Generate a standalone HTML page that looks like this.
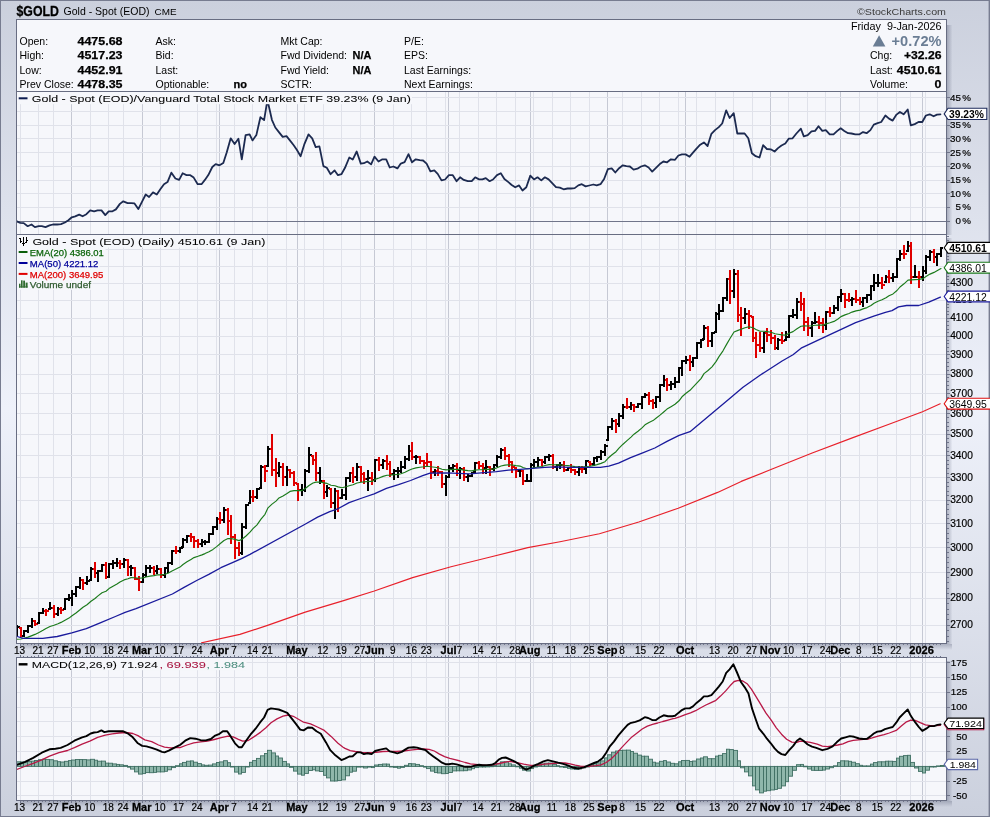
<!DOCTYPE html>
<html><head><meta charset="utf-8"><title>$GOLD - StockCharts</title>
<style>html,body{margin:0;padding:0;background:#cbd0dd;}body{width:990px;height:817px;overflow:hidden;font-family:"Liberation Sans",sans-serif;}svg{display:block}</style>
</head><body>
<svg width="990" height="817" viewBox="0 0 990 817" font-family="Liberation Sans, sans-serif" style="will-change:transform">
<defs>
<linearGradient id="bg" x1="0" y1="0" x2="0" y2="1"><stop offset="0" stop-color="#cbd0dd"/><stop offset="0.5" stop-color="#eef1fa"/><stop offset="1" stop-color="#cbd0dd"/></linearGradient>
<linearGradient id="shr" x1="0" y1="0" x2="1" y2="0"><stop offset="0" stop-color="#5a6078" stop-opacity="0.4"/><stop offset="1" stop-color="#5a6078" stop-opacity="0"/></linearGradient>
<linearGradient id="shb" x1="0" y1="0" x2="0" y2="1"><stop offset="0" stop-color="#5a6078" stop-opacity="0.36"/><stop offset="1" stop-color="#5a6078" stop-opacity="0"/></linearGradient>
</defs>
<rect x="0" y="0" width="990" height="817" fill="url(#bg)"/>
<rect x="0.5" y="0.5" width="989" height="816" fill="none" stroke="#777c90" stroke-width="1"/>
<rect x="988.6" y="0" width="1.4" height="817" fill="#787d91"/>
<rect x="947" y="25" width="5.5" height="210" fill="url(#shr)"/>
<rect x="947" y="238" width="5.5" height="406" fill="url(#shr)"/>
<rect x="947" y="661" width="5.5" height="140" fill="url(#shr)"/>
<rect x="20" y="644" width="932" height="6" fill="url(#shb)"/>
<rect x="20" y="801" width="932" height="6" fill="url(#shb)"/>
<rect x="16.5" y="19.5" width="930" height="624" fill="#f6f7fb" stroke="#686d82"/>
<rect x="16.5" y="657.5" width="930" height="143" fill="#f6f7fb" stroke="#686d82"/>
<g shape-rendering="crispEdges">
<line x1="20.5" y1="92" x2="20.5" y2="234" stroke="#e0e2ea"/>
<line x1="38.5" y1="92" x2="38.5" y2="234" stroke="#e0e2ea"/>
<line x1="53.5" y1="92" x2="53.5" y2="234" stroke="#e0e2ea"/>
<line x1="90.5" y1="92" x2="90.5" y2="234" stroke="#e0e2ea"/>
<line x1="108.5" y1="92" x2="108.5" y2="234" stroke="#e0e2ea"/>
<line x1="123.5" y1="92" x2="123.5" y2="234" stroke="#e0e2ea"/>
<line x1="160.5" y1="92" x2="160.5" y2="234" stroke="#e0e2ea"/>
<line x1="179.5" y1="92" x2="179.5" y2="234" stroke="#e0e2ea"/>
<line x1="197.5" y1="92" x2="197.5" y2="234" stroke="#e0e2ea"/>
<line x1="216.5" y1="92" x2="216.5" y2="234" stroke="#e0e2ea"/>
<line x1="234.5" y1="92" x2="234.5" y2="234" stroke="#e0e2ea"/>
<line x1="252.5" y1="92" x2="252.5" y2="234" stroke="#e0e2ea"/>
<line x1="267.5" y1="92" x2="267.5" y2="234" stroke="#e0e2ea"/>
<line x1="286.5" y1="92" x2="286.5" y2="234" stroke="#e0e2ea"/>
<line x1="304.5" y1="92" x2="304.5" y2="234" stroke="#e0e2ea"/>
<line x1="323.5" y1="92" x2="323.5" y2="234" stroke="#e0e2ea"/>
<line x1="341.5" y1="92" x2="341.5" y2="234" stroke="#e0e2ea"/>
<line x1="360.5" y1="92" x2="360.5" y2="234" stroke="#e0e2ea"/>
<line x1="393.5" y1="92" x2="393.5" y2="234" stroke="#e0e2ea"/>
<line x1="411.5" y1="92" x2="411.5" y2="234" stroke="#e0e2ea"/>
<line x1="426.5" y1="92" x2="426.5" y2="234" stroke="#e0e2ea"/>
<line x1="445.5" y1="92" x2="445.5" y2="234" stroke="#e0e2ea"/>
<line x1="459.5" y1="92" x2="459.5" y2="234" stroke="#e0e2ea"/>
<line x1="478.5" y1="92" x2="478.5" y2="234" stroke="#e0e2ea"/>
<line x1="496.5" y1="92" x2="496.5" y2="234" stroke="#e0e2ea"/>
<line x1="515.5" y1="92" x2="515.5" y2="234" stroke="#e0e2ea"/>
<line x1="533.5" y1="92" x2="533.5" y2="234" stroke="#e0e2ea"/>
<line x1="552.5" y1="92" x2="552.5" y2="234" stroke="#e0e2ea"/>
<line x1="570.5" y1="92" x2="570.5" y2="234" stroke="#e0e2ea"/>
<line x1="589.5" y1="92" x2="589.5" y2="234" stroke="#e0e2ea"/>
<line x1="622.5" y1="92" x2="622.5" y2="234" stroke="#e0e2ea"/>
<line x1="641.5" y1="92" x2="641.5" y2="234" stroke="#e0e2ea"/>
<line x1="659.5" y1="92" x2="659.5" y2="234" stroke="#e0e2ea"/>
<line x1="678.5" y1="92" x2="678.5" y2="234" stroke="#e0e2ea"/>
<line x1="696.5" y1="92" x2="696.5" y2="234" stroke="#e0e2ea"/>
<line x1="715.5" y1="92" x2="715.5" y2="234" stroke="#e0e2ea"/>
<line x1="733.5" y1="92" x2="733.5" y2="234" stroke="#e0e2ea"/>
<line x1="752.5" y1="92" x2="752.5" y2="234" stroke="#e0e2ea"/>
<line x1="788.5" y1="92" x2="788.5" y2="234" stroke="#e0e2ea"/>
<line x1="807.5" y1="92" x2="807.5" y2="234" stroke="#e0e2ea"/>
<line x1="825.5" y1="92" x2="825.5" y2="234" stroke="#e0e2ea"/>
<line x1="859.5" y1="92" x2="859.5" y2="234" stroke="#e0e2ea"/>
<line x1="877.5" y1="92" x2="877.5" y2="234" stroke="#e0e2ea"/>
<line x1="896.5" y1="92" x2="896.5" y2="234" stroke="#e0e2ea"/>
<line x1="910.5" y1="92" x2="910.5" y2="234" stroke="#e0e2ea"/>
<line x1="925.5" y1="92" x2="925.5" y2="234" stroke="#e0e2ea"/>
<line x1="71.5" y1="92" x2="71.5" y2="234" stroke="#c6c9d4"/>
<line x1="142.5" y1="92" x2="142.5" y2="234" stroke="#c6c9d4"/>
<line x1="219.5" y1="92" x2="219.5" y2="234" stroke="#c6c9d4"/>
<line x1="297.5" y1="92" x2="297.5" y2="234" stroke="#c6c9d4"/>
<line x1="374.5" y1="92" x2="374.5" y2="234" stroke="#c6c9d4"/>
<line x1="448.5" y1="92" x2="448.5" y2="234" stroke="#c6c9d4"/>
<line x1="530.5" y1="92" x2="530.5" y2="234" stroke="#c6c9d4"/>
<line x1="607.5" y1="92" x2="607.5" y2="234" stroke="#c6c9d4"/>
<line x1="685.5" y1="92" x2="685.5" y2="234" stroke="#c6c9d4"/>
<line x1="770.5" y1="92" x2="770.5" y2="234" stroke="#c6c9d4"/>
<line x1="840.5" y1="92" x2="840.5" y2="234" stroke="#c6c9d4"/>
<line x1="922.5" y1="92" x2="922.5" y2="234" stroke="#c6c9d4"/>
<line x1="20.5" y1="235" x2="20.5" y2="643" stroke="#e0e2ea"/>
<line x1="38.5" y1="235" x2="38.5" y2="643" stroke="#e0e2ea"/>
<line x1="53.5" y1="235" x2="53.5" y2="643" stroke="#e0e2ea"/>
<line x1="90.5" y1="235" x2="90.5" y2="643" stroke="#e0e2ea"/>
<line x1="108.5" y1="235" x2="108.5" y2="643" stroke="#e0e2ea"/>
<line x1="123.5" y1="235" x2="123.5" y2="643" stroke="#e0e2ea"/>
<line x1="160.5" y1="235" x2="160.5" y2="643" stroke="#e0e2ea"/>
<line x1="179.5" y1="235" x2="179.5" y2="643" stroke="#e0e2ea"/>
<line x1="197.5" y1="235" x2="197.5" y2="643" stroke="#e0e2ea"/>
<line x1="216.5" y1="235" x2="216.5" y2="643" stroke="#e0e2ea"/>
<line x1="234.5" y1="235" x2="234.5" y2="643" stroke="#e0e2ea"/>
<line x1="252.5" y1="235" x2="252.5" y2="643" stroke="#e0e2ea"/>
<line x1="267.5" y1="235" x2="267.5" y2="643" stroke="#e0e2ea"/>
<line x1="286.5" y1="235" x2="286.5" y2="643" stroke="#e0e2ea"/>
<line x1="304.5" y1="235" x2="304.5" y2="643" stroke="#e0e2ea"/>
<line x1="323.5" y1="235" x2="323.5" y2="643" stroke="#e0e2ea"/>
<line x1="341.5" y1="235" x2="341.5" y2="643" stroke="#e0e2ea"/>
<line x1="360.5" y1="235" x2="360.5" y2="643" stroke="#e0e2ea"/>
<line x1="393.5" y1="235" x2="393.5" y2="643" stroke="#e0e2ea"/>
<line x1="411.5" y1="235" x2="411.5" y2="643" stroke="#e0e2ea"/>
<line x1="426.5" y1="235" x2="426.5" y2="643" stroke="#e0e2ea"/>
<line x1="445.5" y1="235" x2="445.5" y2="643" stroke="#e0e2ea"/>
<line x1="459.5" y1="235" x2="459.5" y2="643" stroke="#e0e2ea"/>
<line x1="478.5" y1="235" x2="478.5" y2="643" stroke="#e0e2ea"/>
<line x1="496.5" y1="235" x2="496.5" y2="643" stroke="#e0e2ea"/>
<line x1="515.5" y1="235" x2="515.5" y2="643" stroke="#e0e2ea"/>
<line x1="533.5" y1="235" x2="533.5" y2="643" stroke="#e0e2ea"/>
<line x1="552.5" y1="235" x2="552.5" y2="643" stroke="#e0e2ea"/>
<line x1="570.5" y1="235" x2="570.5" y2="643" stroke="#e0e2ea"/>
<line x1="589.5" y1="235" x2="589.5" y2="643" stroke="#e0e2ea"/>
<line x1="622.5" y1="235" x2="622.5" y2="643" stroke="#e0e2ea"/>
<line x1="641.5" y1="235" x2="641.5" y2="643" stroke="#e0e2ea"/>
<line x1="659.5" y1="235" x2="659.5" y2="643" stroke="#e0e2ea"/>
<line x1="678.5" y1="235" x2="678.5" y2="643" stroke="#e0e2ea"/>
<line x1="696.5" y1="235" x2="696.5" y2="643" stroke="#e0e2ea"/>
<line x1="715.5" y1="235" x2="715.5" y2="643" stroke="#e0e2ea"/>
<line x1="733.5" y1="235" x2="733.5" y2="643" stroke="#e0e2ea"/>
<line x1="752.5" y1="235" x2="752.5" y2="643" stroke="#e0e2ea"/>
<line x1="788.5" y1="235" x2="788.5" y2="643" stroke="#e0e2ea"/>
<line x1="807.5" y1="235" x2="807.5" y2="643" stroke="#e0e2ea"/>
<line x1="825.5" y1="235" x2="825.5" y2="643" stroke="#e0e2ea"/>
<line x1="859.5" y1="235" x2="859.5" y2="643" stroke="#e0e2ea"/>
<line x1="877.5" y1="235" x2="877.5" y2="643" stroke="#e0e2ea"/>
<line x1="896.5" y1="235" x2="896.5" y2="643" stroke="#e0e2ea"/>
<line x1="910.5" y1="235" x2="910.5" y2="643" stroke="#e0e2ea"/>
<line x1="925.5" y1="235" x2="925.5" y2="643" stroke="#e0e2ea"/>
<line x1="71.5" y1="235" x2="71.5" y2="643" stroke="#c6c9d4"/>
<line x1="142.5" y1="235" x2="142.5" y2="643" stroke="#c6c9d4"/>
<line x1="219.5" y1="235" x2="219.5" y2="643" stroke="#c6c9d4"/>
<line x1="297.5" y1="235" x2="297.5" y2="643" stroke="#c6c9d4"/>
<line x1="374.5" y1="235" x2="374.5" y2="643" stroke="#c6c9d4"/>
<line x1="448.5" y1="235" x2="448.5" y2="643" stroke="#c6c9d4"/>
<line x1="530.5" y1="235" x2="530.5" y2="643" stroke="#c6c9d4"/>
<line x1="607.5" y1="235" x2="607.5" y2="643" stroke="#c6c9d4"/>
<line x1="685.5" y1="235" x2="685.5" y2="643" stroke="#c6c9d4"/>
<line x1="770.5" y1="235" x2="770.5" y2="643" stroke="#c6c9d4"/>
<line x1="840.5" y1="235" x2="840.5" y2="643" stroke="#c6c9d4"/>
<line x1="922.5" y1="235" x2="922.5" y2="643" stroke="#c6c9d4"/>
<line x1="20.5" y1="658" x2="20.5" y2="800" stroke="#e0e2ea"/>
<line x1="38.5" y1="658" x2="38.5" y2="800" stroke="#e0e2ea"/>
<line x1="53.5" y1="658" x2="53.5" y2="800" stroke="#e0e2ea"/>
<line x1="90.5" y1="658" x2="90.5" y2="800" stroke="#e0e2ea"/>
<line x1="108.5" y1="658" x2="108.5" y2="800" stroke="#e0e2ea"/>
<line x1="123.5" y1="658" x2="123.5" y2="800" stroke="#e0e2ea"/>
<line x1="160.5" y1="658" x2="160.5" y2="800" stroke="#e0e2ea"/>
<line x1="179.5" y1="658" x2="179.5" y2="800" stroke="#e0e2ea"/>
<line x1="197.5" y1="658" x2="197.5" y2="800" stroke="#e0e2ea"/>
<line x1="216.5" y1="658" x2="216.5" y2="800" stroke="#e0e2ea"/>
<line x1="234.5" y1="658" x2="234.5" y2="800" stroke="#e0e2ea"/>
<line x1="252.5" y1="658" x2="252.5" y2="800" stroke="#e0e2ea"/>
<line x1="267.5" y1="658" x2="267.5" y2="800" stroke="#e0e2ea"/>
<line x1="286.5" y1="658" x2="286.5" y2="800" stroke="#e0e2ea"/>
<line x1="304.5" y1="658" x2="304.5" y2="800" stroke="#e0e2ea"/>
<line x1="323.5" y1="658" x2="323.5" y2="800" stroke="#e0e2ea"/>
<line x1="341.5" y1="658" x2="341.5" y2="800" stroke="#e0e2ea"/>
<line x1="360.5" y1="658" x2="360.5" y2="800" stroke="#e0e2ea"/>
<line x1="393.5" y1="658" x2="393.5" y2="800" stroke="#e0e2ea"/>
<line x1="411.5" y1="658" x2="411.5" y2="800" stroke="#e0e2ea"/>
<line x1="426.5" y1="658" x2="426.5" y2="800" stroke="#e0e2ea"/>
<line x1="445.5" y1="658" x2="445.5" y2="800" stroke="#e0e2ea"/>
<line x1="459.5" y1="658" x2="459.5" y2="800" stroke="#e0e2ea"/>
<line x1="478.5" y1="658" x2="478.5" y2="800" stroke="#e0e2ea"/>
<line x1="496.5" y1="658" x2="496.5" y2="800" stroke="#e0e2ea"/>
<line x1="515.5" y1="658" x2="515.5" y2="800" stroke="#e0e2ea"/>
<line x1="533.5" y1="658" x2="533.5" y2="800" stroke="#e0e2ea"/>
<line x1="552.5" y1="658" x2="552.5" y2="800" stroke="#e0e2ea"/>
<line x1="570.5" y1="658" x2="570.5" y2="800" stroke="#e0e2ea"/>
<line x1="589.5" y1="658" x2="589.5" y2="800" stroke="#e0e2ea"/>
<line x1="622.5" y1="658" x2="622.5" y2="800" stroke="#e0e2ea"/>
<line x1="641.5" y1="658" x2="641.5" y2="800" stroke="#e0e2ea"/>
<line x1="659.5" y1="658" x2="659.5" y2="800" stroke="#e0e2ea"/>
<line x1="678.5" y1="658" x2="678.5" y2="800" stroke="#e0e2ea"/>
<line x1="696.5" y1="658" x2="696.5" y2="800" stroke="#e0e2ea"/>
<line x1="715.5" y1="658" x2="715.5" y2="800" stroke="#e0e2ea"/>
<line x1="733.5" y1="658" x2="733.5" y2="800" stroke="#e0e2ea"/>
<line x1="752.5" y1="658" x2="752.5" y2="800" stroke="#e0e2ea"/>
<line x1="788.5" y1="658" x2="788.5" y2="800" stroke="#e0e2ea"/>
<line x1="807.5" y1="658" x2="807.5" y2="800" stroke="#e0e2ea"/>
<line x1="825.5" y1="658" x2="825.5" y2="800" stroke="#e0e2ea"/>
<line x1="859.5" y1="658" x2="859.5" y2="800" stroke="#e0e2ea"/>
<line x1="877.5" y1="658" x2="877.5" y2="800" stroke="#e0e2ea"/>
<line x1="896.5" y1="658" x2="896.5" y2="800" stroke="#e0e2ea"/>
<line x1="910.5" y1="658" x2="910.5" y2="800" stroke="#e0e2ea"/>
<line x1="925.5" y1="658" x2="925.5" y2="800" stroke="#e0e2ea"/>
<line x1="71.5" y1="658" x2="71.5" y2="800" stroke="#c6c9d4"/>
<line x1="142.5" y1="658" x2="142.5" y2="800" stroke="#c6c9d4"/>
<line x1="219.5" y1="658" x2="219.5" y2="800" stroke="#c6c9d4"/>
<line x1="297.5" y1="658" x2="297.5" y2="800" stroke="#c6c9d4"/>
<line x1="374.5" y1="658" x2="374.5" y2="800" stroke="#c6c9d4"/>
<line x1="448.5" y1="658" x2="448.5" y2="800" stroke="#c6c9d4"/>
<line x1="530.5" y1="658" x2="530.5" y2="800" stroke="#c6c9d4"/>
<line x1="607.5" y1="658" x2="607.5" y2="800" stroke="#c6c9d4"/>
<line x1="685.5" y1="658" x2="685.5" y2="800" stroke="#c6c9d4"/>
<line x1="770.5" y1="658" x2="770.5" y2="800" stroke="#c6c9d4"/>
<line x1="840.5" y1="658" x2="840.5" y2="800" stroke="#c6c9d4"/>
<line x1="922.5" y1="658" x2="922.5" y2="800" stroke="#c6c9d4"/>
<line x1="17" y1="207.5" x2="946" y2="207.5" stroke="#e0e2ea"/>
<line x1="17" y1="193.5" x2="946" y2="193.5" stroke="#e0e2ea"/>
<line x1="17" y1="180.5" x2="946" y2="180.5" stroke="#e0e2ea"/>
<line x1="17" y1="166.5" x2="946" y2="166.5" stroke="#e0e2ea"/>
<line x1="17" y1="152.5" x2="946" y2="152.5" stroke="#e0e2ea"/>
<line x1="17" y1="138.5" x2="946" y2="138.5" stroke="#e0e2ea"/>
<line x1="17" y1="125.5" x2="946" y2="125.5" stroke="#e0e2ea"/>
<line x1="17" y1="111.5" x2="946" y2="111.5" stroke="#e0e2ea"/>
<line x1="17" y1="97.5" x2="946" y2="97.5" stroke="#e0e2ea"/>
<line x1="17" y1="625.5" x2="946" y2="625.5" stroke="#e0e2ea"/>
<line x1="17" y1="598.5" x2="946" y2="598.5" stroke="#e0e2ea"/>
<line x1="17" y1="572.5" x2="946" y2="572.5" stroke="#e0e2ea"/>
<line x1="17" y1="547.5" x2="946" y2="547.5" stroke="#e0e2ea"/>
<line x1="17" y1="523.5" x2="946" y2="523.5" stroke="#e0e2ea"/>
<line x1="17" y1="500.5" x2="946" y2="500.5" stroke="#e0e2ea"/>
<line x1="17" y1="477.5" x2="946" y2="477.5" stroke="#e0e2ea"/>
<line x1="17" y1="455.5" x2="946" y2="455.5" stroke="#e0e2ea"/>
<line x1="17" y1="434.5" x2="946" y2="434.5" stroke="#e0e2ea"/>
<line x1="17" y1="413.5" x2="946" y2="413.5" stroke="#e0e2ea"/>
<line x1="17" y1="393.5" x2="946" y2="393.5" stroke="#e0e2ea"/>
<line x1="17" y1="374.5" x2="946" y2="374.5" stroke="#e0e2ea"/>
<line x1="17" y1="354.5" x2="946" y2="354.5" stroke="#e0e2ea"/>
<line x1="17" y1="336.5" x2="946" y2="336.5" stroke="#e0e2ea"/>
<line x1="17" y1="318.5" x2="946" y2="318.5" stroke="#e0e2ea"/>
<line x1="17" y1="300.5" x2="946" y2="300.5" stroke="#e0e2ea"/>
<line x1="17" y1="283.5" x2="946" y2="283.5" stroke="#e0e2ea"/>
<line x1="17" y1="266.5" x2="946" y2="266.5" stroke="#e0e2ea"/>
<line x1="17" y1="249.5" x2="946" y2="249.5" stroke="#e0e2ea"/>
<line x1="17" y1="795.5" x2="946" y2="795.5" stroke="#e0e2ea"/>
<line x1="17" y1="781.5" x2="946" y2="781.5" stroke="#e0e2ea"/>
<line x1="17" y1="751.5" x2="946" y2="751.5" stroke="#e0e2ea"/>
<line x1="17" y1="736.5" x2="946" y2="736.5" stroke="#e0e2ea"/>
<line x1="17" y1="721.5" x2="946" y2="721.5" stroke="#e0e2ea"/>
<line x1="17" y1="707.5" x2="946" y2="707.5" stroke="#e0e2ea"/>
<line x1="17" y1="692.5" x2="946" y2="692.5" stroke="#e0e2ea"/>
<line x1="17" y1="677.5" x2="946" y2="677.5" stroke="#e0e2ea"/>
<line x1="17" y1="662.5" x2="946" y2="662.5" stroke="#e0e2ea"/>
<line x1="17" y1="221.5" x2="946" y2="221.5" stroke="#70758a"/>
<line x1="17" y1="766.5" x2="946" y2="766.5" stroke="#e0e2ea"/>
<line x1="17" y1="91.5" x2="946" y2="91.5" stroke="#686d82"/>
<line x1="17" y1="234.5" x2="946" y2="234.5" stroke="#686d82"/>
</g>
<g shape-rendering="crispEdges" stroke="#70758a">
<line x1="947" y1="221.5" x2="950" y2="221.5"/>
<line x1="947" y1="207.5" x2="950" y2="207.5"/>
<line x1="947" y1="193.5" x2="950" y2="193.5"/>
<line x1="947" y1="180.5" x2="950" y2="180.5"/>
<line x1="947" y1="166.5" x2="950" y2="166.5"/>
<line x1="947" y1="152.5" x2="950" y2="152.5"/>
<line x1="947" y1="138.5" x2="950" y2="138.5"/>
<line x1="947" y1="125.5" x2="950" y2="125.5"/>
<line x1="947" y1="111.5" x2="950" y2="111.5"/>
<line x1="947" y1="97.5" x2="950" y2="97.5"/>
<line x1="947" y1="641.5" x2="948.5" y2="641.5"/>
<line x1="947" y1="636.5" x2="948.5" y2="636.5"/>
<line x1="947" y1="630.5" x2="948.5" y2="630.5"/>
<line x1="947" y1="625.5" x2="950" y2="625.5"/>
<line x1="947" y1="619.5" x2="948.5" y2="619.5"/>
<line x1="947" y1="614.5" x2="948.5" y2="614.5"/>
<line x1="947" y1="609.5" x2="948.5" y2="609.5"/>
<line x1="947" y1="603.5" x2="948.5" y2="603.5"/>
<line x1="947" y1="598.5" x2="950" y2="598.5"/>
<line x1="947" y1="593.5" x2="948.5" y2="593.5"/>
<line x1="947" y1="588.5" x2="948.5" y2="588.5"/>
<line x1="947" y1="582.5" x2="948.5" y2="582.5"/>
<line x1="947" y1="577.5" x2="948.5" y2="577.5"/>
<line x1="947" y1="572.5" x2="950" y2="572.5"/>
<line x1="947" y1="567.5" x2="948.5" y2="567.5"/>
<line x1="947" y1="562.5" x2="948.5" y2="562.5"/>
<line x1="947" y1="557.5" x2="948.5" y2="557.5"/>
<line x1="947" y1="552.5" x2="948.5" y2="552.5"/>
<line x1="947" y1="547.5" x2="950" y2="547.5"/>
<line x1="947" y1="542.5" x2="948.5" y2="542.5"/>
<line x1="947" y1="538.5" x2="948.5" y2="538.5"/>
<line x1="947" y1="533.5" x2="948.5" y2="533.5"/>
<line x1="947" y1="528.5" x2="948.5" y2="528.5"/>
<line x1="947" y1="523.5" x2="950" y2="523.5"/>
<line x1="947" y1="518.5" x2="948.5" y2="518.5"/>
<line x1="947" y1="514.5" x2="948.5" y2="514.5"/>
<line x1="947" y1="509.5" x2="948.5" y2="509.5"/>
<line x1="947" y1="504.5" x2="948.5" y2="504.5"/>
<line x1="947" y1="500.5" x2="950" y2="500.5"/>
<line x1="947" y1="495.5" x2="948.5" y2="495.5"/>
<line x1="947" y1="491.5" x2="948.5" y2="491.5"/>
<line x1="947" y1="486.5" x2="948.5" y2="486.5"/>
<line x1="947" y1="482.5" x2="948.5" y2="482.5"/>
<line x1="947" y1="477.5" x2="950" y2="477.5"/>
<line x1="947" y1="473.5" x2="948.5" y2="473.5"/>
<line x1="947" y1="468.5" x2="948.5" y2="468.5"/>
<line x1="947" y1="464.5" x2="948.5" y2="464.5"/>
<line x1="947" y1="460.5" x2="948.5" y2="460.5"/>
<line x1="947" y1="455.5" x2="950" y2="455.5"/>
<line x1="947" y1="451.5" x2="948.5" y2="451.5"/>
<line x1="947" y1="447.5" x2="948.5" y2="447.5"/>
<line x1="947" y1="442.5" x2="948.5" y2="442.5"/>
<line x1="947" y1="438.5" x2="948.5" y2="438.5"/>
<line x1="947" y1="434.5" x2="950" y2="434.5"/>
<line x1="947" y1="430.5" x2="948.5" y2="430.5"/>
<line x1="947" y1="426.5" x2="948.5" y2="426.5"/>
<line x1="947" y1="422.5" x2="948.5" y2="422.5"/>
<line x1="947" y1="417.5" x2="948.5" y2="417.5"/>
<line x1="947" y1="413.5" x2="950" y2="413.5"/>
<line x1="947" y1="409.5" x2="948.5" y2="409.5"/>
<line x1="947" y1="405.5" x2="948.5" y2="405.5"/>
<line x1="947" y1="401.5" x2="948.5" y2="401.5"/>
<line x1="947" y1="397.5" x2="948.5" y2="397.5"/>
<line x1="947" y1="393.5" x2="950" y2="393.5"/>
<line x1="947" y1="389.5" x2="948.5" y2="389.5"/>
<line x1="947" y1="385.5" x2="948.5" y2="385.5"/>
<line x1="947" y1="381.5" x2="948.5" y2="381.5"/>
<line x1="947" y1="377.5" x2="948.5" y2="377.5"/>
<line x1="947" y1="374.5" x2="950" y2="374.5"/>
<line x1="947" y1="370.5" x2="948.5" y2="370.5"/>
<line x1="947" y1="366.5" x2="948.5" y2="366.5"/>
<line x1="947" y1="362.5" x2="948.5" y2="362.5"/>
<line x1="947" y1="358.5" x2="948.5" y2="358.5"/>
<line x1="947" y1="354.5" x2="950" y2="354.5"/>
<line x1="947" y1="351.5" x2="948.5" y2="351.5"/>
<line x1="947" y1="347.5" x2="948.5" y2="347.5"/>
<line x1="947" y1="343.5" x2="948.5" y2="343.5"/>
<line x1="947" y1="340.5" x2="948.5" y2="340.5"/>
<line x1="947" y1="336.5" x2="950" y2="336.5"/>
<line x1="947" y1="332.5" x2="948.5" y2="332.5"/>
<line x1="947" y1="329.5" x2="948.5" y2="329.5"/>
<line x1="947" y1="325.5" x2="948.5" y2="325.5"/>
<line x1="947" y1="321.5" x2="948.5" y2="321.5"/>
<line x1="947" y1="318.5" x2="950" y2="318.5"/>
<line x1="947" y1="314.5" x2="948.5" y2="314.5"/>
<line x1="947" y1="311.5" x2="948.5" y2="311.5"/>
<line x1="947" y1="307.5" x2="948.5" y2="307.5"/>
<line x1="947" y1="304.5" x2="948.5" y2="304.5"/>
<line x1="947" y1="300.5" x2="950" y2="300.5"/>
<line x1="947" y1="297.5" x2="948.5" y2="297.5"/>
<line x1="947" y1="293.5" x2="948.5" y2="293.5"/>
<line x1="947" y1="290.5" x2="948.5" y2="290.5"/>
<line x1="947" y1="286.5" x2="948.5" y2="286.5"/>
<line x1="947" y1="283.5" x2="950" y2="283.5"/>
<line x1="947" y1="279.5" x2="948.5" y2="279.5"/>
<line x1="947" y1="276.5" x2="948.5" y2="276.5"/>
<line x1="947" y1="273.5" x2="948.5" y2="273.5"/>
<line x1="947" y1="269.5" x2="948.5" y2="269.5"/>
<line x1="947" y1="266.5" x2="950" y2="266.5"/>
<line x1="947" y1="262.5" x2="948.5" y2="262.5"/>
<line x1="947" y1="259.5" x2="948.5" y2="259.5"/>
<line x1="947" y1="256.5" x2="948.5" y2="256.5"/>
<line x1="947" y1="253.5" x2="948.5" y2="253.5"/>
<line x1="947" y1="249.5" x2="950" y2="249.5"/>
<line x1="947" y1="246.5" x2="948.5" y2="246.5"/>
<line x1="947" y1="243.5" x2="948.5" y2="243.5"/>
<line x1="947" y1="240.5" x2="948.5" y2="240.5"/>
<line x1="947" y1="236.5" x2="948.5" y2="236.5"/>
<line x1="947" y1="795.5" x2="950" y2="795.5"/>
<line x1="947" y1="781.5" x2="950" y2="781.5"/>
<line x1="947" y1="766.5" x2="950" y2="766.5"/>
<line x1="947" y1="751.5" x2="950" y2="751.5"/>
<line x1="947" y1="736.5" x2="950" y2="736.5"/>
<line x1="947" y1="721.5" x2="950" y2="721.5"/>
<line x1="947" y1="707.5" x2="950" y2="707.5"/>
<line x1="947" y1="692.5" x2="950" y2="692.5"/>
<line x1="947" y1="677.5" x2="950" y2="677.5"/>
<line x1="947" y1="662.5" x2="950" y2="662.5"/>
<line x1="20.5" y1="644" x2="20.5" y2="646"/>
<line x1="20.5" y1="655" x2="20.5" y2="657"/>
<line x1="20.5" y1="801" x2="20.5" y2="803"/>
<line x1="23.5" y1="644" x2="23.5" y2="645"/>
<line x1="23.5" y1="656" x2="23.5" y2="657"/>
<line x1="23.5" y1="801" x2="23.5" y2="802"/>
<line x1="27.5" y1="644" x2="27.5" y2="645"/>
<line x1="27.5" y1="656" x2="27.5" y2="657"/>
<line x1="27.5" y1="801" x2="27.5" y2="802"/>
<line x1="31.5" y1="644" x2="31.5" y2="645"/>
<line x1="31.5" y1="656" x2="31.5" y2="657"/>
<line x1="31.5" y1="801" x2="31.5" y2="802"/>
<line x1="34.5" y1="644" x2="34.5" y2="645"/>
<line x1="34.5" y1="656" x2="34.5" y2="657"/>
<line x1="34.5" y1="801" x2="34.5" y2="802"/>
<line x1="38.5" y1="644" x2="38.5" y2="646"/>
<line x1="38.5" y1="655" x2="38.5" y2="657"/>
<line x1="38.5" y1="801" x2="38.5" y2="803"/>
<line x1="42.5" y1="644" x2="42.5" y2="645"/>
<line x1="42.5" y1="656" x2="42.5" y2="657"/>
<line x1="42.5" y1="801" x2="42.5" y2="802"/>
<line x1="45.5" y1="644" x2="45.5" y2="645"/>
<line x1="45.5" y1="656" x2="45.5" y2="657"/>
<line x1="45.5" y1="801" x2="45.5" y2="802"/>
<line x1="49.5" y1="644" x2="49.5" y2="645"/>
<line x1="49.5" y1="656" x2="49.5" y2="657"/>
<line x1="49.5" y1="801" x2="49.5" y2="802"/>
<line x1="53.5" y1="644" x2="53.5" y2="646"/>
<line x1="53.5" y1="655" x2="53.5" y2="657"/>
<line x1="53.5" y1="801" x2="53.5" y2="803"/>
<line x1="57.5" y1="644" x2="57.5" y2="645"/>
<line x1="57.5" y1="656" x2="57.5" y2="657"/>
<line x1="57.5" y1="801" x2="57.5" y2="802"/>
<line x1="60.5" y1="644" x2="60.5" y2="645"/>
<line x1="60.5" y1="656" x2="60.5" y2="657"/>
<line x1="60.5" y1="801" x2="60.5" y2="802"/>
<line x1="64.5" y1="644" x2="64.5" y2="645"/>
<line x1="64.5" y1="656" x2="64.5" y2="657"/>
<line x1="64.5" y1="801" x2="64.5" y2="802"/>
<line x1="68.5" y1="644" x2="68.5" y2="645"/>
<line x1="68.5" y1="656" x2="68.5" y2="657"/>
<line x1="68.5" y1="801" x2="68.5" y2="802"/>
<line x1="71.5" y1="644" x2="71.5" y2="646"/>
<line x1="71.5" y1="655" x2="71.5" y2="657"/>
<line x1="71.5" y1="801" x2="71.5" y2="803"/>
<line x1="75.5" y1="644" x2="75.5" y2="645"/>
<line x1="75.5" y1="656" x2="75.5" y2="657"/>
<line x1="75.5" y1="801" x2="75.5" y2="802"/>
<line x1="79.5" y1="644" x2="79.5" y2="645"/>
<line x1="79.5" y1="656" x2="79.5" y2="657"/>
<line x1="79.5" y1="801" x2="79.5" y2="802"/>
<line x1="82.5" y1="644" x2="82.5" y2="645"/>
<line x1="82.5" y1="656" x2="82.5" y2="657"/>
<line x1="82.5" y1="801" x2="82.5" y2="802"/>
<line x1="86.5" y1="644" x2="86.5" y2="645"/>
<line x1="86.5" y1="656" x2="86.5" y2="657"/>
<line x1="86.5" y1="801" x2="86.5" y2="802"/>
<line x1="90.5" y1="644" x2="90.5" y2="646"/>
<line x1="90.5" y1="655" x2="90.5" y2="657"/>
<line x1="90.5" y1="801" x2="90.5" y2="803"/>
<line x1="94.5" y1="644" x2="94.5" y2="645"/>
<line x1="94.5" y1="656" x2="94.5" y2="657"/>
<line x1="94.5" y1="801" x2="94.5" y2="802"/>
<line x1="97.5" y1="644" x2="97.5" y2="645"/>
<line x1="97.5" y1="656" x2="97.5" y2="657"/>
<line x1="97.5" y1="801" x2="97.5" y2="802"/>
<line x1="101.5" y1="644" x2="101.5" y2="645"/>
<line x1="101.5" y1="656" x2="101.5" y2="657"/>
<line x1="101.5" y1="801" x2="101.5" y2="802"/>
<line x1="105.5" y1="644" x2="105.5" y2="645"/>
<line x1="105.5" y1="656" x2="105.5" y2="657"/>
<line x1="105.5" y1="801" x2="105.5" y2="802"/>
<line x1="108.5" y1="644" x2="108.5" y2="646"/>
<line x1="108.5" y1="655" x2="108.5" y2="657"/>
<line x1="108.5" y1="801" x2="108.5" y2="803"/>
<line x1="112.5" y1="644" x2="112.5" y2="645"/>
<line x1="112.5" y1="656" x2="112.5" y2="657"/>
<line x1="112.5" y1="801" x2="112.5" y2="802"/>
<line x1="116.5" y1="644" x2="116.5" y2="645"/>
<line x1="116.5" y1="656" x2="116.5" y2="657"/>
<line x1="116.5" y1="801" x2="116.5" y2="802"/>
<line x1="119.5" y1="644" x2="119.5" y2="645"/>
<line x1="119.5" y1="656" x2="119.5" y2="657"/>
<line x1="119.5" y1="801" x2="119.5" y2="802"/>
<line x1="123.5" y1="644" x2="123.5" y2="646"/>
<line x1="123.5" y1="655" x2="123.5" y2="657"/>
<line x1="123.5" y1="801" x2="123.5" y2="803"/>
<line x1="127.5" y1="644" x2="127.5" y2="645"/>
<line x1="127.5" y1="656" x2="127.5" y2="657"/>
<line x1="127.5" y1="801" x2="127.5" y2="802"/>
<line x1="130.5" y1="644" x2="130.5" y2="645"/>
<line x1="130.5" y1="656" x2="130.5" y2="657"/>
<line x1="130.5" y1="801" x2="130.5" y2="802"/>
<line x1="134.5" y1="644" x2="134.5" y2="645"/>
<line x1="134.5" y1="656" x2="134.5" y2="657"/>
<line x1="134.5" y1="801" x2="134.5" y2="802"/>
<line x1="138.5" y1="644" x2="138.5" y2="645"/>
<line x1="138.5" y1="656" x2="138.5" y2="657"/>
<line x1="138.5" y1="801" x2="138.5" y2="802"/>
<line x1="142.5" y1="644" x2="142.5" y2="646"/>
<line x1="142.5" y1="655" x2="142.5" y2="657"/>
<line x1="142.5" y1="801" x2="142.5" y2="803"/>
<line x1="145.5" y1="644" x2="145.5" y2="645"/>
<line x1="145.5" y1="656" x2="145.5" y2="657"/>
<line x1="145.5" y1="801" x2="145.5" y2="802"/>
<line x1="149.5" y1="644" x2="149.5" y2="645"/>
<line x1="149.5" y1="656" x2="149.5" y2="657"/>
<line x1="149.5" y1="801" x2="149.5" y2="802"/>
<line x1="153.5" y1="644" x2="153.5" y2="645"/>
<line x1="153.5" y1="656" x2="153.5" y2="657"/>
<line x1="153.5" y1="801" x2="153.5" y2="802"/>
<line x1="156.5" y1="644" x2="156.5" y2="645"/>
<line x1="156.5" y1="656" x2="156.5" y2="657"/>
<line x1="156.5" y1="801" x2="156.5" y2="802"/>
<line x1="160.5" y1="644" x2="160.5" y2="646"/>
<line x1="160.5" y1="655" x2="160.5" y2="657"/>
<line x1="160.5" y1="801" x2="160.5" y2="803"/>
<line x1="164.5" y1="644" x2="164.5" y2="645"/>
<line x1="164.5" y1="656" x2="164.5" y2="657"/>
<line x1="164.5" y1="801" x2="164.5" y2="802"/>
<line x1="167.5" y1="644" x2="167.5" y2="645"/>
<line x1="167.5" y1="656" x2="167.5" y2="657"/>
<line x1="167.5" y1="801" x2="167.5" y2="802"/>
<line x1="171.5" y1="644" x2="171.5" y2="645"/>
<line x1="171.5" y1="656" x2="171.5" y2="657"/>
<line x1="171.5" y1="801" x2="171.5" y2="802"/>
<line x1="175.5" y1="644" x2="175.5" y2="645"/>
<line x1="175.5" y1="656" x2="175.5" y2="657"/>
<line x1="175.5" y1="801" x2="175.5" y2="802"/>
<line x1="179.5" y1="644" x2="179.5" y2="646"/>
<line x1="179.5" y1="655" x2="179.5" y2="657"/>
<line x1="179.5" y1="801" x2="179.5" y2="803"/>
<line x1="182.5" y1="644" x2="182.5" y2="645"/>
<line x1="182.5" y1="656" x2="182.5" y2="657"/>
<line x1="182.5" y1="801" x2="182.5" y2="802"/>
<line x1="186.5" y1="644" x2="186.5" y2="645"/>
<line x1="186.5" y1="656" x2="186.5" y2="657"/>
<line x1="186.5" y1="801" x2="186.5" y2="802"/>
<line x1="190.5" y1="644" x2="190.5" y2="645"/>
<line x1="190.5" y1="656" x2="190.5" y2="657"/>
<line x1="190.5" y1="801" x2="190.5" y2="802"/>
<line x1="193.5" y1="644" x2="193.5" y2="645"/>
<line x1="193.5" y1="656" x2="193.5" y2="657"/>
<line x1="193.5" y1="801" x2="193.5" y2="802"/>
<line x1="197.5" y1="644" x2="197.5" y2="646"/>
<line x1="197.5" y1="655" x2="197.5" y2="657"/>
<line x1="197.5" y1="801" x2="197.5" y2="803"/>
<line x1="201.5" y1="644" x2="201.5" y2="645"/>
<line x1="201.5" y1="656" x2="201.5" y2="657"/>
<line x1="201.5" y1="801" x2="201.5" y2="802"/>
<line x1="204.5" y1="644" x2="204.5" y2="645"/>
<line x1="204.5" y1="656" x2="204.5" y2="657"/>
<line x1="204.5" y1="801" x2="204.5" y2="802"/>
<line x1="208.5" y1="644" x2="208.5" y2="645"/>
<line x1="208.5" y1="656" x2="208.5" y2="657"/>
<line x1="208.5" y1="801" x2="208.5" y2="802"/>
<line x1="212.5" y1="644" x2="212.5" y2="645"/>
<line x1="212.5" y1="656" x2="212.5" y2="657"/>
<line x1="212.5" y1="801" x2="212.5" y2="802"/>
<line x1="216.5" y1="644" x2="216.5" y2="646"/>
<line x1="216.5" y1="655" x2="216.5" y2="657"/>
<line x1="216.5" y1="801" x2="216.5" y2="803"/>
<line x1="219.5" y1="644" x2="219.5" y2="646"/>
<line x1="219.5" y1="655" x2="219.5" y2="657"/>
<line x1="219.5" y1="801" x2="219.5" y2="803"/>
<line x1="223.5" y1="644" x2="223.5" y2="645"/>
<line x1="223.5" y1="656" x2="223.5" y2="657"/>
<line x1="223.5" y1="801" x2="223.5" y2="802"/>
<line x1="227.5" y1="644" x2="227.5" y2="645"/>
<line x1="227.5" y1="656" x2="227.5" y2="657"/>
<line x1="227.5" y1="801" x2="227.5" y2="802"/>
<line x1="230.5" y1="644" x2="230.5" y2="645"/>
<line x1="230.5" y1="656" x2="230.5" y2="657"/>
<line x1="230.5" y1="801" x2="230.5" y2="802"/>
<line x1="234.5" y1="644" x2="234.5" y2="646"/>
<line x1="234.5" y1="655" x2="234.5" y2="657"/>
<line x1="234.5" y1="801" x2="234.5" y2="803"/>
<line x1="238.5" y1="644" x2="238.5" y2="645"/>
<line x1="238.5" y1="656" x2="238.5" y2="657"/>
<line x1="238.5" y1="801" x2="238.5" y2="802"/>
<line x1="241.5" y1="644" x2="241.5" y2="645"/>
<line x1="241.5" y1="656" x2="241.5" y2="657"/>
<line x1="241.5" y1="801" x2="241.5" y2="802"/>
<line x1="245.5" y1="644" x2="245.5" y2="645"/>
<line x1="245.5" y1="656" x2="245.5" y2="657"/>
<line x1="245.5" y1="801" x2="245.5" y2="802"/>
<line x1="249.5" y1="644" x2="249.5" y2="645"/>
<line x1="249.5" y1="656" x2="249.5" y2="657"/>
<line x1="249.5" y1="801" x2="249.5" y2="802"/>
<line x1="252.5" y1="644" x2="252.5" y2="646"/>
<line x1="252.5" y1="655" x2="252.5" y2="657"/>
<line x1="252.5" y1="801" x2="252.5" y2="803"/>
<line x1="256.5" y1="644" x2="256.5" y2="645"/>
<line x1="256.5" y1="656" x2="256.5" y2="657"/>
<line x1="256.5" y1="801" x2="256.5" y2="802"/>
<line x1="260.5" y1="644" x2="260.5" y2="645"/>
<line x1="260.5" y1="656" x2="260.5" y2="657"/>
<line x1="260.5" y1="801" x2="260.5" y2="802"/>
<line x1="264.5" y1="644" x2="264.5" y2="645"/>
<line x1="264.5" y1="656" x2="264.5" y2="657"/>
<line x1="264.5" y1="801" x2="264.5" y2="802"/>
<line x1="267.5" y1="644" x2="267.5" y2="646"/>
<line x1="267.5" y1="655" x2="267.5" y2="657"/>
<line x1="267.5" y1="801" x2="267.5" y2="803"/>
<line x1="271.5" y1="644" x2="271.5" y2="645"/>
<line x1="271.5" y1="656" x2="271.5" y2="657"/>
<line x1="271.5" y1="801" x2="271.5" y2="802"/>
<line x1="275.5" y1="644" x2="275.5" y2="645"/>
<line x1="275.5" y1="656" x2="275.5" y2="657"/>
<line x1="275.5" y1="801" x2="275.5" y2="802"/>
<line x1="278.5" y1="644" x2="278.5" y2="645"/>
<line x1="278.5" y1="656" x2="278.5" y2="657"/>
<line x1="278.5" y1="801" x2="278.5" y2="802"/>
<line x1="282.5" y1="644" x2="282.5" y2="645"/>
<line x1="282.5" y1="656" x2="282.5" y2="657"/>
<line x1="282.5" y1="801" x2="282.5" y2="802"/>
<line x1="286.5" y1="644" x2="286.5" y2="646"/>
<line x1="286.5" y1="655" x2="286.5" y2="657"/>
<line x1="286.5" y1="801" x2="286.5" y2="803"/>
<line x1="289.5" y1="644" x2="289.5" y2="645"/>
<line x1="289.5" y1="656" x2="289.5" y2="657"/>
<line x1="289.5" y1="801" x2="289.5" y2="802"/>
<line x1="293.5" y1="644" x2="293.5" y2="645"/>
<line x1="293.5" y1="656" x2="293.5" y2="657"/>
<line x1="293.5" y1="801" x2="293.5" y2="802"/>
<line x1="297.5" y1="644" x2="297.5" y2="646"/>
<line x1="297.5" y1="655" x2="297.5" y2="657"/>
<line x1="297.5" y1="801" x2="297.5" y2="803"/>
<line x1="301.5" y1="644" x2="301.5" y2="645"/>
<line x1="301.5" y1="656" x2="301.5" y2="657"/>
<line x1="301.5" y1="801" x2="301.5" y2="802"/>
<line x1="304.5" y1="644" x2="304.5" y2="646"/>
<line x1="304.5" y1="655" x2="304.5" y2="657"/>
<line x1="304.5" y1="801" x2="304.5" y2="803"/>
<line x1="308.5" y1="644" x2="308.5" y2="645"/>
<line x1="308.5" y1="656" x2="308.5" y2="657"/>
<line x1="308.5" y1="801" x2="308.5" y2="802"/>
<line x1="312.5" y1="644" x2="312.5" y2="645"/>
<line x1="312.5" y1="656" x2="312.5" y2="657"/>
<line x1="312.5" y1="801" x2="312.5" y2="802"/>
<line x1="315.5" y1="644" x2="315.5" y2="645"/>
<line x1="315.5" y1="656" x2="315.5" y2="657"/>
<line x1="315.5" y1="801" x2="315.5" y2="802"/>
<line x1="319.5" y1="644" x2="319.5" y2="645"/>
<line x1="319.5" y1="656" x2="319.5" y2="657"/>
<line x1="319.5" y1="801" x2="319.5" y2="802"/>
<line x1="323.5" y1="644" x2="323.5" y2="646"/>
<line x1="323.5" y1="655" x2="323.5" y2="657"/>
<line x1="323.5" y1="801" x2="323.5" y2="803"/>
<line x1="326.5" y1="644" x2="326.5" y2="645"/>
<line x1="326.5" y1="656" x2="326.5" y2="657"/>
<line x1="326.5" y1="801" x2="326.5" y2="802"/>
<line x1="330.5" y1="644" x2="330.5" y2="645"/>
<line x1="330.5" y1="656" x2="330.5" y2="657"/>
<line x1="330.5" y1="801" x2="330.5" y2="802"/>
<line x1="334.5" y1="644" x2="334.5" y2="645"/>
<line x1="334.5" y1="656" x2="334.5" y2="657"/>
<line x1="334.5" y1="801" x2="334.5" y2="802"/>
<line x1="337.5" y1="644" x2="337.5" y2="645"/>
<line x1="337.5" y1="656" x2="337.5" y2="657"/>
<line x1="337.5" y1="801" x2="337.5" y2="802"/>
<line x1="341.5" y1="644" x2="341.5" y2="646"/>
<line x1="341.5" y1="655" x2="341.5" y2="657"/>
<line x1="341.5" y1="801" x2="341.5" y2="803"/>
<line x1="345.5" y1="644" x2="345.5" y2="645"/>
<line x1="345.5" y1="656" x2="345.5" y2="657"/>
<line x1="345.5" y1="801" x2="345.5" y2="802"/>
<line x1="349.5" y1="644" x2="349.5" y2="645"/>
<line x1="349.5" y1="656" x2="349.5" y2="657"/>
<line x1="349.5" y1="801" x2="349.5" y2="802"/>
<line x1="352.5" y1="644" x2="352.5" y2="645"/>
<line x1="352.5" y1="656" x2="352.5" y2="657"/>
<line x1="352.5" y1="801" x2="352.5" y2="802"/>
<line x1="356.5" y1="644" x2="356.5" y2="645"/>
<line x1="356.5" y1="656" x2="356.5" y2="657"/>
<line x1="356.5" y1="801" x2="356.5" y2="802"/>
<line x1="360.5" y1="644" x2="360.5" y2="646"/>
<line x1="360.5" y1="655" x2="360.5" y2="657"/>
<line x1="360.5" y1="801" x2="360.5" y2="803"/>
<line x1="363.5" y1="644" x2="363.5" y2="645"/>
<line x1="363.5" y1="656" x2="363.5" y2="657"/>
<line x1="363.5" y1="801" x2="363.5" y2="802"/>
<line x1="367.5" y1="644" x2="367.5" y2="645"/>
<line x1="367.5" y1="656" x2="367.5" y2="657"/>
<line x1="367.5" y1="801" x2="367.5" y2="802"/>
<line x1="371.5" y1="644" x2="371.5" y2="645"/>
<line x1="371.5" y1="656" x2="371.5" y2="657"/>
<line x1="371.5" y1="801" x2="371.5" y2="802"/>
<line x1="374.5" y1="644" x2="374.5" y2="646"/>
<line x1="374.5" y1="655" x2="374.5" y2="657"/>
<line x1="374.5" y1="801" x2="374.5" y2="803"/>
<line x1="378.5" y1="644" x2="378.5" y2="645"/>
<line x1="378.5" y1="656" x2="378.5" y2="657"/>
<line x1="378.5" y1="801" x2="378.5" y2="802"/>
<line x1="382.5" y1="644" x2="382.5" y2="645"/>
<line x1="382.5" y1="656" x2="382.5" y2="657"/>
<line x1="382.5" y1="801" x2="382.5" y2="802"/>
<line x1="386.5" y1="644" x2="386.5" y2="645"/>
<line x1="386.5" y1="656" x2="386.5" y2="657"/>
<line x1="386.5" y1="801" x2="386.5" y2="802"/>
<line x1="389.5" y1="644" x2="389.5" y2="645"/>
<line x1="389.5" y1="656" x2="389.5" y2="657"/>
<line x1="389.5" y1="801" x2="389.5" y2="802"/>
<line x1="393.5" y1="644" x2="393.5" y2="646"/>
<line x1="393.5" y1="655" x2="393.5" y2="657"/>
<line x1="393.5" y1="801" x2="393.5" y2="803"/>
<line x1="397.5" y1="644" x2="397.5" y2="645"/>
<line x1="397.5" y1="656" x2="397.5" y2="657"/>
<line x1="397.5" y1="801" x2="397.5" y2="802"/>
<line x1="400.5" y1="644" x2="400.5" y2="645"/>
<line x1="400.5" y1="656" x2="400.5" y2="657"/>
<line x1="400.5" y1="801" x2="400.5" y2="802"/>
<line x1="404.5" y1="644" x2="404.5" y2="645"/>
<line x1="404.5" y1="656" x2="404.5" y2="657"/>
<line x1="404.5" y1="801" x2="404.5" y2="802"/>
<line x1="408.5" y1="644" x2="408.5" y2="645"/>
<line x1="408.5" y1="656" x2="408.5" y2="657"/>
<line x1="408.5" y1="801" x2="408.5" y2="802"/>
<line x1="411.5" y1="644" x2="411.5" y2="646"/>
<line x1="411.5" y1="655" x2="411.5" y2="657"/>
<line x1="411.5" y1="801" x2="411.5" y2="803"/>
<line x1="415.5" y1="644" x2="415.5" y2="645"/>
<line x1="415.5" y1="656" x2="415.5" y2="657"/>
<line x1="415.5" y1="801" x2="415.5" y2="802"/>
<line x1="419.5" y1="644" x2="419.5" y2="645"/>
<line x1="419.5" y1="656" x2="419.5" y2="657"/>
<line x1="419.5" y1="801" x2="419.5" y2="802"/>
<line x1="423.5" y1="644" x2="423.5" y2="645"/>
<line x1="423.5" y1="656" x2="423.5" y2="657"/>
<line x1="423.5" y1="801" x2="423.5" y2="802"/>
<line x1="426.5" y1="644" x2="426.5" y2="646"/>
<line x1="426.5" y1="655" x2="426.5" y2="657"/>
<line x1="426.5" y1="801" x2="426.5" y2="803"/>
<line x1="430.5" y1="644" x2="430.5" y2="645"/>
<line x1="430.5" y1="656" x2="430.5" y2="657"/>
<line x1="430.5" y1="801" x2="430.5" y2="802"/>
<line x1="434.5" y1="644" x2="434.5" y2="645"/>
<line x1="434.5" y1="656" x2="434.5" y2="657"/>
<line x1="434.5" y1="801" x2="434.5" y2="802"/>
<line x1="437.5" y1="644" x2="437.5" y2="645"/>
<line x1="437.5" y1="656" x2="437.5" y2="657"/>
<line x1="437.5" y1="801" x2="437.5" y2="802"/>
<line x1="441.5" y1="644" x2="441.5" y2="645"/>
<line x1="441.5" y1="656" x2="441.5" y2="657"/>
<line x1="441.5" y1="801" x2="441.5" y2="802"/>
<line x1="445.5" y1="644" x2="445.5" y2="646"/>
<line x1="445.5" y1="655" x2="445.5" y2="657"/>
<line x1="445.5" y1="801" x2="445.5" y2="803"/>
<line x1="448.5" y1="644" x2="448.5" y2="646"/>
<line x1="448.5" y1="655" x2="448.5" y2="657"/>
<line x1="448.5" y1="801" x2="448.5" y2="803"/>
<line x1="452.5" y1="644" x2="452.5" y2="645"/>
<line x1="452.5" y1="656" x2="452.5" y2="657"/>
<line x1="452.5" y1="801" x2="452.5" y2="802"/>
<line x1="456.5" y1="644" x2="456.5" y2="645"/>
<line x1="456.5" y1="656" x2="456.5" y2="657"/>
<line x1="456.5" y1="801" x2="456.5" y2="802"/>
<line x1="459.5" y1="644" x2="459.5" y2="646"/>
<line x1="459.5" y1="655" x2="459.5" y2="657"/>
<line x1="459.5" y1="801" x2="459.5" y2="803"/>
<line x1="463.5" y1="644" x2="463.5" y2="645"/>
<line x1="463.5" y1="656" x2="463.5" y2="657"/>
<line x1="463.5" y1="801" x2="463.5" y2="802"/>
<line x1="467.5" y1="644" x2="467.5" y2="645"/>
<line x1="467.5" y1="656" x2="467.5" y2="657"/>
<line x1="467.5" y1="801" x2="467.5" y2="802"/>
<line x1="471.5" y1="644" x2="471.5" y2="645"/>
<line x1="471.5" y1="656" x2="471.5" y2="657"/>
<line x1="471.5" y1="801" x2="471.5" y2="802"/>
<line x1="474.5" y1="644" x2="474.5" y2="645"/>
<line x1="474.5" y1="656" x2="474.5" y2="657"/>
<line x1="474.5" y1="801" x2="474.5" y2="802"/>
<line x1="478.5" y1="644" x2="478.5" y2="646"/>
<line x1="478.5" y1="655" x2="478.5" y2="657"/>
<line x1="478.5" y1="801" x2="478.5" y2="803"/>
<line x1="482.5" y1="644" x2="482.5" y2="645"/>
<line x1="482.5" y1="656" x2="482.5" y2="657"/>
<line x1="482.5" y1="801" x2="482.5" y2="802"/>
<line x1="485.5" y1="644" x2="485.5" y2="645"/>
<line x1="485.5" y1="656" x2="485.5" y2="657"/>
<line x1="485.5" y1="801" x2="485.5" y2="802"/>
<line x1="489.5" y1="644" x2="489.5" y2="645"/>
<line x1="489.5" y1="656" x2="489.5" y2="657"/>
<line x1="489.5" y1="801" x2="489.5" y2="802"/>
<line x1="493.5" y1="644" x2="493.5" y2="645"/>
<line x1="493.5" y1="656" x2="493.5" y2="657"/>
<line x1="493.5" y1="801" x2="493.5" y2="802"/>
<line x1="496.5" y1="644" x2="496.5" y2="646"/>
<line x1="496.5" y1="655" x2="496.5" y2="657"/>
<line x1="496.5" y1="801" x2="496.5" y2="803"/>
<line x1="500.5" y1="644" x2="500.5" y2="645"/>
<line x1="500.5" y1="656" x2="500.5" y2="657"/>
<line x1="500.5" y1="801" x2="500.5" y2="802"/>
<line x1="504.5" y1="644" x2="504.5" y2="645"/>
<line x1="504.5" y1="656" x2="504.5" y2="657"/>
<line x1="504.5" y1="801" x2="504.5" y2="802"/>
<line x1="508.5" y1="644" x2="508.5" y2="645"/>
<line x1="508.5" y1="656" x2="508.5" y2="657"/>
<line x1="508.5" y1="801" x2="508.5" y2="802"/>
<line x1="511.5" y1="644" x2="511.5" y2="645"/>
<line x1="511.5" y1="656" x2="511.5" y2="657"/>
<line x1="511.5" y1="801" x2="511.5" y2="802"/>
<line x1="515.5" y1="644" x2="515.5" y2="646"/>
<line x1="515.5" y1="655" x2="515.5" y2="657"/>
<line x1="515.5" y1="801" x2="515.5" y2="803"/>
<line x1="519.5" y1="644" x2="519.5" y2="645"/>
<line x1="519.5" y1="656" x2="519.5" y2="657"/>
<line x1="519.5" y1="801" x2="519.5" y2="802"/>
<line x1="522.5" y1="644" x2="522.5" y2="645"/>
<line x1="522.5" y1="656" x2="522.5" y2="657"/>
<line x1="522.5" y1="801" x2="522.5" y2="802"/>
<line x1="526.5" y1="644" x2="526.5" y2="645"/>
<line x1="526.5" y1="656" x2="526.5" y2="657"/>
<line x1="526.5" y1="801" x2="526.5" y2="802"/>
<line x1="530.5" y1="644" x2="530.5" y2="646"/>
<line x1="530.5" y1="655" x2="530.5" y2="657"/>
<line x1="530.5" y1="801" x2="530.5" y2="803"/>
<line x1="533.5" y1="644" x2="533.5" y2="646"/>
<line x1="533.5" y1="655" x2="533.5" y2="657"/>
<line x1="533.5" y1="801" x2="533.5" y2="803"/>
<line x1="537.5" y1="644" x2="537.5" y2="645"/>
<line x1="537.5" y1="656" x2="537.5" y2="657"/>
<line x1="537.5" y1="801" x2="537.5" y2="802"/>
<line x1="541.5" y1="644" x2="541.5" y2="645"/>
<line x1="541.5" y1="656" x2="541.5" y2="657"/>
<line x1="541.5" y1="801" x2="541.5" y2="802"/>
<line x1="545.5" y1="644" x2="545.5" y2="645"/>
<line x1="545.5" y1="656" x2="545.5" y2="657"/>
<line x1="545.5" y1="801" x2="545.5" y2="802"/>
<line x1="548.5" y1="644" x2="548.5" y2="645"/>
<line x1="548.5" y1="656" x2="548.5" y2="657"/>
<line x1="548.5" y1="801" x2="548.5" y2="802"/>
<line x1="552.5" y1="644" x2="552.5" y2="646"/>
<line x1="552.5" y1="655" x2="552.5" y2="657"/>
<line x1="552.5" y1="801" x2="552.5" y2="803"/>
<line x1="556.5" y1="644" x2="556.5" y2="645"/>
<line x1="556.5" y1="656" x2="556.5" y2="657"/>
<line x1="556.5" y1="801" x2="556.5" y2="802"/>
<line x1="559.5" y1="644" x2="559.5" y2="645"/>
<line x1="559.5" y1="656" x2="559.5" y2="657"/>
<line x1="559.5" y1="801" x2="559.5" y2="802"/>
<line x1="563.5" y1="644" x2="563.5" y2="645"/>
<line x1="563.5" y1="656" x2="563.5" y2="657"/>
<line x1="563.5" y1="801" x2="563.5" y2="802"/>
<line x1="567.5" y1="644" x2="567.5" y2="645"/>
<line x1="567.5" y1="656" x2="567.5" y2="657"/>
<line x1="567.5" y1="801" x2="567.5" y2="802"/>
<line x1="570.5" y1="644" x2="570.5" y2="646"/>
<line x1="570.5" y1="655" x2="570.5" y2="657"/>
<line x1="570.5" y1="801" x2="570.5" y2="803"/>
<line x1="574.5" y1="644" x2="574.5" y2="645"/>
<line x1="574.5" y1="656" x2="574.5" y2="657"/>
<line x1="574.5" y1="801" x2="574.5" y2="802"/>
<line x1="578.5" y1="644" x2="578.5" y2="645"/>
<line x1="578.5" y1="656" x2="578.5" y2="657"/>
<line x1="578.5" y1="801" x2="578.5" y2="802"/>
<line x1="581.5" y1="644" x2="581.5" y2="645"/>
<line x1="581.5" y1="656" x2="581.5" y2="657"/>
<line x1="581.5" y1="801" x2="581.5" y2="802"/>
<line x1="585.5" y1="644" x2="585.5" y2="645"/>
<line x1="585.5" y1="656" x2="585.5" y2="657"/>
<line x1="585.5" y1="801" x2="585.5" y2="802"/>
<line x1="589.5" y1="644" x2="589.5" y2="646"/>
<line x1="589.5" y1="655" x2="589.5" y2="657"/>
<line x1="589.5" y1="801" x2="589.5" y2="803"/>
<line x1="593.5" y1="644" x2="593.5" y2="645"/>
<line x1="593.5" y1="656" x2="593.5" y2="657"/>
<line x1="593.5" y1="801" x2="593.5" y2="802"/>
<line x1="596.5" y1="644" x2="596.5" y2="645"/>
<line x1="596.5" y1="656" x2="596.5" y2="657"/>
<line x1="596.5" y1="801" x2="596.5" y2="802"/>
<line x1="600.5" y1="644" x2="600.5" y2="645"/>
<line x1="600.5" y1="656" x2="600.5" y2="657"/>
<line x1="600.5" y1="801" x2="600.5" y2="802"/>
<line x1="604.5" y1="644" x2="604.5" y2="645"/>
<line x1="604.5" y1="656" x2="604.5" y2="657"/>
<line x1="604.5" y1="801" x2="604.5" y2="802"/>
<line x1="607.5" y1="644" x2="607.5" y2="646"/>
<line x1="607.5" y1="655" x2="607.5" y2="657"/>
<line x1="607.5" y1="801" x2="607.5" y2="803"/>
<line x1="611.5" y1="644" x2="611.5" y2="645"/>
<line x1="611.5" y1="656" x2="611.5" y2="657"/>
<line x1="611.5" y1="801" x2="611.5" y2="802"/>
<line x1="615.5" y1="644" x2="615.5" y2="645"/>
<line x1="615.5" y1="656" x2="615.5" y2="657"/>
<line x1="615.5" y1="801" x2="615.5" y2="802"/>
<line x1="618.5" y1="644" x2="618.5" y2="645"/>
<line x1="618.5" y1="656" x2="618.5" y2="657"/>
<line x1="618.5" y1="801" x2="618.5" y2="802"/>
<line x1="622.5" y1="644" x2="622.5" y2="646"/>
<line x1="622.5" y1="655" x2="622.5" y2="657"/>
<line x1="622.5" y1="801" x2="622.5" y2="803"/>
<line x1="626.5" y1="644" x2="626.5" y2="645"/>
<line x1="626.5" y1="656" x2="626.5" y2="657"/>
<line x1="626.5" y1="801" x2="626.5" y2="802"/>
<line x1="630.5" y1="644" x2="630.5" y2="645"/>
<line x1="630.5" y1="656" x2="630.5" y2="657"/>
<line x1="630.5" y1="801" x2="630.5" y2="802"/>
<line x1="633.5" y1="644" x2="633.5" y2="645"/>
<line x1="633.5" y1="656" x2="633.5" y2="657"/>
<line x1="633.5" y1="801" x2="633.5" y2="802"/>
<line x1="637.5" y1="644" x2="637.5" y2="645"/>
<line x1="637.5" y1="656" x2="637.5" y2="657"/>
<line x1="637.5" y1="801" x2="637.5" y2="802"/>
<line x1="641.5" y1="644" x2="641.5" y2="646"/>
<line x1="641.5" y1="655" x2="641.5" y2="657"/>
<line x1="641.5" y1="801" x2="641.5" y2="803"/>
<line x1="644.5" y1="644" x2="644.5" y2="645"/>
<line x1="644.5" y1="656" x2="644.5" y2="657"/>
<line x1="644.5" y1="801" x2="644.5" y2="802"/>
<line x1="648.5" y1="644" x2="648.5" y2="645"/>
<line x1="648.5" y1="656" x2="648.5" y2="657"/>
<line x1="648.5" y1="801" x2="648.5" y2="802"/>
<line x1="652.5" y1="644" x2="652.5" y2="645"/>
<line x1="652.5" y1="656" x2="652.5" y2="657"/>
<line x1="652.5" y1="801" x2="652.5" y2="802"/>
<line x1="655.5" y1="644" x2="655.5" y2="645"/>
<line x1="655.5" y1="656" x2="655.5" y2="657"/>
<line x1="655.5" y1="801" x2="655.5" y2="802"/>
<line x1="659.5" y1="644" x2="659.5" y2="646"/>
<line x1="659.5" y1="655" x2="659.5" y2="657"/>
<line x1="659.5" y1="801" x2="659.5" y2="803"/>
<line x1="663.5" y1="644" x2="663.5" y2="645"/>
<line x1="663.5" y1="656" x2="663.5" y2="657"/>
<line x1="663.5" y1="801" x2="663.5" y2="802"/>
<line x1="666.5" y1="644" x2="666.5" y2="645"/>
<line x1="666.5" y1="656" x2="666.5" y2="657"/>
<line x1="666.5" y1="801" x2="666.5" y2="802"/>
<line x1="670.5" y1="644" x2="670.5" y2="645"/>
<line x1="670.5" y1="656" x2="670.5" y2="657"/>
<line x1="670.5" y1="801" x2="670.5" y2="802"/>
<line x1="674.5" y1="644" x2="674.5" y2="645"/>
<line x1="674.5" y1="656" x2="674.5" y2="657"/>
<line x1="674.5" y1="801" x2="674.5" y2="802"/>
<line x1="678.5" y1="644" x2="678.5" y2="646"/>
<line x1="678.5" y1="655" x2="678.5" y2="657"/>
<line x1="678.5" y1="801" x2="678.5" y2="803"/>
<line x1="681.5" y1="644" x2="681.5" y2="645"/>
<line x1="681.5" y1="656" x2="681.5" y2="657"/>
<line x1="681.5" y1="801" x2="681.5" y2="802"/>
<line x1="685.5" y1="644" x2="685.5" y2="646"/>
<line x1="685.5" y1="655" x2="685.5" y2="657"/>
<line x1="685.5" y1="801" x2="685.5" y2="803"/>
<line x1="689.5" y1="644" x2="689.5" y2="645"/>
<line x1="689.5" y1="656" x2="689.5" y2="657"/>
<line x1="689.5" y1="801" x2="689.5" y2="802"/>
<line x1="692.5" y1="644" x2="692.5" y2="645"/>
<line x1="692.5" y1="656" x2="692.5" y2="657"/>
<line x1="692.5" y1="801" x2="692.5" y2="802"/>
<line x1="696.5" y1="644" x2="696.5" y2="646"/>
<line x1="696.5" y1="655" x2="696.5" y2="657"/>
<line x1="696.5" y1="801" x2="696.5" y2="803"/>
<line x1="700.5" y1="644" x2="700.5" y2="645"/>
<line x1="700.5" y1="656" x2="700.5" y2="657"/>
<line x1="700.5" y1="801" x2="700.5" y2="802"/>
<line x1="703.5" y1="644" x2="703.5" y2="645"/>
<line x1="703.5" y1="656" x2="703.5" y2="657"/>
<line x1="703.5" y1="801" x2="703.5" y2="802"/>
<line x1="707.5" y1="644" x2="707.5" y2="645"/>
<line x1="707.5" y1="656" x2="707.5" y2="657"/>
<line x1="707.5" y1="801" x2="707.5" y2="802"/>
<line x1="711.5" y1="644" x2="711.5" y2="645"/>
<line x1="711.5" y1="656" x2="711.5" y2="657"/>
<line x1="711.5" y1="801" x2="711.5" y2="802"/>
<line x1="715.5" y1="644" x2="715.5" y2="646"/>
<line x1="715.5" y1="655" x2="715.5" y2="657"/>
<line x1="715.5" y1="801" x2="715.5" y2="803"/>
<line x1="718.5" y1="644" x2="718.5" y2="645"/>
<line x1="718.5" y1="656" x2="718.5" y2="657"/>
<line x1="718.5" y1="801" x2="718.5" y2="802"/>
<line x1="722.5" y1="644" x2="722.5" y2="645"/>
<line x1="722.5" y1="656" x2="722.5" y2="657"/>
<line x1="722.5" y1="801" x2="722.5" y2="802"/>
<line x1="726.5" y1="644" x2="726.5" y2="645"/>
<line x1="726.5" y1="656" x2="726.5" y2="657"/>
<line x1="726.5" y1="801" x2="726.5" y2="802"/>
<line x1="729.5" y1="644" x2="729.5" y2="645"/>
<line x1="729.5" y1="656" x2="729.5" y2="657"/>
<line x1="729.5" y1="801" x2="729.5" y2="802"/>
<line x1="733.5" y1="644" x2="733.5" y2="646"/>
<line x1="733.5" y1="655" x2="733.5" y2="657"/>
<line x1="733.5" y1="801" x2="733.5" y2="803"/>
<line x1="737.5" y1="644" x2="737.5" y2="645"/>
<line x1="737.5" y1="656" x2="737.5" y2="657"/>
<line x1="737.5" y1="801" x2="737.5" y2="802"/>
<line x1="740.5" y1="644" x2="740.5" y2="645"/>
<line x1="740.5" y1="656" x2="740.5" y2="657"/>
<line x1="740.5" y1="801" x2="740.5" y2="802"/>
<line x1="744.5" y1="644" x2="744.5" y2="645"/>
<line x1="744.5" y1="656" x2="744.5" y2="657"/>
<line x1="744.5" y1="801" x2="744.5" y2="802"/>
<line x1="748.5" y1="644" x2="748.5" y2="645"/>
<line x1="748.5" y1="656" x2="748.5" y2="657"/>
<line x1="748.5" y1="801" x2="748.5" y2="802"/>
<line x1="752.5" y1="644" x2="752.5" y2="646"/>
<line x1="752.5" y1="655" x2="752.5" y2="657"/>
<line x1="752.5" y1="801" x2="752.5" y2="803"/>
<line x1="755.5" y1="644" x2="755.5" y2="645"/>
<line x1="755.5" y1="656" x2="755.5" y2="657"/>
<line x1="755.5" y1="801" x2="755.5" y2="802"/>
<line x1="759.5" y1="644" x2="759.5" y2="645"/>
<line x1="759.5" y1="656" x2="759.5" y2="657"/>
<line x1="759.5" y1="801" x2="759.5" y2="802"/>
<line x1="763.5" y1="644" x2="763.5" y2="645"/>
<line x1="763.5" y1="656" x2="763.5" y2="657"/>
<line x1="763.5" y1="801" x2="763.5" y2="802"/>
<line x1="766.5" y1="644" x2="766.5" y2="645"/>
<line x1="766.5" y1="656" x2="766.5" y2="657"/>
<line x1="766.5" y1="801" x2="766.5" y2="802"/>
<line x1="770.5" y1="644" x2="770.5" y2="646"/>
<line x1="770.5" y1="655" x2="770.5" y2="657"/>
<line x1="770.5" y1="801" x2="770.5" y2="803"/>
<line x1="774.5" y1="644" x2="774.5" y2="645"/>
<line x1="774.5" y1="656" x2="774.5" y2="657"/>
<line x1="774.5" y1="801" x2="774.5" y2="802"/>
<line x1="777.5" y1="644" x2="777.5" y2="645"/>
<line x1="777.5" y1="656" x2="777.5" y2="657"/>
<line x1="777.5" y1="801" x2="777.5" y2="802"/>
<line x1="781.5" y1="644" x2="781.5" y2="645"/>
<line x1="781.5" y1="656" x2="781.5" y2="657"/>
<line x1="781.5" y1="801" x2="781.5" y2="802"/>
<line x1="785.5" y1="644" x2="785.5" y2="645"/>
<line x1="785.5" y1="656" x2="785.5" y2="657"/>
<line x1="785.5" y1="801" x2="785.5" y2="802"/>
<line x1="788.5" y1="644" x2="788.5" y2="646"/>
<line x1="788.5" y1="655" x2="788.5" y2="657"/>
<line x1="788.5" y1="801" x2="788.5" y2="803"/>
<line x1="792.5" y1="644" x2="792.5" y2="645"/>
<line x1="792.5" y1="656" x2="792.5" y2="657"/>
<line x1="792.5" y1="801" x2="792.5" y2="802"/>
<line x1="796.5" y1="644" x2="796.5" y2="645"/>
<line x1="796.5" y1="656" x2="796.5" y2="657"/>
<line x1="796.5" y1="801" x2="796.5" y2="802"/>
<line x1="800.5" y1="644" x2="800.5" y2="645"/>
<line x1="800.5" y1="656" x2="800.5" y2="657"/>
<line x1="800.5" y1="801" x2="800.5" y2="802"/>
<line x1="803.5" y1="644" x2="803.5" y2="645"/>
<line x1="803.5" y1="656" x2="803.5" y2="657"/>
<line x1="803.5" y1="801" x2="803.5" y2="802"/>
<line x1="807.5" y1="644" x2="807.5" y2="646"/>
<line x1="807.5" y1="655" x2="807.5" y2="657"/>
<line x1="807.5" y1="801" x2="807.5" y2="803"/>
<line x1="811.5" y1="644" x2="811.5" y2="645"/>
<line x1="811.5" y1="656" x2="811.5" y2="657"/>
<line x1="811.5" y1="801" x2="811.5" y2="802"/>
<line x1="814.5" y1="644" x2="814.5" y2="645"/>
<line x1="814.5" y1="656" x2="814.5" y2="657"/>
<line x1="814.5" y1="801" x2="814.5" y2="802"/>
<line x1="818.5" y1="644" x2="818.5" y2="645"/>
<line x1="818.5" y1="656" x2="818.5" y2="657"/>
<line x1="818.5" y1="801" x2="818.5" y2="802"/>
<line x1="822.5" y1="644" x2="822.5" y2="645"/>
<line x1="822.5" y1="656" x2="822.5" y2="657"/>
<line x1="822.5" y1="801" x2="822.5" y2="802"/>
<line x1="825.5" y1="644" x2="825.5" y2="646"/>
<line x1="825.5" y1="655" x2="825.5" y2="657"/>
<line x1="825.5" y1="801" x2="825.5" y2="803"/>
<line x1="829.5" y1="644" x2="829.5" y2="645"/>
<line x1="829.5" y1="656" x2="829.5" y2="657"/>
<line x1="829.5" y1="801" x2="829.5" y2="802"/>
<line x1="833.5" y1="644" x2="833.5" y2="645"/>
<line x1="833.5" y1="656" x2="833.5" y2="657"/>
<line x1="833.5" y1="801" x2="833.5" y2="802"/>
<line x1="837.5" y1="644" x2="837.5" y2="645"/>
<line x1="837.5" y1="656" x2="837.5" y2="657"/>
<line x1="837.5" y1="801" x2="837.5" y2="802"/>
<line x1="840.5" y1="644" x2="840.5" y2="646"/>
<line x1="840.5" y1="655" x2="840.5" y2="657"/>
<line x1="840.5" y1="801" x2="840.5" y2="803"/>
<line x1="844.5" y1="644" x2="844.5" y2="645"/>
<line x1="844.5" y1="656" x2="844.5" y2="657"/>
<line x1="844.5" y1="801" x2="844.5" y2="802"/>
<line x1="848.5" y1="644" x2="848.5" y2="645"/>
<line x1="848.5" y1="656" x2="848.5" y2="657"/>
<line x1="848.5" y1="801" x2="848.5" y2="802"/>
<line x1="851.5" y1="644" x2="851.5" y2="645"/>
<line x1="851.5" y1="656" x2="851.5" y2="657"/>
<line x1="851.5" y1="801" x2="851.5" y2="802"/>
<line x1="855.5" y1="644" x2="855.5" y2="645"/>
<line x1="855.5" y1="656" x2="855.5" y2="657"/>
<line x1="855.5" y1="801" x2="855.5" y2="802"/>
<line x1="859.5" y1="644" x2="859.5" y2="646"/>
<line x1="859.5" y1="655" x2="859.5" y2="657"/>
<line x1="859.5" y1="801" x2="859.5" y2="803"/>
<line x1="862.5" y1="644" x2="862.5" y2="645"/>
<line x1="862.5" y1="656" x2="862.5" y2="657"/>
<line x1="862.5" y1="801" x2="862.5" y2="802"/>
<line x1="866.5" y1="644" x2="866.5" y2="645"/>
<line x1="866.5" y1="656" x2="866.5" y2="657"/>
<line x1="866.5" y1="801" x2="866.5" y2="802"/>
<line x1="870.5" y1="644" x2="870.5" y2="645"/>
<line x1="870.5" y1="656" x2="870.5" y2="657"/>
<line x1="870.5" y1="801" x2="870.5" y2="802"/>
<line x1="873.5" y1="644" x2="873.5" y2="645"/>
<line x1="873.5" y1="656" x2="873.5" y2="657"/>
<line x1="873.5" y1="801" x2="873.5" y2="802"/>
<line x1="877.5" y1="644" x2="877.5" y2="646"/>
<line x1="877.5" y1="655" x2="877.5" y2="657"/>
<line x1="877.5" y1="801" x2="877.5" y2="803"/>
<line x1="881.5" y1="644" x2="881.5" y2="645"/>
<line x1="881.5" y1="656" x2="881.5" y2="657"/>
<line x1="881.5" y1="801" x2="881.5" y2="802"/>
<line x1="885.5" y1="644" x2="885.5" y2="645"/>
<line x1="885.5" y1="656" x2="885.5" y2="657"/>
<line x1="885.5" y1="801" x2="885.5" y2="802"/>
<line x1="888.5" y1="644" x2="888.5" y2="645"/>
<line x1="888.5" y1="656" x2="888.5" y2="657"/>
<line x1="888.5" y1="801" x2="888.5" y2="802"/>
<line x1="892.5" y1="644" x2="892.5" y2="645"/>
<line x1="892.5" y1="656" x2="892.5" y2="657"/>
<line x1="892.5" y1="801" x2="892.5" y2="802"/>
<line x1="896.5" y1="644" x2="896.5" y2="646"/>
<line x1="896.5" y1="655" x2="896.5" y2="657"/>
<line x1="896.5" y1="801" x2="896.5" y2="803"/>
<line x1="899.5" y1="644" x2="899.5" y2="645"/>
<line x1="899.5" y1="656" x2="899.5" y2="657"/>
<line x1="899.5" y1="801" x2="899.5" y2="802"/>
<line x1="903.5" y1="644" x2="903.5" y2="645"/>
<line x1="903.5" y1="656" x2="903.5" y2="657"/>
<line x1="903.5" y1="801" x2="903.5" y2="802"/>
<line x1="907.5" y1="644" x2="907.5" y2="645"/>
<line x1="907.5" y1="656" x2="907.5" y2="657"/>
<line x1="907.5" y1="801" x2="907.5" y2="802"/>
<line x1="910.5" y1="644" x2="910.5" y2="646"/>
<line x1="910.5" y1="655" x2="910.5" y2="657"/>
<line x1="910.5" y1="801" x2="910.5" y2="803"/>
<line x1="914.5" y1="644" x2="914.5" y2="645"/>
<line x1="914.5" y1="656" x2="914.5" y2="657"/>
<line x1="914.5" y1="801" x2="914.5" y2="802"/>
<line x1="918.5" y1="644" x2="918.5" y2="645"/>
<line x1="918.5" y1="656" x2="918.5" y2="657"/>
<line x1="918.5" y1="801" x2="918.5" y2="802"/>
<line x1="922.5" y1="644" x2="922.5" y2="646"/>
<line x1="922.5" y1="655" x2="922.5" y2="657"/>
<line x1="922.5" y1="801" x2="922.5" y2="803"/>
<line x1="925.5" y1="644" x2="925.5" y2="646"/>
<line x1="925.5" y1="655" x2="925.5" y2="657"/>
<line x1="925.5" y1="801" x2="925.5" y2="803"/>
<line x1="929.5" y1="644" x2="929.5" y2="645"/>
<line x1="929.5" y1="656" x2="929.5" y2="657"/>
<line x1="929.5" y1="801" x2="929.5" y2="802"/>
<line x1="933.5" y1="644" x2="933.5" y2="645"/>
<line x1="933.5" y1="656" x2="933.5" y2="657"/>
<line x1="933.5" y1="801" x2="933.5" y2="802"/>
<line x1="936.5" y1="644" x2="936.5" y2="645"/>
<line x1="936.5" y1="656" x2="936.5" y2="657"/>
<line x1="936.5" y1="801" x2="936.5" y2="802"/>
<line x1="940.5" y1="644" x2="940.5" y2="645"/>
<line x1="940.5" y1="656" x2="940.5" y2="657"/>
<line x1="940.5" y1="801" x2="940.5" y2="802"/>
</g>
<text x="961" y="224.0" font-size="9.8" font-weight="normal" text-anchor="end" fill="#000" stroke="#000" stroke-width="0.2">0</text>
<text x="962.2" y="224.0" font-size="9.8" font-weight="normal" text-anchor="start" fill="#000" stroke="#000" stroke-width="0.2">%</text>
<text x="961" y="210.3" font-size="9.8" font-weight="normal" text-anchor="end" fill="#000" stroke="#000" stroke-width="0.2">5</text>
<text x="962.2" y="210.3" font-size="9.8" font-weight="normal" text-anchor="start" fill="#000" stroke="#000" stroke-width="0.2">%</text>
<text x="961" y="196.6" font-size="9.8" font-weight="normal" text-anchor="end" fill="#000" stroke="#000" stroke-width="0.2">10</text>
<text x="962.2" y="196.6" font-size="9.8" font-weight="normal" text-anchor="start" fill="#000" stroke="#000" stroke-width="0.2">%</text>
<text x="961" y="182.9" font-size="9.8" font-weight="normal" text-anchor="end" fill="#000" stroke="#000" stroke-width="0.2">15</text>
<text x="962.2" y="182.9" font-size="9.8" font-weight="normal" text-anchor="start" fill="#000" stroke="#000" stroke-width="0.2">%</text>
<text x="961" y="169.2" font-size="9.8" font-weight="normal" text-anchor="end" fill="#000" stroke="#000" stroke-width="0.2">20</text>
<text x="962.2" y="169.2" font-size="9.8" font-weight="normal" text-anchor="start" fill="#000" stroke="#000" stroke-width="0.2">%</text>
<text x="961" y="155.5" font-size="9.8" font-weight="normal" text-anchor="end" fill="#000" stroke="#000" stroke-width="0.2">25</text>
<text x="962.2" y="155.5" font-size="9.8" font-weight="normal" text-anchor="start" fill="#000" stroke="#000" stroke-width="0.2">%</text>
<text x="961" y="141.8" font-size="9.8" font-weight="normal" text-anchor="end" fill="#000" stroke="#000" stroke-width="0.2">30</text>
<text x="962.2" y="141.8" font-size="9.8" font-weight="normal" text-anchor="start" fill="#000" stroke="#000" stroke-width="0.2">%</text>
<text x="961" y="128.1" font-size="9.8" font-weight="normal" text-anchor="end" fill="#000" stroke="#000" stroke-width="0.2">35</text>
<text x="962.2" y="128.1" font-size="9.8" font-weight="normal" text-anchor="start" fill="#000" stroke="#000" stroke-width="0.2">%</text>
<text x="961" y="100.7" font-size="9.8" font-weight="normal" text-anchor="end" fill="#000" stroke="#000" stroke-width="0.2">45</text>
<text x="962.2" y="100.7" font-size="9.8" font-weight="normal" text-anchor="start" fill="#000" stroke="#000" stroke-width="0.2">%</text>
<text x="950.2" y="628.1" font-size="10" font-weight="normal" text-anchor="start" fill="#000" textLength="22.6" lengthAdjust="spacingAndGlyphs" stroke="#000" stroke-width="0.2">2700</text>
<text x="950.2" y="601.3" font-size="10" font-weight="normal" text-anchor="start" fill="#000" textLength="22.6" lengthAdjust="spacingAndGlyphs" stroke="#000" stroke-width="0.2">2800</text>
<text x="950.2" y="575.5" font-size="10" font-weight="normal" text-anchor="start" fill="#000" textLength="22.6" lengthAdjust="spacingAndGlyphs" stroke="#000" stroke-width="0.2">2900</text>
<text x="950.2" y="550.6" font-size="10" font-weight="normal" text-anchor="start" fill="#000" textLength="22.6" lengthAdjust="spacingAndGlyphs" stroke="#000" stroke-width="0.2">3000</text>
<text x="950.2" y="526.5" font-size="10" font-weight="normal" text-anchor="start" fill="#000" textLength="22.6" lengthAdjust="spacingAndGlyphs" stroke="#000" stroke-width="0.2">3100</text>
<text x="950.2" y="503.2" font-size="10" font-weight="normal" text-anchor="start" fill="#000" textLength="22.6" lengthAdjust="spacingAndGlyphs" stroke="#000" stroke-width="0.2">3200</text>
<text x="950.2" y="480.6" font-size="10" font-weight="normal" text-anchor="start" fill="#000" textLength="22.6" lengthAdjust="spacingAndGlyphs" stroke="#000" stroke-width="0.2">3300</text>
<text x="950.2" y="458.6" font-size="10" font-weight="normal" text-anchor="start" fill="#000" textLength="22.6" lengthAdjust="spacingAndGlyphs" stroke="#000" stroke-width="0.2">3400</text>
<text x="950.2" y="437.3" font-size="10" font-weight="normal" text-anchor="start" fill="#000" textLength="22.6" lengthAdjust="spacingAndGlyphs" stroke="#000" stroke-width="0.2">3500</text>
<text x="950.2" y="416.6" font-size="10" font-weight="normal" text-anchor="start" fill="#000" textLength="22.6" lengthAdjust="spacingAndGlyphs" stroke="#000" stroke-width="0.2">3600</text>
<text x="950.2" y="396.5" font-size="10" font-weight="normal" text-anchor="start" fill="#000" textLength="22.6" lengthAdjust="spacingAndGlyphs" stroke="#000" stroke-width="0.2">3700</text>
<text x="950.2" y="376.9" font-size="10" font-weight="normal" text-anchor="start" fill="#000" textLength="22.6" lengthAdjust="spacingAndGlyphs" stroke="#000" stroke-width="0.2">3800</text>
<text x="950.2" y="357.8" font-size="10" font-weight="normal" text-anchor="start" fill="#000" textLength="22.6" lengthAdjust="spacingAndGlyphs" stroke="#000" stroke-width="0.2">3900</text>
<text x="950.2" y="339.2" font-size="10" font-weight="normal" text-anchor="start" fill="#000" textLength="22.6" lengthAdjust="spacingAndGlyphs" stroke="#000" stroke-width="0.2">4000</text>
<text x="950.2" y="321.0" font-size="10" font-weight="normal" text-anchor="start" fill="#000" textLength="22.6" lengthAdjust="spacingAndGlyphs" stroke="#000" stroke-width="0.2">4100</text>
<text x="950.2" y="303.3" font-size="10" font-weight="normal" text-anchor="start" fill="#000" textLength="22.6" lengthAdjust="spacingAndGlyphs" stroke="#000" stroke-width="0.2">4200</text>
<text x="950.2" y="286.0" font-size="10" font-weight="normal" text-anchor="start" fill="#000" textLength="22.6" lengthAdjust="spacingAndGlyphs" stroke="#000" stroke-width="0.2">4300</text>
<text x="967.2" y="798.8" font-size="9.8" font-weight="normal" text-anchor="end" fill="#000" stroke="#000" stroke-width="0.2">-50</text>
<text x="967.2" y="784.0" font-size="9.8" font-weight="normal" text-anchor="end" fill="#000" stroke="#000" stroke-width="0.2">-25</text>
<text x="967.2" y="754.4" font-size="9.8" font-weight="normal" text-anchor="end" fill="#000" stroke="#000" stroke-width="0.2">25</text>
<text x="967.2" y="739.6" font-size="9.8" font-weight="normal" text-anchor="end" fill="#000" stroke="#000" stroke-width="0.2">50</text>
<text x="967.2" y="709.9" font-size="9.8" font-weight="normal" text-anchor="end" fill="#000" stroke="#000" stroke-width="0.2">100</text>
<text x="967.2" y="695.1" font-size="9.8" font-weight="normal" text-anchor="end" fill="#000" stroke="#000" stroke-width="0.2">125</text>
<text x="967.2" y="680.3" font-size="9.8" font-weight="normal" text-anchor="end" fill="#000" stroke="#000" stroke-width="0.2">150</text>
<text x="967.2" y="665.5" font-size="9.8" font-weight="normal" text-anchor="end" fill="#000" stroke="#000" stroke-width="0.2">175</text>
<text x="19.6" y="653.8" font-size="10" font-weight="normal" text-anchor="middle" fill="#000" stroke="#000" stroke-width="0.2">13</text>
<text x="38.1" y="653.8" font-size="10" font-weight="normal" text-anchor="middle" fill="#000" stroke="#000" stroke-width="0.2">21</text>
<text x="52.9" y="653.8" font-size="10" font-weight="normal" text-anchor="middle" fill="#000" stroke="#000" stroke-width="0.2">27</text>
<text x="89.8" y="653.8" font-size="10" font-weight="normal" text-anchor="middle" fill="#000" stroke="#000" stroke-width="0.2">10</text>
<text x="108.3" y="653.8" font-size="10" font-weight="normal" text-anchor="middle" fill="#000" stroke="#000" stroke-width="0.2">18</text>
<text x="123.1" y="653.8" font-size="10" font-weight="normal" text-anchor="middle" fill="#000" stroke="#000" stroke-width="0.2">24</text>
<text x="160.1" y="653.8" font-size="10" font-weight="normal" text-anchor="middle" fill="#000" stroke="#000" stroke-width="0.2">10</text>
<text x="178.5" y="653.8" font-size="10" font-weight="normal" text-anchor="middle" fill="#000" stroke="#000" stroke-width="0.2">17</text>
<text x="197.0" y="653.8" font-size="10" font-weight="normal" text-anchor="middle" fill="#000" stroke="#000" stroke-width="0.2">24</text>
<text x="234.0" y="653.8" font-size="10" font-weight="normal" text-anchor="middle" fill="#000" stroke="#000" stroke-width="0.2">7</text>
<text x="252.5" y="653.8" font-size="10" font-weight="normal" text-anchor="middle" fill="#000" stroke="#000" stroke-width="0.2">14</text>
<text x="267.3" y="653.8" font-size="10" font-weight="normal" text-anchor="middle" fill="#000" stroke="#000" stroke-width="0.2">21</text>
<text x="322.7" y="653.8" font-size="10" font-weight="normal" text-anchor="middle" fill="#000" stroke="#000" stroke-width="0.2">12</text>
<text x="341.2" y="653.8" font-size="10" font-weight="normal" text-anchor="middle" fill="#000" stroke="#000" stroke-width="0.2">19</text>
<text x="359.7" y="653.8" font-size="10" font-weight="normal" text-anchor="middle" fill="#000" stroke="#000" stroke-width="0.2">27</text>
<text x="392.9" y="653.8" font-size="10" font-weight="normal" text-anchor="middle" fill="#000" stroke="#000" stroke-width="0.2">9</text>
<text x="411.4" y="653.8" font-size="10" font-weight="normal" text-anchor="middle" fill="#000" stroke="#000" stroke-width="0.2">16</text>
<text x="426.2" y="653.8" font-size="10" font-weight="normal" text-anchor="middle" fill="#000" stroke="#000" stroke-width="0.2">23</text>
<text x="459.5" y="653.8" font-size="10" font-weight="normal" text-anchor="middle" fill="#000" stroke="#000" stroke-width="0.2">7</text>
<text x="478.0" y="653.8" font-size="10" font-weight="normal" text-anchor="middle" fill="#000" stroke="#000" stroke-width="0.2">14</text>
<text x="496.4" y="653.8" font-size="10" font-weight="normal" text-anchor="middle" fill="#000" stroke="#000" stroke-width="0.2">21</text>
<text x="514.9" y="653.8" font-size="10" font-weight="normal" text-anchor="middle" fill="#000" stroke="#000" stroke-width="0.2">28</text>
<text x="551.9" y="653.8" font-size="10" font-weight="normal" text-anchor="middle" fill="#000" stroke="#000" stroke-width="0.2">11</text>
<text x="570.4" y="653.8" font-size="10" font-weight="normal" text-anchor="middle" fill="#000" stroke="#000" stroke-width="0.2">18</text>
<text x="588.9" y="653.8" font-size="10" font-weight="normal" text-anchor="middle" fill="#000" stroke="#000" stroke-width="0.2">25</text>
<text x="622.1" y="653.8" font-size="10" font-weight="normal" text-anchor="middle" fill="#000" stroke="#000" stroke-width="0.2">8</text>
<text x="640.6" y="653.8" font-size="10" font-weight="normal" text-anchor="middle" fill="#000" stroke="#000" stroke-width="0.2">15</text>
<text x="659.1" y="653.8" font-size="10" font-weight="normal" text-anchor="middle" fill="#000" stroke="#000" stroke-width="0.2">22</text>
<text x="714.5" y="653.8" font-size="10" font-weight="normal" text-anchor="middle" fill="#000" stroke="#000" stroke-width="0.2">13</text>
<text x="733.0" y="653.8" font-size="10" font-weight="normal" text-anchor="middle" fill="#000" stroke="#000" stroke-width="0.2">20</text>
<text x="751.5" y="653.8" font-size="10" font-weight="normal" text-anchor="middle" fill="#000" stroke="#000" stroke-width="0.2">27</text>
<text x="788.5" y="653.8" font-size="10" font-weight="normal" text-anchor="middle" fill="#000" stroke="#000" stroke-width="0.2">10</text>
<text x="807.0" y="653.8" font-size="10" font-weight="normal" text-anchor="middle" fill="#000" stroke="#000" stroke-width="0.2">17</text>
<text x="825.4" y="653.8" font-size="10" font-weight="normal" text-anchor="middle" fill="#000" stroke="#000" stroke-width="0.2">24</text>
<text x="858.7" y="653.8" font-size="10" font-weight="normal" text-anchor="middle" fill="#000" stroke="#000" stroke-width="0.2">8</text>
<text x="877.2" y="653.8" font-size="10" font-weight="normal" text-anchor="middle" fill="#000" stroke="#000" stroke-width="0.2">15</text>
<text x="895.7" y="653.8" font-size="10" font-weight="normal" text-anchor="middle" fill="#000" stroke="#000" stroke-width="0.2">22</text>
<text x="71.5" y="653.8" font-size="11" font-weight="bold" text-anchor="middle" fill="#000" stroke="#000" stroke-width="0.3">Feb</text>
<text x="141.7" y="653.8" font-size="11" font-weight="bold" text-anchor="middle" fill="#000" stroke="#000" stroke-width="0.3">Mar</text>
<text x="219.3" y="653.8" font-size="11" font-weight="bold" text-anchor="middle" fill="#000" stroke="#000" stroke-width="0.3">Apr</text>
<text x="296.9" y="653.8" font-size="11" font-weight="bold" text-anchor="middle" fill="#000" stroke="#000" stroke-width="0.3">May</text>
<text x="374.6" y="653.8" font-size="11" font-weight="bold" text-anchor="middle" fill="#000" stroke="#000" stroke-width="0.3">Jun</text>
<text x="448.5" y="653.8" font-size="11" font-weight="bold" text-anchor="middle" fill="#000" stroke="#000" stroke-width="0.3">Jul</text>
<text x="529.8" y="653.8" font-size="11" font-weight="bold" text-anchor="middle" fill="#000" stroke="#000" stroke-width="0.3">Aug</text>
<text x="607.4" y="653.8" font-size="11" font-weight="bold" text-anchor="middle" fill="#000" stroke="#000" stroke-width="0.3">Sep</text>
<text x="685.1" y="653.8" font-size="11" font-weight="bold" text-anchor="middle" fill="#000" stroke="#000" stroke-width="0.3">Oct</text>
<text x="770.1" y="653.8" font-size="11" font-weight="bold" text-anchor="middle" fill="#000" stroke="#000" stroke-width="0.3">Nov</text>
<text x="840.3" y="653.8" font-size="11" font-weight="bold" text-anchor="middle" fill="#000" stroke="#000" stroke-width="0.3">Dec</text>
<text x="921.6" y="653.8" font-size="11" font-weight="bold" text-anchor="middle" fill="#000" stroke="#000" stroke-width="0.3">2026</text>
<text x="19.6" y="810.8" font-size="10" font-weight="normal" text-anchor="middle" fill="#000" stroke="#000" stroke-width="0.2">13</text>
<text x="38.1" y="810.8" font-size="10" font-weight="normal" text-anchor="middle" fill="#000" stroke="#000" stroke-width="0.2">21</text>
<text x="52.9" y="810.8" font-size="10" font-weight="normal" text-anchor="middle" fill="#000" stroke="#000" stroke-width="0.2">27</text>
<text x="89.8" y="810.8" font-size="10" font-weight="normal" text-anchor="middle" fill="#000" stroke="#000" stroke-width="0.2">10</text>
<text x="108.3" y="810.8" font-size="10" font-weight="normal" text-anchor="middle" fill="#000" stroke="#000" stroke-width="0.2">18</text>
<text x="123.1" y="810.8" font-size="10" font-weight="normal" text-anchor="middle" fill="#000" stroke="#000" stroke-width="0.2">24</text>
<text x="160.1" y="810.8" font-size="10" font-weight="normal" text-anchor="middle" fill="#000" stroke="#000" stroke-width="0.2">10</text>
<text x="178.5" y="810.8" font-size="10" font-weight="normal" text-anchor="middle" fill="#000" stroke="#000" stroke-width="0.2">17</text>
<text x="197.0" y="810.8" font-size="10" font-weight="normal" text-anchor="middle" fill="#000" stroke="#000" stroke-width="0.2">24</text>
<text x="234.0" y="810.8" font-size="10" font-weight="normal" text-anchor="middle" fill="#000" stroke="#000" stroke-width="0.2">7</text>
<text x="252.5" y="810.8" font-size="10" font-weight="normal" text-anchor="middle" fill="#000" stroke="#000" stroke-width="0.2">14</text>
<text x="267.3" y="810.8" font-size="10" font-weight="normal" text-anchor="middle" fill="#000" stroke="#000" stroke-width="0.2">21</text>
<text x="322.7" y="810.8" font-size="10" font-weight="normal" text-anchor="middle" fill="#000" stroke="#000" stroke-width="0.2">12</text>
<text x="341.2" y="810.8" font-size="10" font-weight="normal" text-anchor="middle" fill="#000" stroke="#000" stroke-width="0.2">19</text>
<text x="359.7" y="810.8" font-size="10" font-weight="normal" text-anchor="middle" fill="#000" stroke="#000" stroke-width="0.2">27</text>
<text x="392.9" y="810.8" font-size="10" font-weight="normal" text-anchor="middle" fill="#000" stroke="#000" stroke-width="0.2">9</text>
<text x="411.4" y="810.8" font-size="10" font-weight="normal" text-anchor="middle" fill="#000" stroke="#000" stroke-width="0.2">16</text>
<text x="426.2" y="810.8" font-size="10" font-weight="normal" text-anchor="middle" fill="#000" stroke="#000" stroke-width="0.2">23</text>
<text x="459.5" y="810.8" font-size="10" font-weight="normal" text-anchor="middle" fill="#000" stroke="#000" stroke-width="0.2">7</text>
<text x="478.0" y="810.8" font-size="10" font-weight="normal" text-anchor="middle" fill="#000" stroke="#000" stroke-width="0.2">14</text>
<text x="496.4" y="810.8" font-size="10" font-weight="normal" text-anchor="middle" fill="#000" stroke="#000" stroke-width="0.2">21</text>
<text x="514.9" y="810.8" font-size="10" font-weight="normal" text-anchor="middle" fill="#000" stroke="#000" stroke-width="0.2">28</text>
<text x="551.9" y="810.8" font-size="10" font-weight="normal" text-anchor="middle" fill="#000" stroke="#000" stroke-width="0.2">11</text>
<text x="570.4" y="810.8" font-size="10" font-weight="normal" text-anchor="middle" fill="#000" stroke="#000" stroke-width="0.2">18</text>
<text x="588.9" y="810.8" font-size="10" font-weight="normal" text-anchor="middle" fill="#000" stroke="#000" stroke-width="0.2">25</text>
<text x="622.1" y="810.8" font-size="10" font-weight="normal" text-anchor="middle" fill="#000" stroke="#000" stroke-width="0.2">8</text>
<text x="640.6" y="810.8" font-size="10" font-weight="normal" text-anchor="middle" fill="#000" stroke="#000" stroke-width="0.2">15</text>
<text x="659.1" y="810.8" font-size="10" font-weight="normal" text-anchor="middle" fill="#000" stroke="#000" stroke-width="0.2">22</text>
<text x="714.5" y="810.8" font-size="10" font-weight="normal" text-anchor="middle" fill="#000" stroke="#000" stroke-width="0.2">13</text>
<text x="733.0" y="810.8" font-size="10" font-weight="normal" text-anchor="middle" fill="#000" stroke="#000" stroke-width="0.2">20</text>
<text x="751.5" y="810.8" font-size="10" font-weight="normal" text-anchor="middle" fill="#000" stroke="#000" stroke-width="0.2">27</text>
<text x="788.5" y="810.8" font-size="10" font-weight="normal" text-anchor="middle" fill="#000" stroke="#000" stroke-width="0.2">10</text>
<text x="807.0" y="810.8" font-size="10" font-weight="normal" text-anchor="middle" fill="#000" stroke="#000" stroke-width="0.2">17</text>
<text x="825.4" y="810.8" font-size="10" font-weight="normal" text-anchor="middle" fill="#000" stroke="#000" stroke-width="0.2">24</text>
<text x="858.7" y="810.8" font-size="10" font-weight="normal" text-anchor="middle" fill="#000" stroke="#000" stroke-width="0.2">8</text>
<text x="877.2" y="810.8" font-size="10" font-weight="normal" text-anchor="middle" fill="#000" stroke="#000" stroke-width="0.2">15</text>
<text x="895.7" y="810.8" font-size="10" font-weight="normal" text-anchor="middle" fill="#000" stroke="#000" stroke-width="0.2">22</text>
<text x="71.5" y="810.8" font-size="11" font-weight="bold" text-anchor="middle" fill="#000" stroke="#000" stroke-width="0.3">Feb</text>
<text x="141.7" y="810.8" font-size="11" font-weight="bold" text-anchor="middle" fill="#000" stroke="#000" stroke-width="0.3">Mar</text>
<text x="219.3" y="810.8" font-size="11" font-weight="bold" text-anchor="middle" fill="#000" stroke="#000" stroke-width="0.3">Apr</text>
<text x="296.9" y="810.8" font-size="11" font-weight="bold" text-anchor="middle" fill="#000" stroke="#000" stroke-width="0.3">May</text>
<text x="374.6" y="810.8" font-size="11" font-weight="bold" text-anchor="middle" fill="#000" stroke="#000" stroke-width="0.3">Jun</text>
<text x="448.5" y="810.8" font-size="11" font-weight="bold" text-anchor="middle" fill="#000" stroke="#000" stroke-width="0.3">Jul</text>
<text x="529.8" y="810.8" font-size="11" font-weight="bold" text-anchor="middle" fill="#000" stroke="#000" stroke-width="0.3">Aug</text>
<text x="607.4" y="810.8" font-size="11" font-weight="bold" text-anchor="middle" fill="#000" stroke="#000" stroke-width="0.3">Sep</text>
<text x="685.1" y="810.8" font-size="11" font-weight="bold" text-anchor="middle" fill="#000" stroke="#000" stroke-width="0.3">Oct</text>
<text x="770.1" y="810.8" font-size="11" font-weight="bold" text-anchor="middle" fill="#000" stroke="#000" stroke-width="0.3">Nov</text>
<text x="840.3" y="810.8" font-size="11" font-weight="bold" text-anchor="middle" fill="#000" stroke="#000" stroke-width="0.3">Dec</text>
<text x="921.6" y="810.8" font-size="11" font-weight="bold" text-anchor="middle" fill="#000" stroke="#000" stroke-width="0.3">2026</text>
<clipPath id="cp"><rect x="17" y="235" width="929" height="408"/></clipPath>
<clipPath id="cr"><rect x="17" y="92" width="929" height="142"/></clipPath>
<clipPath id="cm"><rect x="17" y="658" width="929" height="142"/></clipPath>
<g clip-path="url(#cr)"><polyline points="16.9,221.4 20.3,222.8 23.7,223.1 27.7,226.2 31.5,224.5 34.9,227.1 38.7,226.2 41.8,226.2 45.5,227.1 49.5,225.4 52.9,224.5 57.2,224.5 61.0,224.2 64.9,222.5 68.4,220.2 71.8,217.3 75.2,216.3 79.2,214.6 82.6,216.3 86.4,214.2 90.2,210.4 94.1,211.3 97.6,210.4 101.5,210.4 105.3,215.1 108.7,211.3 112.5,211.3 115.9,209.4 119.9,203.9 123.3,201.3 127.6,203.1 131.1,203.1 134.5,203.4 138.3,209.1 142.2,201.3 145.7,194.5 149.1,197.0 153.0,192.4 156.8,194.5 160.3,189.3 164.0,184.2 167.5,182.1 171.4,172.7 175.4,178.5 179.1,179.9 182.6,173.3 186.5,175.1 190.3,175.2 193.7,177.6 197.7,184.2 201.5,184.2 204.9,179.9 208.3,175.1 212.3,167.0 215.7,164.1 219.5,165.3 223.3,163.0 226.7,152.4 230.7,138.3 234.6,144.1 238.4,138.7 241.8,159.3 245.6,135.2 249.6,134.4 252.5,140.4 256.4,134.9 260.4,117.2 264.1,120.1 266.7,104.3 268.4,104.3 271.9,119.8 275.3,127.5 279.3,132.6 282.7,136.9 286.5,136.1 289.9,140.4 293.7,145.2 296.8,149.8 300.6,156.2 304.5,143.8 308.5,134.4 312.2,138.3 315.7,147.2 319.4,146.4 323.4,166.1 326.8,167.8 330.6,174.2 334.6,170.4 338.0,175.2 341.4,174.2 345.0,167.8 349.3,157.5 352.7,159.6 356.7,151.5 360.8,163.6 363.9,163.2 367.3,161.5 371.1,164.4 374.5,156.7 378.5,161.5 382.4,159.3 386.2,159.3 389.7,167.5 393.4,166.5 397.4,168.4 400.8,163.6 404.6,162.2 408.5,154.1 412.0,162.3 415.8,159.3 419.7,160.1 423.1,160.5 426.6,163.6 430.4,171.3 434.3,170.4 437.7,173.9 441.5,180.4 445.1,179.5 448.9,175.2 452.8,175.2 456.6,181.2 460.1,177.3 463.8,179.9 467.8,181.2 471.7,181.2 475.2,177.3 479.0,179.4 482.4,179.4 485.8,178.1 489.6,181.2 493.0,179.5 497.0,175.1 500.8,173.3 504.4,179.0 508.1,181.9 511.7,185.0 515.2,187.3 519.1,185.4 522.5,190.5 526.3,187.3 530.3,175.6 534.0,179.4 537.5,177.3 541.3,180.4 544.9,177.3 548.6,179.4 552.4,183.3 556.0,187.1 559.8,187.6 563.6,189.3 567.5,188.5 571.0,188.5 574.7,188.1 578.3,185.4 581.8,184.2 585.6,186.4 589.3,185.5 593.3,184.5 596.7,185.4 600.5,184.2 604.1,179.0 607.9,169.2 611.7,168.4 615.3,172.5 619.1,168.2 622.8,165.3 626.4,166.1 629.9,166.5 633.6,169.6 637.4,168.7 641.0,166.5 644.8,165.3 648.6,167.5 652.2,171.6 656.0,167.8 659.8,164.1 663.4,161.5 667.1,162.3 670.9,159.3 675.0,159.8 678.4,155.5 681.9,154.4 685.6,154.4 689.6,156.7 693.0,152.7 696.5,148.6 700.2,144.7 703.9,142.4 707.6,146.0 711.4,133.8 715.0,130.1 718.8,127.1 722.2,123.5 726.2,110.3 729.6,118.0 733.7,113.2 737.3,133.5 741.1,133.5 744.6,133.5 748.3,138.3 751.9,153.2 755.7,156.2 759.5,157.5 763.1,145.2 766.9,149.0 770.7,149.3 774.6,151.5 778.0,148.1 781.5,145.5 785.3,143.5 788.7,138.7 792.6,138.3 796.4,133.5 800.9,128.7 803.8,136.4 807.7,135.2 811.5,131.4 815.1,130.9 818.5,126.3 822.3,130.9 825.8,130.1 829.7,134.4 833.5,134.4 837.3,130.9 840.7,128.3 844.3,130.9 848.1,133.2 851.5,133.5 855.3,134.4 859.2,134.4 863.0,132.1 866.6,133.2 870.4,130.1 873.8,124.6 877.6,123.2 881.2,122.0 885.4,115.5 889.0,118.6 892.7,120.6 896.5,114.6 899.9,112.0 903.6,114.3 907.7,109.5 910.8,125.4 914.7,124.1 918.5,122.0 922.3,122.0 925.9,115.5 929.7,114.3 933.6,116.3 937.0,114.6 940.5,114.3" fill="none" stroke="#1c2a50" stroke-width="1.8" stroke-linejoin="round" stroke-linecap="round" /></g>
<g clip-path="url(#cp)">
<g shape-rendering="crispEdges"><g fill="#000000"><rect x="16" y="625" width="2" height="11"/><rect x="18" y="626" width="1.7" height="2"/><rect x="15" y="626" width="1" height="2"/></g><g fill="#e00000"><rect x="20" y="627" width="2" height="10"/><rect x="22" y="635" width="1.7" height="2"/><rect x="19" y="627" width="1" height="2"/></g><g fill="#000000"><rect x="23" y="630" width="2" height="7"/><rect x="25" y="630" width="1.7" height="2"/><rect x="22" y="635" width="1" height="2"/></g><g fill="#000000"><rect x="27" y="625" width="2" height="8"/><rect x="29" y="625" width="1.7" height="2"/><rect x="26" y="630" width="1" height="2"/></g><g fill="#000000"><rect x="31" y="618" width="2" height="10"/><rect x="33" y="620" width="1.7" height="2"/><rect x="30" y="625" width="1" height="2"/></g><g fill="#e00000"><rect x="34" y="620" width="2" height="6"/><rect x="36" y="623" width="1.7" height="2"/><rect x="33" y="620" width="1" height="2"/></g><g fill="#000000"><rect x="38" y="612" width="2" height="12"/><rect x="40" y="612" width="1.7" height="2"/><rect x="37" y="622" width="1" height="2"/></g><g fill="#000000"><rect x="42" y="608" width="2" height="6"/><rect x="44" y="610" width="1.7" height="2"/><rect x="41" y="612" width="1" height="2"/></g><g fill="#e00000"><rect x="45" y="609" width="2" height="7"/><rect x="47" y="610" width="1.7" height="2"/><rect x="44" y="610" width="1" height="2"/></g><g fill="#000000"><rect x="49" y="602" width="2" height="8"/><rect x="51" y="607" width="1.7" height="2"/><rect x="48" y="608" width="1" height="2"/></g><g fill="#e00000"><rect x="53" y="605" width="2" height="13"/><rect x="55" y="613" width="1.7" height="2"/><rect x="52" y="607" width="1" height="2"/></g><g fill="#000000"><rect x="57" y="607" width="2" height="9"/><rect x="59" y="608" width="1.7" height="2"/><rect x="56" y="613" width="1" height="2"/></g><g fill="#e00000"><rect x="60" y="607" width="2" height="7"/><rect x="62" y="609" width="1.7" height="2"/><rect x="59" y="608" width="1" height="2"/></g><g fill="#000000"><rect x="64" y="598" width="2" height="12"/><rect x="66" y="598" width="1.7" height="2"/><rect x="63" y="608" width="1" height="2"/></g><g fill="#000000"><rect x="68" y="594" width="2" height="7"/><rect x="70" y="597" width="1.7" height="2"/><rect x="67" y="598" width="1" height="2"/></g><g fill="#000000"><rect x="71" y="590" width="2" height="16"/><rect x="73" y="593" width="1.7" height="2"/><rect x="70" y="597" width="1" height="2"/></g><g fill="#000000"><rect x="75" y="586" width="2" height="11"/><rect x="77" y="586" width="1.7" height="2"/><rect x="74" y="593" width="1" height="2"/></g><g fill="#000000"><rect x="79" y="577" width="2" height="12"/><rect x="81" y="579" width="1.7" height="2"/><rect x="78" y="586" width="1" height="2"/></g><g fill="#e00000"><rect x="82" y="579" width="2" height="11"/><rect x="84" y="582" width="1.7" height="2"/><rect x="81" y="579" width="1" height="2"/></g><g fill="#000000"><rect x="86" y="576" width="2" height="9"/><rect x="88" y="580" width="1.7" height="2"/><rect x="85" y="582" width="1" height="2"/></g><g fill="#000000"><rect x="90" y="567" width="2" height="14"/><rect x="92" y="568" width="1.7" height="2"/><rect x="89" y="579" width="1" height="2"/></g><g fill="#e00000"><rect x="94" y="562" width="2" height="16"/><rect x="96" y="572" width="1.7" height="2"/><rect x="93" y="568" width="1" height="2"/></g><g fill="#000000"><rect x="97" y="570" width="2" height="12"/><rect x="99" y="570" width="1.7" height="2"/><rect x="96" y="572" width="1" height="2"/></g><g fill="#000000"><rect x="101" y="564" width="2" height="8"/><rect x="103" y="564" width="1.7" height="2"/><rect x="100" y="570" width="1" height="2"/></g><g fill="#e00000"><rect x="105" y="562" width="2" height="17"/><rect x="107" y="576" width="1.7" height="2"/><rect x="104" y="564" width="1" height="2"/></g><g fill="#000000"><rect x="108" y="563" width="2" height="15"/><rect x="110" y="563" width="1.7" height="2"/><rect x="107" y="576" width="1" height="2"/></g><g fill="#000000"><rect x="112" y="560" width="2" height="9"/><rect x="114" y="562" width="1.7" height="2"/><rect x="111" y="563" width="1" height="2"/></g><g fill="#000000"><rect x="116" y="558" width="2" height="9"/><rect x="118" y="562" width="1.7" height="2"/><rect x="115" y="562" width="1" height="2"/></g><g fill="#e00000"><rect x="119" y="560" width="2" height="9"/><rect x="121" y="563" width="1.7" height="2"/><rect x="118" y="562" width="1" height="2"/></g><g fill="#000000"><rect x="123" y="558" width="2" height="10"/><rect x="125" y="559" width="1.7" height="2"/><rect x="122" y="563" width="1" height="2"/></g><g fill="#e00000"><rect x="127" y="559" width="2" height="17"/><rect x="129" y="566" width="1.7" height="2"/><rect x="126" y="559" width="1" height="2"/></g><g fill="#000000"><rect x="130" y="565" width="2" height="11"/><rect x="132" y="567" width="1.7" height="2"/><rect x="129" y="566" width="1" height="2"/></g><g fill="#e00000"><rect x="134" y="567" width="2" height="13"/><rect x="136" y="578" width="1.7" height="2"/><rect x="133" y="567" width="1" height="2"/></g><g fill="#e00000"><rect x="138" y="576" width="2" height="15"/><rect x="140" y="581" width="1.7" height="2"/><rect x="137" y="578" width="1" height="2"/></g><g fill="#000000"><rect x="142" y="573" width="2" height="10"/><rect x="144" y="574" width="1.7" height="2"/><rect x="141" y="581" width="1" height="2"/></g><g fill="#000000"><rect x="145" y="565" width="2" height="12"/><rect x="147" y="567" width="1.7" height="2"/><rect x="144" y="574" width="1" height="2"/></g><g fill="#000000"><rect x="149" y="565" width="2" height="8"/><rect x="151" y="567" width="1.7" height="2"/><rect x="148" y="567" width="1" height="2"/></g><g fill="#e00000"><rect x="153" y="566" width="2" height="9"/><rect x="155" y="570" width="1.7" height="2"/><rect x="152" y="567" width="1" height="2"/></g><g fill="#000000"><rect x="156" y="565" width="2" height="9"/><rect x="158" y="568" width="1.7" height="2"/><rect x="155" y="570" width="1" height="2"/></g><g fill="#e00000"><rect x="160" y="568" width="2" height="10"/><rect x="162" y="574" width="1.7" height="2"/><rect x="159" y="568" width="1" height="2"/></g><g fill="#000000"><rect x="164" y="567" width="2" height="11"/><rect x="166" y="567" width="1.7" height="2"/><rect x="163" y="574" width="1" height="2"/></g><g fill="#000000"><rect x="167" y="562" width="2" height="11"/><rect x="169" y="562" width="1.7" height="2"/><rect x="166" y="567" width="1" height="2"/></g><g fill="#000000"><rect x="171" y="550" width="2" height="15"/><rect x="173" y="550" width="1.7" height="2"/><rect x="170" y="562" width="1" height="2"/></g><g fill="#e00000"><rect x="175" y="546" width="2" height="8"/><rect x="177" y="550" width="1.7" height="2"/><rect x="174" y="550" width="1" height="2"/></g><g fill="#000000"><rect x="179" y="547" width="2" height="6"/><rect x="181" y="547" width="1.7" height="2"/><rect x="178" y="550" width="1" height="2"/></g><g fill="#000000"><rect x="182" y="538" width="2" height="10"/><rect x="184" y="539" width="1.7" height="2"/><rect x="181" y="546" width="1" height="2"/></g><g fill="#000000"><rect x="186" y="535" width="2" height="8"/><rect x="188" y="535" width="1.7" height="2"/><rect x="185" y="539" width="1" height="2"/></g><g fill="#e00000"><rect x="190" y="533" width="2" height="9"/><rect x="192" y="536" width="1.7" height="2"/><rect x="189" y="535" width="1" height="2"/></g><g fill="#e00000"><rect x="193" y="536" width="2" height="12"/><rect x="195" y="540" width="1.7" height="2"/><rect x="192" y="536" width="1" height="2"/></g><g fill="#e00000"><rect x="197" y="539" width="2" height="9"/><rect x="199" y="543" width="1.7" height="2"/><rect x="196" y="540" width="1" height="2"/></g><g fill="#000000"><rect x="201" y="539" width="2" height="8"/><rect x="203" y="541" width="1.7" height="2"/><rect x="200" y="543" width="1" height="2"/></g><g fill="#000000"><rect x="204" y="540" width="2" height="5"/><rect x="206" y="541" width="1.7" height="2"/><rect x="203" y="541" width="1" height="2"/></g><g fill="#000000"><rect x="208" y="533" width="2" height="10"/><rect x="210" y="533" width="1.7" height="2"/><rect x="207" y="541" width="1" height="2"/></g><g fill="#000000"><rect x="212" y="526" width="2" height="9"/><rect x="214" y="526" width="1.7" height="2"/><rect x="211" y="533" width="1" height="2"/></g><g fill="#000000"><rect x="216" y="517" width="2" height="13"/><rect x="218" y="518" width="1.7" height="2"/><rect x="215" y="526" width="1" height="2"/></g><g fill="#e00000"><rect x="219" y="512" width="2" height="12"/><rect x="221" y="519" width="1.7" height="2"/><rect x="218" y="518" width="1" height="2"/></g><g fill="#000000"><rect x="223" y="507" width="2" height="16"/><rect x="225" y="509" width="1.7" height="2"/><rect x="222" y="519" width="1" height="2"/></g><g fill="#e00000"><rect x="227" y="508" width="2" height="27"/><rect x="229" y="520" width="1.7" height="2"/><rect x="226" y="509" width="1" height="2"/></g><g fill="#e00000"><rect x="230" y="515" width="2" height="29"/><rect x="232" y="536" width="1.7" height="2"/><rect x="229" y="520" width="1" height="2"/></g><g fill="#e00000"><rect x="234" y="534" width="2" height="25"/><rect x="236" y="547" width="1.7" height="2"/><rect x="233" y="536" width="1" height="2"/></g><g fill="#e00000"><rect x="238" y="542" width="2" height="14"/><rect x="240" y="552" width="1.7" height="2"/><rect x="237" y="547" width="1" height="2"/></g><g fill="#000000"><rect x="241" y="523" width="2" height="32"/><rect x="243" y="526" width="1.7" height="2"/><rect x="240" y="552" width="1" height="2"/></g><g fill="#000000"><rect x="245" y="504" width="2" height="25"/><rect x="247" y="504" width="1.7" height="2"/><rect x="244" y="526" width="1" height="2"/></g><g fill="#000000"><rect x="249" y="490" width="2" height="14"/><rect x="251" y="496" width="1.7" height="2"/><rect x="248" y="502" width="1" height="2"/></g><g fill="#e00000"><rect x="252" y="490" width="2" height="12"/><rect x="254" y="496" width="1.7" height="2"/><rect x="251" y="496" width="1" height="2"/></g><g fill="#000000"><rect x="256" y="488" width="2" height="11"/><rect x="258" y="488" width="1.7" height="2"/><rect x="255" y="496" width="1" height="2"/></g><g fill="#000000"><rect x="260" y="465" width="2" height="24"/><rect x="262" y="466" width="1.7" height="2"/><rect x="259" y="487" width="1" height="2"/></g><g fill="#e00000"><rect x="264" y="465" width="2" height="17"/><rect x="266" y="470" width="1.7" height="2"/><rect x="263" y="466" width="1" height="2"/></g><g fill="#000000"><rect x="267" y="446" width="2" height="21"/><rect x="269" y="448" width="1.7" height="2"/><rect x="266" y="465" width="1" height="2"/></g><g fill="#e00000"><rect x="271" y="434" width="2" height="42"/><rect x="273" y="469" width="1.7" height="2"/><rect x="270" y="448" width="1" height="2"/></g><g fill="#e00000"><rect x="275" y="458" width="2" height="29"/><rect x="277" y="472" width="1.7" height="2"/><rect x="274" y="469" width="1" height="2"/></g><g fill="#000000"><rect x="278" y="462" width="2" height="15"/><rect x="280" y="466" width="1.7" height="2"/><rect x="277" y="472" width="1" height="2"/></g><g fill="#e00000"><rect x="282" y="463" width="2" height="23"/><rect x="284" y="476" width="1.7" height="2"/><rect x="281" y="466" width="1" height="2"/></g><g fill="#000000"><rect x="286" y="466" width="2" height="20"/><rect x="288" y="469" width="1.7" height="2"/><rect x="285" y="476" width="1" height="2"/></g><g fill="#e00000"><rect x="289" y="469" width="2" height="9"/><rect x="291" y="472" width="1.7" height="2"/><rect x="288" y="469" width="1" height="2"/></g><g fill="#e00000"><rect x="293" y="471" width="2" height="15"/><rect x="295" y="482" width="1.7" height="2"/><rect x="292" y="472" width="1" height="2"/></g><g fill="#e00000"><rect x="297" y="483" width="2" height="18"/><rect x="299" y="489" width="1.7" height="2"/><rect x="296" y="483" width="1" height="2"/></g><g fill="#000000"><rect x="301" y="484" width="2" height="12"/><rect x="303" y="489" width="1.7" height="2"/><rect x="300" y="489" width="1" height="2"/></g><g fill="#000000"><rect x="304" y="469" width="2" height="23"/><rect x="306" y="470" width="1.7" height="2"/><rect x="303" y="489" width="1" height="2"/></g><g fill="#000000"><rect x="308" y="447" width="2" height="26"/><rect x="310" y="454" width="1.7" height="2"/><rect x="307" y="470" width="1" height="2"/></g><g fill="#e00000"><rect x="312" y="455" width="2" height="10"/><rect x="314" y="459" width="1.7" height="2"/><rect x="311" y="455" width="1" height="2"/></g><g fill="#e00000"><rect x="315" y="452" width="2" height="29"/><rect x="317" y="472" width="1.7" height="2"/><rect x="314" y="459" width="1" height="2"/></g><g fill="#000000"><rect x="319" y="467" width="2" height="17"/><rect x="321" y="480" width="1.7" height="2"/><rect x="318" y="472" width="1" height="2"/></g><g fill="#e00000"><rect x="323" y="480" width="2" height="19"/><rect x="325" y="491" width="1.7" height="2"/><rect x="322" y="480" width="1" height="2"/></g><g fill="#000000"><rect x="326" y="485" width="2" height="12"/><rect x="328" y="487" width="1.7" height="2"/><rect x="325" y="491" width="1" height="2"/></g><g fill="#e00000"><rect x="330" y="488" width="2" height="20"/><rect x="332" y="502" width="1.7" height="2"/><rect x="329" y="488" width="1" height="2"/></g><g fill="#000000"><rect x="334" y="488" width="2" height="31"/><rect x="336" y="490" width="1.7" height="2"/><rect x="333" y="502" width="1" height="2"/></g><g fill="#e00000"><rect x="337" y="490" width="2" height="22"/><rect x="339" y="497" width="1.7" height="2"/><rect x="336" y="490" width="1" height="2"/></g><g fill="#000000"><rect x="341" y="489" width="2" height="10"/><rect x="343" y="494" width="1.7" height="2"/><rect x="340" y="497" width="1" height="2"/></g><g fill="#000000"><rect x="345" y="477" width="2" height="23"/><rect x="347" y="477" width="1.7" height="2"/><rect x="344" y="494" width="1" height="2"/></g><g fill="#000000"><rect x="349" y="472" width="2" height="10"/><rect x="351" y="472" width="1.7" height="2"/><rect x="348" y="477" width="1" height="2"/></g><g fill="#e00000"><rect x="352" y="467" width="2" height="16"/><rect x="354" y="476" width="1.7" height="2"/><rect x="351" y="472" width="1" height="2"/></g><g fill="#000000"><rect x="356" y="463" width="2" height="18"/><rect x="358" y="466" width="1.7" height="2"/><rect x="355" y="476" width="1" height="2"/></g><g fill="#e00000"><rect x="360" y="466" width="2" height="16"/><rect x="362" y="473" width="1.7" height="2"/><rect x="359" y="466" width="1" height="2"/></g><g fill="#e00000"><rect x="363" y="472" width="2" height="12"/><rect x="365" y="478" width="1.7" height="2"/><rect x="362" y="473" width="1" height="2"/></g><g fill="#000000"><rect x="367" y="470" width="2" height="21"/><rect x="369" y="477" width="1.7" height="2"/><rect x="366" y="478" width="1" height="2"/></g><g fill="#e00000"><rect x="371" y="472" width="2" height="13"/><rect x="373" y="479" width="1.7" height="2"/><rect x="370" y="477" width="1" height="2"/></g><g fill="#000000"><rect x="374" y="459" width="2" height="23"/><rect x="376" y="459" width="1.7" height="2"/><rect x="373" y="479" width="1" height="2"/></g><g fill="#e00000"><rect x="378" y="457" width="2" height="14"/><rect x="380" y="464" width="1.7" height="2"/><rect x="377" y="459" width="1" height="2"/></g><g fill="#000000"><rect x="382" y="459" width="2" height="10"/><rect x="384" y="460" width="1.7" height="2"/><rect x="381" y="464" width="1" height="2"/></g><g fill="#e00000"><rect x="386" y="455" width="2" height="15"/><rect x="388" y="463" width="1.7" height="2"/><rect x="385" y="460" width="1" height="2"/></g><g fill="#e00000"><rect x="389" y="461" width="2" height="16"/><rect x="391" y="473" width="1.7" height="2"/><rect x="388" y="463" width="1" height="2"/></g><g fill="#000000"><rect x="393" y="469" width="2" height="11"/><rect x="395" y="470" width="1.7" height="2"/><rect x="392" y="473" width="1" height="2"/></g><g fill="#000000"><rect x="397" y="467" width="2" height="11"/><rect x="399" y="470" width="1.7" height="2"/><rect x="396" y="470" width="1" height="2"/></g><g fill="#000000"><rect x="400" y="461" width="2" height="12"/><rect x="402" y="466" width="1.7" height="2"/><rect x="399" y="470" width="1" height="2"/></g><g fill="#000000"><rect x="404" y="456" width="2" height="13"/><rect x="406" y="458" width="1.7" height="2"/><rect x="403" y="466" width="1" height="2"/></g><g fill="#000000"><rect x="408" y="445" width="2" height="16"/><rect x="410" y="450" width="1.7" height="2"/><rect x="407" y="458" width="1" height="2"/></g><g fill="#e00000"><rect x="411" y="442" width="2" height="18"/><rect x="413" y="456" width="1.7" height="2"/><rect x="410" y="450" width="1" height="2"/></g><g fill="#000000"><rect x="415" y="455" width="2" height="9"/><rect x="417" y="456" width="1.7" height="2"/><rect x="414" y="456" width="1" height="2"/></g><g fill="#e00000"><rect x="419" y="456" width="2" height="8"/><rect x="421" y="460" width="1.7" height="2"/><rect x="418" y="456" width="1" height="2"/></g><g fill="#e00000"><rect x="423" y="460" width="2" height="9"/><rect x="425" y="462" width="1.7" height="2"/><rect x="422" y="460" width="1" height="2"/></g><g fill="#e00000"><rect x="426" y="453" width="2" height="14"/><rect x="428" y="461" width="1.7" height="2"/><rect x="425" y="462" width="1" height="2"/></g><g fill="#e00000"><rect x="430" y="461" width="2" height="18"/><rect x="432" y="471" width="1.7" height="2"/><rect x="429" y="461" width="1" height="2"/></g><g fill="#000000"><rect x="434" y="469" width="2" height="7"/><rect x="436" y="470" width="1.7" height="2"/><rect x="433" y="471" width="1" height="2"/></g><g fill="#e00000"><rect x="437" y="466" width="2" height="10"/><rect x="439" y="471" width="1.7" height="2"/><rect x="436" y="470" width="1" height="2"/></g><g fill="#e00000"><rect x="441" y="471" width="2" height="17"/><rect x="443" y="483" width="1.7" height="2"/><rect x="440" y="471" width="1" height="2"/></g><g fill="#000000"><rect x="445" y="475" width="2" height="21"/><rect x="447" y="476" width="1.7" height="2"/><rect x="444" y="483" width="1" height="2"/></g><g fill="#000000"><rect x="448" y="465" width="2" height="13"/><rect x="450" y="467" width="1.7" height="2"/><rect x="447" y="476" width="1" height="2"/></g><g fill="#000000"><rect x="452" y="464" width="2" height="8"/><rect x="454" y="465" width="1.7" height="2"/><rect x="451" y="467" width="1" height="2"/></g><g fill="#e00000"><rect x="456" y="463" width="2" height="13"/><rect x="458" y="469" width="1.7" height="2"/><rect x="455" y="465" width="1" height="2"/></g><g fill="#000000"><rect x="459" y="467" width="2" height="12"/><rect x="461" y="468" width="1.7" height="2"/><rect x="458" y="469" width="1" height="2"/></g><g fill="#e00000"><rect x="463" y="467" width="2" height="14"/><rect x="465" y="476" width="1.7" height="2"/><rect x="462" y="468" width="1" height="2"/></g><g fill="#000000"><rect x="467" y="474" width="2" height="8"/><rect x="469" y="475" width="1.7" height="2"/><rect x="466" y="476" width="1" height="2"/></g><g fill="#000000"><rect x="471" y="472" width="2" height="5"/><rect x="473" y="472" width="1.7" height="2"/><rect x="470" y="475" width="1" height="2"/></g><g fill="#000000"><rect x="474" y="462" width="2" height="11"/><rect x="476" y="462" width="1.7" height="2"/><rect x="473" y="471" width="1" height="2"/></g><g fill="#e00000"><rect x="478" y="461" width="2" height="8"/><rect x="480" y="465" width="1.7" height="2"/><rect x="477" y="462" width="1" height="2"/></g><g fill="#e00000"><rect x="482" y="463" width="2" height="11"/><rect x="484" y="467" width="1.7" height="2"/><rect x="481" y="465" width="1" height="2"/></g><g fill="#000000"><rect x="485" y="460" width="2" height="14"/><rect x="487" y="466" width="1.7" height="2"/><rect x="484" y="467" width="1" height="2"/></g><g fill="#e00000"><rect x="489" y="466" width="2" height="10"/><rect x="491" y="468" width="1.7" height="2"/><rect x="488" y="466" width="1" height="2"/></g><g fill="#000000"><rect x="493" y="464" width="2" height="7"/><rect x="495" y="464" width="1.7" height="2"/><rect x="492" y="468" width="1" height="2"/></g><g fill="#000000"><rect x="496" y="455" width="2" height="12"/><rect x="498" y="456" width="1.7" height="2"/><rect x="495" y="464" width="1" height="2"/></g><g fill="#000000"><rect x="500" y="448" width="2" height="11"/><rect x="502" y="449" width="1.7" height="2"/><rect x="499" y="456" width="1" height="2"/></g><g fill="#e00000"><rect x="504" y="447" width="2" height="13"/><rect x="506" y="455" width="1.7" height="2"/><rect x="503" y="449" width="1" height="2"/></g><g fill="#e00000"><rect x="508" y="454" width="2" height="13"/><rect x="510" y="461" width="1.7" height="2"/><rect x="507" y="455" width="1" height="2"/></g><g fill="#e00000"><rect x="511" y="461" width="2" height="12"/><rect x="513" y="466" width="1.7" height="2"/><rect x="510" y="461" width="1" height="2"/></g><g fill="#e00000"><rect x="515" y="467" width="2" height="11"/><rect x="517" y="470" width="1.7" height="2"/><rect x="514" y="467" width="1" height="2"/></g><g fill="#000000"><rect x="519" y="470" width="2" height="7"/><rect x="521" y="470" width="1.7" height="2"/><rect x="518" y="470" width="1" height="2"/></g><g fill="#e00000"><rect x="522" y="470" width="2" height="15"/><rect x="524" y="480" width="1.7" height="2"/><rect x="521" y="470" width="1" height="2"/></g><g fill="#000000"><rect x="526" y="474" width="2" height="8"/><rect x="528" y="480" width="1.7" height="2"/><rect x="525" y="480" width="1" height="2"/></g><g fill="#000000"><rect x="530" y="463" width="2" height="19"/><rect x="532" y="464" width="1.7" height="2"/><rect x="529" y="480" width="1" height="2"/></g><g fill="#000000"><rect x="533" y="459" width="2" height="9"/><rect x="535" y="461" width="1.7" height="2"/><rect x="532" y="464" width="1" height="2"/></g><g fill="#000000"><rect x="537" y="457" width="2" height="10"/><rect x="539" y="459" width="1.7" height="2"/><rect x="536" y="461" width="1" height="2"/></g><g fill="#e00000"><rect x="541" y="459" width="2" height="7"/><rect x="543" y="461" width="1.7" height="2"/><rect x="540" y="459" width="1" height="2"/></g><g fill="#000000"><rect x="544" y="456" width="2" height="8"/><rect x="546" y="456" width="1.7" height="2"/><rect x="543" y="461" width="1" height="2"/></g><g fill="#000000"><rect x="548" y="454" width="2" height="7"/><rect x="550" y="455" width="1.7" height="2"/><rect x="547" y="456" width="1" height="2"/></g><g fill="#e00000"><rect x="552" y="454" width="2" height="15"/><rect x="554" y="466" width="1.7" height="2"/><rect x="551" y="455" width="1" height="2"/></g><g fill="#000000"><rect x="556" y="464" width="2" height="7"/><rect x="558" y="464" width="1.7" height="2"/><rect x="555" y="466" width="1" height="2"/></g><g fill="#000000"><rect x="559" y="462" width="2" height="7"/><rect x="561" y="464" width="1.7" height="2"/><rect x="558" y="464" width="1" height="2"/></g><g fill="#e00000"><rect x="563" y="461" width="2" height="11"/><rect x="565" y="469" width="1.7" height="2"/><rect x="562" y="464" width="1" height="2"/></g><g fill="#000000"><rect x="567" y="467" width="2" height="4"/><rect x="569" y="467" width="1.7" height="2"/><rect x="566" y="469" width="1" height="2"/></g><g fill="#e00000"><rect x="570" y="464" width="2" height="9"/><rect x="572" y="469" width="1.7" height="2"/><rect x="569" y="467" width="1" height="2"/></g><g fill="#e00000"><rect x="574" y="469" width="2" height="6"/><rect x="576" y="471" width="1.7" height="2"/><rect x="573" y="469" width="1" height="2"/></g><g fill="#000000"><rect x="578" y="466" width="2" height="10"/><rect x="580" y="468" width="1.7" height="2"/><rect x="577" y="471" width="1" height="2"/></g><g fill="#e00000"><rect x="581" y="466" width="2" height="7"/><rect x="583" y="468" width="1.7" height="2"/><rect x="580" y="468" width="1" height="2"/></g><g fill="#000000"><rect x="585" y="460" width="2" height="14"/><rect x="587" y="460" width="1.7" height="2"/><rect x="584" y="468" width="1" height="2"/></g><g fill="#e00000"><rect x="589" y="461" width="2" height="5"/><rect x="591" y="463" width="1.7" height="2"/><rect x="588" y="461" width="1" height="2"/></g><g fill="#000000"><rect x="593" y="457" width="2" height="9"/><rect x="595" y="457" width="1.7" height="2"/><rect x="592" y="463" width="1" height="2"/></g><g fill="#000000"><rect x="596" y="456" width="2" height="6"/><rect x="598" y="456" width="1.7" height="2"/><rect x="595" y="457" width="1" height="2"/></g><g fill="#000000"><rect x="600" y="450" width="2" height="10"/><rect x="602" y="451" width="1.7" height="2"/><rect x="599" y="456" width="1" height="2"/></g><g fill="#000000"><rect x="604" y="444" width="2" height="12"/><rect x="606" y="445" width="1.7" height="2"/><rect x="603" y="451" width="1" height="2"/></g><g fill="#000000"><rect x="607" y="426" width="2" height="15"/><rect x="609" y="426" width="1.7" height="2"/><rect x="606" y="439" width="1" height="2"/></g><g fill="#000000"><rect x="611" y="418" width="2" height="12"/><rect x="613" y="420" width="1.7" height="2"/><rect x="610" y="426" width="1" height="2"/></g><g fill="#e00000"><rect x="615" y="419" width="2" height="14"/><rect x="617" y="423" width="1.7" height="2"/><rect x="614" y="420" width="1" height="2"/></g><g fill="#000000"><rect x="618" y="413" width="2" height="14"/><rect x="620" y="415" width="1.7" height="2"/><rect x="617" y="423" width="1" height="2"/></g><g fill="#000000"><rect x="622" y="404" width="2" height="15"/><rect x="624" y="406" width="1.7" height="2"/><rect x="621" y="415" width="1" height="2"/></g><g fill="#e00000"><rect x="626" y="398" width="2" height="11"/><rect x="628" y="406" width="1.7" height="2"/><rect x="625" y="406" width="1" height="2"/></g><g fill="#000000"><rect x="630" y="402" width="2" height="8"/><rect x="632" y="404" width="1.7" height="2"/><rect x="629" y="406" width="1" height="2"/></g><g fill="#e00000"><rect x="633" y="404" width="2" height="8"/><rect x="635" y="406" width="1.7" height="2"/><rect x="632" y="404" width="1" height="2"/></g><g fill="#000000"><rect x="637" y="403" width="2" height="5"/><rect x="639" y="403" width="1.7" height="2"/><rect x="636" y="406" width="1" height="2"/></g><g fill="#000000"><rect x="641" y="396" width="2" height="13"/><rect x="643" y="396" width="1.7" height="2"/><rect x="640" y="403" width="1" height="2"/></g><g fill="#000000"><rect x="644" y="393" width="2" height="5"/><rect x="646" y="394" width="1.7" height="2"/><rect x="643" y="396" width="1" height="2"/></g><g fill="#e00000"><rect x="648" y="392" width="2" height="13"/><rect x="650" y="400" width="1.7" height="2"/><rect x="647" y="394" width="1" height="2"/></g><g fill="#e00000"><rect x="652" y="399" width="2" height="10"/><rect x="654" y="402" width="1.7" height="2"/><rect x="651" y="400" width="1" height="2"/></g><g fill="#000000"><rect x="655" y="396" width="2" height="12"/><rect x="657" y="396" width="1.7" height="2"/><rect x="654" y="402" width="1" height="2"/></g><g fill="#000000"><rect x="659" y="384" width="2" height="18"/><rect x="661" y="384" width="1.7" height="2"/><rect x="658" y="396" width="1" height="2"/></g><g fill="#000000"><rect x="663" y="375" width="2" height="12"/><rect x="665" y="379" width="1.7" height="2"/><rect x="662" y="384" width="1" height="2"/></g><g fill="#e00000"><rect x="666" y="378" width="2" height="13"/><rect x="668" y="384" width="1.7" height="2"/><rect x="665" y="379" width="1" height="2"/></g><g fill="#000000"><rect x="670" y="381" width="2" height="9"/><rect x="672" y="383" width="1.7" height="2"/><rect x="669" y="384" width="1" height="2"/></g><g fill="#000000"><rect x="674" y="377" width="2" height="11"/><rect x="676" y="381" width="1.7" height="2"/><rect x="673" y="383" width="1" height="2"/></g><g fill="#000000"><rect x="678" y="367" width="2" height="16"/><rect x="680" y="367" width="1.7" height="2"/><rect x="677" y="381" width="1" height="2"/></g><g fill="#000000"><rect x="681" y="360" width="2" height="16"/><rect x="683" y="360" width="1.7" height="2"/><rect x="680" y="367" width="1" height="2"/></g><g fill="#000000"><rect x="685" y="356" width="2" height="8"/><rect x="687" y="359" width="1.7" height="2"/><rect x="684" y="360" width="1" height="2"/></g><g fill="#e00000"><rect x="689" y="355" width="2" height="16"/><rect x="691" y="361" width="1.7" height="2"/><rect x="688" y="359" width="1" height="2"/></g><g fill="#000000"><rect x="692" y="357" width="2" height="10"/><rect x="694" y="357" width="1.7" height="2"/><rect x="691" y="361" width="1" height="2"/></g><g fill="#000000"><rect x="696" y="342" width="2" height="17"/><rect x="698" y="342" width="1.7" height="2"/><rect x="695" y="357" width="1" height="2"/></g><g fill="#000000"><rect x="700" y="339" width="2" height="9"/><rect x="702" y="339" width="1.7" height="2"/><rect x="699" y="342" width="1" height="2"/></g><g fill="#000000"><rect x="703" y="325" width="2" height="15"/><rect x="705" y="327" width="1.7" height="2"/><rect x="702" y="338" width="1" height="2"/></g><g fill="#e00000"><rect x="707" y="326" width="2" height="21"/><rect x="709" y="340" width="1.7" height="2"/><rect x="706" y="327" width="1" height="2"/></g><g fill="#000000"><rect x="711" y="332" width="2" height="15"/><rect x="713" y="332" width="1.7" height="2"/><rect x="710" y="340" width="1" height="2"/></g><g fill="#000000"><rect x="715" y="312" width="2" height="21"/><rect x="717" y="313" width="1.7" height="2"/><rect x="714" y="331" width="1" height="2"/></g><g fill="#000000"><rect x="718" y="304" width="2" height="16"/><rect x="720" y="310" width="1.7" height="2"/><rect x="717" y="313" width="1" height="2"/></g><g fill="#000000"><rect x="722" y="297" width="2" height="15"/><rect x="724" y="297" width="1.7" height="2"/><rect x="721" y="310" width="1" height="2"/></g><g fill="#000000"><rect x="726" y="278" width="2" height="23"/><rect x="728" y="278" width="1.7" height="2"/><rect x="725" y="297" width="1" height="2"/></g><g fill="#e00000"><rect x="729" y="270" width="2" height="34"/><rect x="731" y="290" width="1.7" height="2"/><rect x="728" y="278" width="1" height="2"/></g><g fill="#000000"><rect x="733" y="269" width="2" height="29"/><rect x="735" y="273" width="1.7" height="2"/><rect x="732" y="290" width="1" height="2"/></g><g fill="#e00000"><rect x="737" y="270" width="2" height="52"/><rect x="739" y="314" width="1.7" height="2"/><rect x="736" y="273" width="1" height="2"/></g><g fill="#e00000"><rect x="740" y="307" width="2" height="29"/><rect x="742" y="317" width="1.7" height="2"/><rect x="739" y="314" width="1" height="2"/></g><g fill="#000000"><rect x="744" y="308" width="2" height="16"/><rect x="746" y="313" width="1.7" height="2"/><rect x="743" y="317" width="1" height="2"/></g><g fill="#e00000"><rect x="748" y="310" width="2" height="19"/><rect x="750" y="315" width="1.7" height="2"/><rect x="747" y="313" width="1" height="2"/></g><g fill="#e00000"><rect x="752" y="316" width="2" height="26"/><rect x="754" y="337" width="1.7" height="2"/><rect x="751" y="316" width="1" height="2"/></g><g fill="#e00000"><rect x="755" y="332" width="2" height="26"/><rect x="757" y="344" width="1.7" height="2"/><rect x="754" y="337" width="1" height="2"/></g><g fill="#e00000"><rect x="759" y="332" width="2" height="20"/><rect x="761" y="347" width="1.7" height="2"/><rect x="758" y="344" width="1" height="2"/></g><g fill="#000000"><rect x="763" y="332" width="2" height="21"/><rect x="765" y="332" width="1.7" height="2"/><rect x="762" y="347" width="1" height="2"/></g><g fill="#e00000"><rect x="766" y="328" width="2" height="14"/><rect x="768" y="334" width="1.7" height="2"/><rect x="765" y="332" width="1" height="2"/></g><g fill="#e00000"><rect x="770" y="330" width="2" height="14"/><rect x="772" y="337" width="1.7" height="2"/><rect x="769" y="334" width="1" height="2"/></g><g fill="#e00000"><rect x="774" y="335" width="2" height="15"/><rect x="776" y="347" width="1.7" height="2"/><rect x="773" y="337" width="1" height="2"/></g><g fill="#000000"><rect x="777" y="338" width="2" height="12"/><rect x="779" y="339" width="1.7" height="2"/><rect x="776" y="347" width="1" height="2"/></g><g fill="#e00000"><rect x="781" y="332" width="2" height="12"/><rect x="783" y="340" width="1.7" height="2"/><rect x="780" y="339" width="1" height="2"/></g><g fill="#000000"><rect x="785" y="331" width="2" height="10"/><rect x="787" y="336" width="1.7" height="2"/><rect x="784" y="339" width="1" height="2"/></g><g fill="#000000"><rect x="788" y="315" width="2" height="23"/><rect x="790" y="315" width="1.7" height="2"/><rect x="787" y="336" width="1" height="2"/></g><g fill="#000000"><rect x="792" y="309" width="2" height="9"/><rect x="794" y="314" width="1.7" height="2"/><rect x="791" y="315" width="1" height="2"/></g><g fill="#000000"><rect x="796" y="298" width="2" height="21"/><rect x="798" y="301" width="1.7" height="2"/><rect x="795" y="314" width="1" height="2"/></g><g fill="#e00000"><rect x="800" y="292" width="2" height="19"/><rect x="802" y="303" width="1.7" height="2"/><rect x="799" y="301" width="1" height="2"/></g><g fill="#e00000"><rect x="803" y="298" width="2" height="33"/><rect x="805" y="321" width="1.7" height="2"/><rect x="802" y="303" width="1" height="2"/></g><g fill="#e00000"><rect x="807" y="317" width="2" height="19"/><rect x="809" y="327" width="1.7" height="2"/><rect x="806" y="321" width="1" height="2"/></g><g fill="#000000"><rect x="811" y="321" width="2" height="16"/><rect x="813" y="322" width="1.7" height="2"/><rect x="810" y="327" width="1" height="2"/></g><g fill="#000000"><rect x="814" y="312" width="2" height="12"/><rect x="816" y="321" width="1.7" height="2"/><rect x="813" y="322" width="1" height="2"/></g><g fill="#e00000"><rect x="818" y="316" width="2" height="13"/><rect x="820" y="322" width="1.7" height="2"/><rect x="817" y="321" width="1" height="2"/></g><g fill="#e00000"><rect x="822" y="318" width="2" height="15"/><rect x="824" y="324" width="1.7" height="2"/><rect x="821" y="322" width="1" height="2"/></g><g fill="#000000"><rect x="825" y="311" width="2" height="19"/><rect x="827" y="311" width="1.7" height="2"/><rect x="824" y="324" width="1" height="2"/></g><g fill="#e00000"><rect x="829" y="307" width="2" height="10"/><rect x="831" y="312" width="1.7" height="2"/><rect x="828" y="311" width="1" height="2"/></g><g fill="#000000"><rect x="833" y="305" width="2" height="9"/><rect x="835" y="307" width="1.7" height="2"/><rect x="832" y="312" width="1" height="2"/></g><g fill="#000000"><rect x="837" y="296" width="2" height="15"/><rect x="839" y="296" width="1.7" height="2"/><rect x="836" y="307" width="1" height="2"/></g><g fill="#000000"><rect x="840" y="289" width="2" height="13"/><rect x="842" y="293" width="1.7" height="2"/><rect x="839" y="296" width="1" height="2"/></g><g fill="#e00000"><rect x="844" y="293" width="2" height="15"/><rect x="846" y="299" width="1.7" height="2"/><rect x="843" y="293" width="1" height="2"/></g><g fill="#e00000"><rect x="848" y="293" width="2" height="9"/><rect x="850" y="299" width="1.7" height="2"/><rect x="847" y="299" width="1" height="2"/></g><g fill="#000000"><rect x="851" y="297" width="2" height="9"/><rect x="853" y="298" width="1.7" height="2"/><rect x="850" y="299" width="1" height="2"/></g><g fill="#e00000"><rect x="855" y="290" width="2" height="13"/><rect x="857" y="299" width="1.7" height="2"/><rect x="854" y="298" width="1" height="2"/></g><g fill="#e00000"><rect x="859" y="297" width="2" height="8"/><rect x="861" y="301" width="1.7" height="2"/><rect x="858" y="299" width="1" height="2"/></g><g fill="#000000"><rect x="862" y="297" width="2" height="10"/><rect x="864" y="297" width="1.7" height="2"/><rect x="861" y="301" width="1" height="2"/></g><g fill="#000000"><rect x="866" y="294" width="2" height="9"/><rect x="868" y="294" width="1.7" height="2"/><rect x="865" y="297" width="1" height="2"/></g><g fill="#000000"><rect x="870" y="285" width="2" height="15"/><rect x="872" y="285" width="1.7" height="2"/><rect x="869" y="294" width="1" height="2"/></g><g fill="#000000"><rect x="873" y="274" width="2" height="17"/><rect x="875" y="282" width="1.7" height="2"/><rect x="872" y="285" width="1" height="2"/></g><g fill="#000000"><rect x="877" y="274" width="2" height="13"/><rect x="879" y="282" width="1.7" height="2"/><rect x="876" y="282" width="1" height="2"/></g><g fill="#e00000"><rect x="881" y="277" width="2" height="12"/><rect x="883" y="284" width="1.7" height="2"/><rect x="880" y="282" width="1" height="2"/></g><g fill="#000000"><rect x="885" y="275" width="2" height="8"/><rect x="887" y="276" width="1.7" height="2"/><rect x="884" y="281" width="1" height="2"/></g><g fill="#e00000"><rect x="888" y="270" width="2" height="13"/><rect x="890" y="277" width="1.7" height="2"/><rect x="887" y="276" width="1" height="2"/></g><g fill="#000000"><rect x="892" y="273" width="2" height="9"/><rect x="894" y="276" width="1.7" height="2"/><rect x="891" y="277" width="1" height="2"/></g><g fill="#000000"><rect x="896" y="258" width="2" height="20"/><rect x="898" y="258" width="1.7" height="2"/><rect x="895" y="276" width="1" height="2"/></g><g fill="#000000"><rect x="899" y="250" width="2" height="11"/><rect x="901" y="253" width="1.7" height="2"/><rect x="898" y="258" width="1" height="2"/></g><g fill="#e00000"><rect x="903" y="245" width="2" height="14"/><rect x="905" y="253" width="1.7" height="2"/><rect x="902" y="253" width="1" height="2"/></g><g fill="#000000"><rect x="907" y="241" width="2" height="11"/><rect x="909" y="245" width="1.7" height="2"/><rect x="906" y="250" width="1" height="2"/></g><g fill="#e00000"><rect x="910" y="242" width="2" height="42"/><rect x="912" y="276" width="1.7" height="2"/><rect x="909" y="245" width="1" height="2"/></g><g fill="#000000"><rect x="914" y="265" width="2" height="13"/><rect x="916" y="276" width="1.7" height="2"/><rect x="913" y="276" width="1" height="2"/></g><g fill="#e00000"><rect x="918" y="271" width="2" height="17"/><rect x="920" y="276" width="1.7" height="2"/><rect x="917" y="276" width="1" height="2"/></g><g fill="#000000"><rect x="922" y="266" width="2" height="15"/><rect x="924" y="270" width="1.7" height="2"/><rect x="921" y="276" width="1" height="2"/></g><g fill="#000000"><rect x="925" y="255" width="2" height="19"/><rect x="927" y="256" width="1.7" height="2"/><rect x="924" y="270" width="1" height="2"/></g><g fill="#000000"><rect x="929" y="250" width="2" height="11"/><rect x="931" y="251" width="1.7" height="2"/><rect x="928" y="256" width="1" height="2"/></g><g fill="#e00000"><rect x="933" y="249" width="2" height="14"/><rect x="935" y="256" width="1.7" height="2"/><rect x="932" y="251" width="1" height="2"/></g><g fill="#000000"><rect x="936" y="253" width="2" height="13"/><rect x="938" y="253" width="1.7" height="2"/><rect x="935" y="256" width="1" height="2"/></g><g fill="#000000"><rect x="940" y="247" width="2" height="10"/><rect x="942" y="247" width="1" height="2"/><rect x="939" y="253" width="1" height="2"/></g></g>
<polyline points="17.0,639.3 21.0,639.0 24.0,638.3 28.0,637.1 32.0,635.6 35.0,634.4 39.0,632.4 43.0,630.3 46.0,628.5 50.0,626.5 54.0,625.3 58.0,623.7 61.0,622.4 65.0,620.2 69.0,618.1 72.0,615.7 76.0,613.0 80.0,609.8 83.0,607.2 87.0,604.7 91.0,601.2 95.0,598.5 98.0,595.9 102.0,592.8 106.0,591.3 109.0,588.6 113.0,586.2 117.0,584.0 120.0,582.0 124.0,579.9 128.0,578.7 131.0,577.6 135.0,577.7 139.0,578.2 143.0,577.9 146.0,577.0 150.0,576.1 154.0,575.6 157.0,574.9 161.0,574.9 165.0,574.2 168.0,573.2 172.0,571.0 176.0,569.1 180.0,567.1 183.0,564.5 187.0,561.8 191.0,559.4 194.0,557.6 198.0,556.3 202.0,554.9 205.0,553.6 209.0,551.7 213.0,549.4 217.0,546.4 220.0,543.8 224.0,540.5 228.0,538.6 231.0,538.5 235.0,539.4 239.0,540.6 242.0,539.3 246.0,536.0 250.0,532.2 253.0,528.7 257.0,524.8 261.0,519.1 265.0,514.3 268.0,507.8 272.0,504.1 276.0,501.1 279.0,497.9 283.0,495.9 287.0,493.4 290.0,491.4 294.0,490.6 298.0,490.6 302.0,490.6 305.0,488.7 309.0,485.5 313.0,483.0 316.0,482.1 320.0,482.0 324.0,482.9 327.0,483.4 331.0,485.2 335.0,485.8 338.0,486.9 342.0,487.7 346.0,486.7 350.0,485.5 353.0,484.7 357.0,483.0 361.0,482.2 364.0,481.9 368.0,481.5 372.0,481.4 375.0,479.4 379.0,478.0 383.0,476.4 387.0,475.2 390.0,475.1 394.0,474.7 398.0,474.4 401.0,473.7 405.0,472.3 409.0,470.3 412.0,469.0 416.0,467.9 420.0,467.2 424.0,466.8 427.0,466.3 431.0,466.8 435.0,467.2 438.0,467.7 442.0,469.2 446.0,469.9 449.0,469.8 453.0,469.4 457.0,469.4 460.0,469.4 464.0,470.1 468.0,470.6 472.0,470.9 475.0,470.1 479.0,469.7 483.0,469.6 486.0,469.3 490.0,469.3 494.0,468.9 497.0,467.8 501.0,466.0 505.0,465.1 509.0,464.7 512.0,465.0 516.0,465.6 520.0,466.1 523.0,467.5 527.0,468.8 531.0,468.4 534.0,467.7 538.0,467.0 542.0,466.5 545.0,465.5 549.0,464.6 553.0,464.8 557.0,464.9 560.0,464.9 564.0,465.3 568.0,465.6 571.0,466.0 575.0,466.6 579.0,466.8 582.0,467.0 586.0,466.5 590.0,466.2 594.0,465.4 597.0,464.6 601.0,463.4 605.0,461.7 608.0,458.3 612.0,454.7 616.0,451.7 619.0,448.2 623.0,444.2 627.0,440.6 631.0,437.1 634.0,434.2 638.0,431.3 642.0,427.9 645.0,424.8 649.0,422.4 653.0,420.6 656.0,418.3 660.0,415.1 664.0,411.7 667.0,409.1 671.0,406.7 675.0,404.3 679.0,400.8 682.0,396.8 686.0,393.3 690.0,390.3 693.0,387.1 697.0,382.8 701.0,378.6 704.0,373.6 708.0,370.5 712.0,366.8 716.0,361.6 719.0,356.6 723.0,350.8 727.0,343.6 730.0,338.5 734.0,332.0 738.0,330.4 741.0,329.3 745.0,327.8 749.0,326.7 753.0,327.8 756.0,329.4 760.0,331.2 764.0,331.3 767.0,331.6 771.0,332.3 775.0,333.8 778.0,334.3 782.0,334.9 786.0,335.1 789.0,333.3 793.0,331.6 797.0,328.7 801.0,326.3 804.0,325.9 808.0,326.0 812.0,325.7 815.0,325.3 819.0,325.1 823.0,325.1 826.0,323.9 830.0,322.8 834.0,321.4 838.0,319.0 841.0,316.6 845.0,314.9 849.0,313.5 852.0,312.1 856.0,310.9 860.0,310.1 863.0,308.9 867.0,307.6 871.0,305.5 874.0,303.3 878.0,301.3 882.0,299.8 886.0,297.7 889.0,295.7 893.0,293.9 897.0,290.5 900.0,287.0 904.0,283.8 908.0,280.1 911.0,279.9 915.0,279.6 919.0,279.4 923.0,278.6 926.0,276.5 930.0,274.1 934.0,272.4 937.0,270.7 941.0,268.5" fill="none" stroke="#1a7a1a" stroke-width="1.15" stroke-linejoin="round" stroke-linecap="round" />
<polyline points="17.2,636.5 23.3,638.3 42.7,638.3 57.2,636.5 71.8,632.9 86.3,628.6 100.8,622.6 115.4,616.5 125.1,612.3 136.0,608.6 172.4,594.0 184.5,587.1 196.7,580.5 208.8,574.4 220.9,567.7 233.0,562.3 241.5,558.6 250.0,554.4 305.5,524.0 317.6,517.1 329.7,511.7 337.0,509.2 349.1,502.6 362.1,498.0 374.2,493.8 386.4,488.3 398.5,484.7 410.6,480.5 422.7,475.6 430.0,473.2 447.0,472.9 470.0,473.8 478.2,473.2 496.4,471.7 508.5,470.2 520.6,469.3 532.7,468.3 544.8,467.4 557.0,466.9 569.1,467.4 600.3,467.4 608.8,466.2 618.5,463.2 630.6,457.7 642.7,452.9 654.8,448.0 667.0,441.4 679.1,435.3 690.0,431.7 729.1,399.0 743.0,387.3 760.0,375.2 782.1,361.0 793.0,354.7 801.1,348.2 819.2,339.7 837.4,331.2 855.6,322.7 873.8,316.1 885.4,312.3 892.0,310.6 898.5,306.9 906.6,305.5 918.7,305.5 928.8,302.2 940.4,297.1" fill="none" stroke="#1a1a9c" stroke-width="1.3" stroke-linejoin="round" stroke-linecap="round" />
<polyline points="201.5,642.8 239.9,634.4 266.8,625.6 305.2,612.1 343.6,600.6 374.3,591.0 412.6,577.6 451.0,566.8 489.4,557.2 527.8,547.6 560.0,541.7 599.4,533.8 638.8,522.0 678.2,508.2 717.6,492.4 741.2,481.4 772.8,468.8 812.2,453.0 851.6,438.1 891.0,423.5 922.5,411.7 940.2,403.8" fill="none" stroke="#e8202a" stroke-width="1.15" stroke-linejoin="round" stroke-linecap="round" />
</g>
<g clip-path="url(#cm)">
<g fill="#8fb7ab" stroke="#3f6f63" stroke-width="0.9"><rect x="16.5" y="761.8" width="4" height="4.6"/><rect x="20.5" y="761.9" width="3" height="4.5"/><rect x="23.5" y="762.1" width="4" height="4.3"/><rect x="27.5" y="761.6" width="4" height="4.8"/><rect x="31.5" y="761.1" width="3" height="5.3"/><rect x="34.5" y="760.5" width="4" height="5.9"/><rect x="38.5" y="759.7" width="4" height="6.7"/><rect x="42.5" y="759.2" width="3" height="7.2"/><rect x="45.5" y="759.4" width="4" height="7.0"/><rect x="49.5" y="759.7" width="4" height="6.7"/><rect x="53.5" y="760.8" width="4" height="5.6"/><rect x="57.5" y="761.7" width="3" height="4.7"/><rect x="60.5" y="762.0" width="4" height="4.4"/><rect x="64.5" y="761.3" width="4" height="5.1"/><rect x="68.5" y="760.6" width="3" height="5.8"/><rect x="71.5" y="760.0" width="4" height="6.4"/><rect x="75.5" y="759.5" width="4" height="6.9"/><rect x="79.5" y="759.5" width="3" height="6.9"/><rect x="82.5" y="759.6" width="4" height="6.8"/><rect x="86.5" y="759.9" width="4" height="6.5"/><rect x="90.5" y="759.3" width="4" height="7.1"/><rect x="94.5" y="760.2" width="3" height="6.2"/><rect x="97.5" y="761.2" width="4" height="5.2"/><rect x="101.5" y="761.1" width="4" height="5.3"/><rect x="105.5" y="763.1" width="3" height="3.3"/><rect x="108.5" y="763.2" width="4" height="3.2"/><rect x="112.5" y="763.9" width="4" height="2.5"/><rect x="116.5" y="764.4" width="3" height="2.0"/><rect x="119.5" y="764.8" width="4" height="1.6"/><rect x="123.5" y="765.4" width="4" height="1.0"/><rect x="127.5" y="766.4" width="3" height="0.8"/><rect x="130.5" y="766.4" width="4" height="2.7"/><rect x="134.5" y="766.4" width="4" height="5.5"/><rect x="138.5" y="766.4" width="4" height="7.7"/><rect x="142.5" y="766.4" width="3" height="7.2"/><rect x="145.5" y="766.4" width="4" height="6.2"/><rect x="149.5" y="766.4" width="4" height="6.3"/><rect x="153.5" y="766.4" width="3" height="6.0"/><rect x="156.5" y="766.4" width="4" height="5.5"/><rect x="160.5" y="766.4" width="4" height="5.5"/><rect x="164.5" y="766.4" width="3" height="4.9"/><rect x="167.5" y="766.4" width="4" height="3.4"/><rect x="171.5" y="766.4" width="4" height="1.2"/><rect x="175.5" y="765.7" width="4" height="0.7"/><rect x="179.5" y="763.8" width="3" height="2.6"/><rect x="182.5" y="762.4" width="4" height="4.0"/><rect x="186.5" y="761.2" width="4" height="5.2"/><rect x="190.5" y="760.9" width="3" height="5.5"/><rect x="193.5" y="762.2" width="4" height="4.2"/><rect x="197.5" y="763.6" width="4" height="2.8"/><rect x="201.5" y="764.9" width="3" height="1.5"/><rect x="204.5" y="765.3" width="4" height="1.1"/><rect x="208.5" y="765.1" width="4" height="1.3"/><rect x="212.5" y="763.9" width="4" height="2.5"/><rect x="216.5" y="762.5" width="3" height="3.9"/><rect x="219.5" y="761.9" width="4" height="4.5"/><rect x="223.5" y="760.7" width="4" height="5.7"/><rect x="227.5" y="762.7" width="3" height="3.7"/><rect x="230.5" y="766.4" width="4" height="0.6"/><rect x="234.5" y="766.4" width="4" height="5.7"/><rect x="238.5" y="766.4" width="3" height="7.6"/><rect x="241.5" y="766.4" width="4" height="6.0"/><rect x="245.5" y="766.4" width="4" height="0.6"/><rect x="249.5" y="762.3" width="3" height="4.1"/><rect x="252.5" y="760.6" width="4" height="5.8"/><rect x="256.5" y="758.4" width="4" height="8.0"/><rect x="260.5" y="755.8" width="4" height="10.6"/><rect x="264.5" y="753.5" width="3" height="12.9"/><rect x="267.5" y="750.3" width="4" height="16.1"/><rect x="271.5" y="752.9" width="4" height="13.5"/><rect x="275.5" y="756.0" width="3" height="10.4"/><rect x="278.5" y="758.0" width="4" height="8.4"/><rect x="282.5" y="761.4" width="4" height="5.0"/><rect x="286.5" y="763.9" width="3" height="2.5"/><rect x="289.5" y="766.4" width="4" height="0.9"/><rect x="293.5" y="766.4" width="4" height="4.7"/><rect x="297.5" y="766.4" width="4" height="7.7"/><rect x="301.5" y="766.4" width="3" height="8.8"/><rect x="304.5" y="766.4" width="4" height="7.0"/><rect x="308.5" y="766.4" width="4" height="4.1"/><rect x="312.5" y="766.4" width="3" height="3.4"/><rect x="315.5" y="766.4" width="4" height="4.5"/><rect x="319.5" y="766.4" width="4" height="5.1"/><rect x="323.5" y="766.4" width="3" height="8.9"/><rect x="326.5" y="766.4" width="4" height="11.5"/><rect x="330.5" y="766.4" width="4" height="14.6"/><rect x="334.5" y="766.4" width="3" height="14.6"/><rect x="337.5" y="766.4" width="4" height="14.1"/><rect x="341.5" y="766.4" width="4" height="13.5"/><rect x="345.5" y="766.4" width="4" height="9.4"/><rect x="349.5" y="766.4" width="3" height="5.8"/><rect x="352.5" y="766.4" width="4" height="4.8"/><rect x="356.5" y="766.4" width="4" height="0.7"/><rect x="360.5" y="766.4" width="3" height="0.6"/><rect x="363.5" y="766.4" width="4" height="1.6"/><rect x="367.5" y="766.4" width="4" height="0.7"/><rect x="371.5" y="766.4" width="3" height="1.2"/><rect x="374.5" y="765.0" width="4" height="1.4"/><rect x="378.5" y="764.4" width="4" height="2.0"/><rect x="382.5" y="764.0" width="4" height="2.4"/><rect x="386.5" y="764.1" width="3" height="2.3"/><rect x="389.5" y="766.4" width="4" height="0.6"/><rect x="393.5" y="766.4" width="4" height="1.0"/><rect x="397.5" y="766.4" width="3" height="1.8"/><rect x="400.5" y="766.4" width="4" height="1.0"/><rect x="404.5" y="765.3" width="4" height="1.1"/><rect x="408.5" y="763.6" width="3" height="2.8"/><rect x="411.5" y="763.8" width="4" height="2.6"/><rect x="415.5" y="764.4" width="4" height="2.0"/><rect x="419.5" y="765.7" width="4" height="0.7"/><rect x="423.5" y="766.4" width="3" height="0.7"/><rect x="426.5" y="766.4" width="4" height="2.2"/><rect x="430.5" y="766.4" width="4" height="4.7"/><rect x="434.5" y="766.4" width="3" height="6.2"/><rect x="437.5" y="766.4" width="4" height="6.6"/><rect x="441.5" y="766.4" width="4" height="7.3"/><rect x="445.5" y="766.4" width="3" height="7.1"/><rect x="448.5" y="766.4" width="4" height="6.1"/><rect x="452.5" y="766.4" width="4" height="4.5"/><rect x="456.5" y="766.4" width="3" height="4.4"/><rect x="459.5" y="766.4" width="4" height="4.4"/><rect x="463.5" y="766.4" width="4" height="4.3"/><rect x="467.5" y="766.4" width="4" height="3.6"/><rect x="471.5" y="766.4" width="3" height="2.3"/><rect x="474.5" y="766.4" width="4" height="1.2"/><rect x="478.5" y="766.4" width="4" height="0.6"/><rect x="482.5" y="766.4" width="3" height="0.6"/><rect x="485.5" y="766.3" width="4" height="0.6"/><rect x="489.5" y="766.1" width="4" height="0.6"/><rect x="493.5" y="765.5" width="3" height="0.9"/><rect x="496.5" y="763.7" width="4" height="2.7"/><rect x="500.5" y="761.8" width="4" height="4.6"/><rect x="504.5" y="761.8" width="4" height="4.6"/><rect x="508.5" y="763.8" width="3" height="2.6"/><rect x="511.5" y="764.9" width="4" height="1.5"/><rect x="515.5" y="766.2" width="4" height="0.6"/><rect x="519.5" y="766.4" width="3" height="1.8"/><rect x="522.5" y="766.4" width="4" height="3.8"/><rect x="526.5" y="766.4" width="4" height="4.6"/><rect x="530.5" y="766.4" width="3" height="2.2"/><rect x="533.5" y="766.4" width="4" height="0.6"/><rect x="537.5" y="765.4" width="4" height="1.0"/><rect x="541.5" y="763.9" width="3" height="2.5"/><rect x="544.5" y="763.1" width="4" height="3.3"/><rect x="548.5" y="763.0" width="4" height="3.4"/><rect x="552.5" y="764.3" width="4" height="2.1"/><rect x="556.5" y="765.7" width="3" height="0.7"/><rect x="559.5" y="766.4" width="4" height="0.6"/><rect x="563.5" y="766.4" width="4" height="1.1"/><rect x="567.5" y="766.4" width="3" height="1.9"/><rect x="570.5" y="766.4" width="4" height="2.6"/><rect x="574.5" y="766.4" width="4" height="3.0"/><rect x="578.5" y="766.4" width="3" height="2.6"/><rect x="581.5" y="766.4" width="4" height="1.5"/><rect x="585.5" y="766.4" width="4" height="0.6"/><rect x="589.5" y="764.9" width="4" height="1.5"/><rect x="593.5" y="763.7" width="3" height="2.7"/><rect x="596.5" y="762.9" width="4" height="3.5"/><rect x="600.5" y="760.9" width="4" height="5.5"/><rect x="604.5" y="757.9" width="3" height="8.5"/><rect x="607.5" y="754.8" width="4" height="11.6"/><rect x="611.5" y="752.2" width="4" height="14.2"/><rect x="615.5" y="751.0" width="3" height="15.4"/><rect x="618.5" y="750.4" width="4" height="16.0"/><rect x="622.5" y="750.2" width="4" height="16.2"/><rect x="626.5" y="750.1" width="4" height="16.3"/><rect x="630.5" y="751.5" width="3" height="14.9"/><rect x="633.5" y="753.2" width="4" height="13.2"/><rect x="637.5" y="755.1" width="4" height="11.3"/><rect x="641.5" y="756.2" width="3" height="10.2"/><rect x="644.5" y="756.2" width="4" height="10.2"/><rect x="648.5" y="759.2" width="4" height="7.2"/><rect x="652.5" y="762.2" width="3" height="4.2"/><rect x="655.5" y="763.0" width="4" height="3.4"/><rect x="659.5" y="761.3" width="4" height="5.1"/><rect x="663.5" y="760.6" width="3" height="5.8"/><rect x="666.5" y="762.0" width="4" height="4.4"/><rect x="670.5" y="763.3" width="4" height="3.1"/><rect x="674.5" y="763.8" width="4" height="2.6"/><rect x="678.5" y="761.8" width="3" height="4.6"/><rect x="681.5" y="760.5" width="4" height="5.9"/><rect x="685.5" y="760.4" width="4" height="6.0"/><rect x="689.5" y="761.5" width="3" height="4.9"/><rect x="692.5" y="761.0" width="4" height="5.4"/><rect x="696.5" y="759.0" width="4" height="7.4"/><rect x="700.5" y="758.0" width="3" height="8.4"/><rect x="703.5" y="756.8" width="4" height="9.6"/><rect x="707.5" y="758.7" width="4" height="7.7"/><rect x="711.5" y="758.7" width="4" height="7.7"/><rect x="715.5" y="756.1" width="3" height="10.3"/><rect x="718.5" y="755.3" width="4" height="11.1"/><rect x="722.5" y="753.6" width="4" height="12.8"/><rect x="726.5" y="749.2" width="3" height="17.2"/><rect x="729.5" y="749.6" width="4" height="16.8"/><rect x="733.5" y="750.4" width="4" height="16.0"/><rect x="737.5" y="760.8" width="3" height="5.6"/><rect x="740.5" y="766.4" width="4" height="1.4"/><rect x="744.5" y="766.4" width="4" height="5.5"/><rect x="748.5" y="766.4" width="4" height="9.5"/><rect x="752.5" y="766.4" width="3" height="19.5"/><rect x="755.5" y="766.4" width="4" height="23.5"/><rect x="759.5" y="766.4" width="4" height="26.5"/><rect x="763.5" y="766.4" width="3" height="24.8"/><rect x="766.5" y="766.4" width="4" height="24.3"/><rect x="770.5" y="766.4" width="4" height="23.6"/><rect x="774.5" y="766.4" width="3" height="23.0"/><rect x="777.5" y="766.4" width="4" height="21.9"/><rect x="781.5" y="766.4" width="4" height="19.5"/><rect x="785.5" y="766.4" width="3" height="15.3"/><rect x="788.5" y="766.4" width="4" height="9.8"/><rect x="792.5" y="766.4" width="4" height="3.9"/><rect x="796.5" y="764.7" width="4" height="1.7"/><rect x="800.5" y="764.4" width="3" height="2.0"/><rect x="803.5" y="766.2" width="4" height="0.6"/><rect x="807.5" y="766.4" width="4" height="2.6"/><rect x="811.5" y="766.4" width="3" height="3.9"/><rect x="814.5" y="766.4" width="4" height="4.0"/><rect x="818.5" y="766.4" width="4" height="4.0"/><rect x="822.5" y="766.4" width="3" height="3.7"/><rect x="825.5" y="766.4" width="4" height="2.6"/><rect x="829.5" y="766.4" width="4" height="1.3"/><rect x="833.5" y="765.8" width="4" height="0.6"/><rect x="837.5" y="762.6" width="3" height="3.8"/><rect x="840.5" y="760.8" width="4" height="5.6"/><rect x="844.5" y="760.9" width="4" height="5.5"/><rect x="848.5" y="761.3" width="3" height="5.1"/><rect x="851.5" y="762.2" width="4" height="4.2"/><rect x="855.5" y="763.7" width="4" height="2.7"/><rect x="859.5" y="765.3" width="3" height="1.1"/><rect x="862.5" y="765.9" width="4" height="0.6"/><rect x="866.5" y="765.9" width="4" height="0.6"/><rect x="870.5" y="764.1" width="3" height="2.3"/><rect x="873.5" y="762.6" width="4" height="3.8"/><rect x="877.5" y="761.8" width="4" height="4.6"/><rect x="881.5" y="761.8" width="4" height="4.6"/><rect x="885.5" y="761.2" width="3" height="5.2"/><rect x="888.5" y="761.2" width="4" height="5.2"/><rect x="892.5" y="761.4" width="4" height="5.0"/><rect x="896.5" y="758.1" width="3" height="8.3"/><rect x="899.5" y="756.3" width="4" height="10.1"/><rect x="903.5" y="755.6" width="4" height="10.8"/><rect x="907.5" y="755.3" width="3" height="11.1"/><rect x="910.5" y="762.4" width="4" height="4.0"/><rect x="914.5" y="766.4" width="4" height="1.6"/><rect x="918.5" y="766.4" width="4" height="5.0"/><rect x="922.5" y="766.4" width="3" height="6.6"/><rect x="925.5" y="766.4" width="4" height="3.8"/><rect x="929.5" y="766.4" width="4" height="0.6"/><rect x="933.5" y="766.4" width="3" height="0.6"/><rect x="936.5" y="765.9" width="4" height="0.6"/><rect x="940.5" y="765.5" width="4" height="0.9"/></g>
<polyline points="16.9,769.4 24.6,766.5 33.2,763.4 41.8,759.9 49.5,756.2 58.9,752.7 67.5,750.5 74.4,747.6 82.1,744.1 89.8,741.1 97.6,737.3 105.3,735.2 112.2,733.8 119.0,733.0 125.9,732.5 132.8,733.5 137.9,735.6 144.8,739.9 151.7,741.6 158.5,745.0 164.5,747.2 170.6,747.9 175.7,747.6 180.0,747.6 186.9,745.0 193.7,742.8 200.6,741.9 207.5,741.2 214.3,739.5 221.2,737.6 228.1,736.1 233.2,736.8 238.4,739.3 242.7,741.2 247.8,740.7 253.8,736.9 260.7,732.1 265.9,727.8 271.0,722.7 277.0,718.9 283.0,716.2 288.2,715.0 293.3,716.3 298.5,719.2 303.6,722.2 310.5,723.9 317.4,727.0 324.3,730.4 331.1,736.4 338.0,743.3 343.1,747.2 345.0,748.4 350.2,750.7 355.3,751.5 362.2,752.4 369.0,752.7 375.9,752.4 382.8,751.5 389.7,751.4 396.5,751.4 403.4,751.0 410.3,750.2 417.1,749.3 424.0,749.0 429.1,749.3 434.3,751.0 439.5,754.1 444.6,756.7 449.8,758.4 454.9,759.6 460.1,761.0 465.2,762.5 470.4,763.9 475.5,764.4 480.7,764.8 485.8,765.3 491.0,765.1 496.1,764.2 501.3,763.0 506.4,761.8 510.0,761.3 516.9,762.7 523.7,764.2 530.6,765.3 537.5,765.1 544.3,764.2 551.2,763.6 558.1,763.0 565.0,763.0 570.1,763.9 575.3,765.1 580.4,766.1 585.6,766.5 590.7,766.1 595.9,765.6 601.0,764.8 606.2,762.5 611.3,758.7 616.5,753.6 621.6,747.6 626.8,742.1 631.9,736.9 637.1,733.0 642.2,729.0 647.4,726.1 652.5,724.4 657.7,723.0 662.8,721.5 668.0,720.1 673.1,718.7 675.0,718.4 680.2,716.7 685.3,714.6 690.5,712.9 695.6,710.7 700.8,707.7 705.9,705.0 711.1,702.6 715.4,700.7 720.5,696.1 725.7,690.9 730.0,685.8 734.2,681.5 738.5,680.3 742.8,681.0 747.1,683.7 751.4,689.2 755.7,696.1 760.9,704.7 766.0,713.2 771.2,720.1 776.3,727.8 781.5,734.2 786.6,739.3 791.8,742.1 796.9,742.4 800.0,741.1 805.2,741.6 810.3,742.4 817.2,744.1 822.3,746.2 827.5,746.7 832.6,745.9 837.8,745.0 842.9,743.8 848.1,741.6 853.2,740.4 858.4,739.9 863.5,739.3 868.7,739.0 873.8,737.3 879.0,735.9 884.1,734.7 889.3,733.0 896.2,730.4 901.3,726.1 906.5,721.8 910.8,720.1 915.1,720.4 920.2,722.7 925.4,724.9 930.5,725.6 935.7,725.6 940.5,725.3" fill="none" stroke="#b81846" stroke-width="1.3" stroke-linejoin="round" stroke-linecap="round" />
<polyline points="16.9,764.8 24.6,762.2 33.2,757.9 41.8,752.7 49.5,749.3 55.5,748.8 60.7,747.9 67.5,745.0 74.4,740.7 82.1,737.3 86.4,736.1 90.7,733.5 94.1,732.5 97.6,732.1 101.4,730.4 104.4,732.1 108.7,731.3 115.6,731.3 123.3,731.3 127.6,733.3 132.8,737.3 137.9,743.3 142.2,745.9 146.5,746.4 151.7,747.9 156.8,749.6 162.0,751.9 164.5,752.4 168.8,750.7 174.0,747.9 179.1,745.4 180.0,745.0 185.2,740.7 190.3,738.1 195.5,738.7 200.6,740.2 205.8,740.4 210.9,739.0 215.2,735.6 219.5,733.8 222.9,731.3 227.2,731.3 230.7,736.4 235.0,743.3 238.7,747.2 241.8,747.2 246.1,740.7 250.4,734.7 255.6,728.7 259.9,722.7 264.1,717.5 267.6,709.8 271.0,708.4 274.5,708.9 278.7,709.5 283.0,711.2 287.3,712.9 291.6,718.4 295.9,723.9 300.2,729.6 303.6,730.4 307.9,727.5 312.2,727.8 316.5,731.3 320.8,733.8 326.0,742.4 330.3,750.2 335.4,755.3 341.4,760.1 345.0,758.7 349.3,756.5 352.7,756.2 357.0,752.4 360.5,752.4 363.9,754.1 367.3,753.3 371.6,754.1 375.1,751.0 380.2,749.6 386.2,748.4 389.7,751.4 393.9,752.4 397.4,753.3 401.7,751.9 405.1,749.6 408.5,747.6 413.7,747.2 417.1,747.6 421.4,749.0 425.7,750.2 429.1,753.3 433.4,756.5 437.7,759.6 442.0,762.7 445.5,764.2 448.9,764.2 452.3,763.6 456.6,764.4 460.9,765.6 465.2,766.8 470.4,766.8 474.7,765.6 479.0,764.8 482.4,765.3 486.7,765.1 491.8,764.8 495.3,763.0 498.7,759.6 502.1,757.9 505.6,757.5 510.0,759.3 514.3,761.3 518.6,763.9 522.9,767.8 526.3,769.6 529.7,768.2 534.0,765.6 538.3,763.9 543.5,761.3 547.8,760.1 552.9,761.3 558.1,762.7 563.2,763.9 568.4,765.6 573.5,767.8 578.7,768.5 583.8,767.3 589.0,765.1 594.1,763.0 598.4,761.3 602.7,757.9 606.2,752.7 609.6,746.7 613.9,741.6 618.2,735.6 623.3,729.6 627.6,724.9 630.2,723.2 635.4,721.8 639.7,720.4 644.8,717.2 648.2,718.0 652.5,720.1 656.0,720.1 659.4,717.5 663.7,715.3 668.0,716.2 672.3,716.2 675.0,715.8 678.4,712.9 681.9,710.1 685.3,708.4 689.6,708.4 693.0,706.4 696.5,702.9 700.8,699.5 703.9,696.4 707.6,696.4 711.4,695.2 715.4,690.6 718.8,686.6 722.7,681.5 726.2,672.9 729.6,669.4 733.4,664.3 736.8,672.0 741.1,682.3 744.6,687.1 748.5,693.5 751.9,708.1 755.7,719.2 759.1,728.7 763.4,733.8 766.9,738.7 770.8,743.3 774.6,748.4 778.0,751.9 781.5,754.1 785.3,755.0 789.2,750.2 793.2,745.9 796.9,740.7 800.0,738.5 803.4,740.7 807.7,744.5 812.0,746.7 816.3,747.9 822.3,750.2 827.5,748.8 832.6,746.4 836.9,742.1 841.2,738.5 845.5,737.3 849.8,736.1 854.1,736.8 859.2,738.5 863.5,739.0 867.0,738.7 870.4,736.4 873.8,733.5 877.3,731.6 880.7,731.3 885.0,729.2 889.3,727.8 892.7,727.0 896.2,722.7 899.6,717.5 903.9,713.2 907.7,709.5 910.8,715.8 915.1,722.2 918.5,726.6 922.3,730.9 926.2,728.7 929.7,726.1 934.0,726.1 937.4,724.9 940.5,724.4" fill="none" stroke="#000" stroke-width="1.9" stroke-linejoin="round" stroke-linecap="round" />
</g>
<text x="16.5" y="15.6" font-size="14.5" font-weight="bold" text-anchor="start" fill="#000" textLength="42.3" lengthAdjust="spacingAndGlyphs" stroke="#000" stroke-width="0.3">$GOLD</text>
<text x="63.5" y="15" font-size="11.5" font-weight="normal" text-anchor="start" fill="#000" textLength="86" lengthAdjust="spacingAndGlyphs" >Gold - Spot (EOD)</text>
<text x="154.5" y="15" font-size="9" font-weight="normal" text-anchor="start" fill="#000" textLength="22" lengthAdjust="spacingAndGlyphs" >CME</text>
<text x="857" y="14.5" font-size="9.5" font-weight="normal" text-anchor="start" fill="#3a3a3a" textLength="89" lengthAdjust="spacingAndGlyphs" >&#169;StockCharts.com</text>
<text x="19.5" y="45" font-size="10.5" font-weight="normal" text-anchor="start" fill="#000" >Open:</text>
<text x="77.5" y="45" font-size="11" font-weight="bold" text-anchor="start" fill="#000" textLength="45" lengthAdjust="spacingAndGlyphs" stroke="#000" stroke-width="0.25">4475.68</text>
<text x="155.5" y="45" font-size="10.5" font-weight="normal" text-anchor="start" fill="#000" >Ask:</text>
<text x="280.5" y="45" font-size="10.5" font-weight="normal" text-anchor="start" fill="#000" >Mkt Cap:</text>
<text x="404" y="45" font-size="10.5" font-weight="normal" text-anchor="start" fill="#000" >P/E:</text>
<text x="19.5" y="59.4" font-size="10.5" font-weight="normal" text-anchor="start" fill="#000" >High:</text>
<text x="77.5" y="59.4" font-size="11" font-weight="bold" text-anchor="start" fill="#000" textLength="45" lengthAdjust="spacingAndGlyphs" stroke="#000" stroke-width="0.25">4517.23</text>
<text x="155.5" y="59.4" font-size="10.5" font-weight="normal" text-anchor="start" fill="#000" >Bid:</text>
<text x="280.5" y="59.4" font-size="10.5" font-weight="normal" text-anchor="start" fill="#000" >Fwd Dividend:</text>
<text x="404" y="59.4" font-size="10.5" font-weight="normal" text-anchor="start" fill="#000" >EPS:</text>
<text x="19.5" y="73.8" font-size="10.5" font-weight="normal" text-anchor="start" fill="#000" >Low:</text>
<text x="77.5" y="73.8" font-size="11" font-weight="bold" text-anchor="start" fill="#000" textLength="45" lengthAdjust="spacingAndGlyphs" stroke="#000" stroke-width="0.25">4452.91</text>
<text x="155.5" y="73.8" font-size="10.5" font-weight="normal" text-anchor="start" fill="#000" >Last:</text>
<text x="280.5" y="73.8" font-size="10.5" font-weight="normal" text-anchor="start" fill="#000" >Fwd Yield:</text>
<text x="404" y="73.8" font-size="10.5" font-weight="normal" text-anchor="start" fill="#000" >Last Earnings:</text>
<text x="19.5" y="88.2" font-size="10.5" font-weight="normal" text-anchor="start" fill="#000" >Prev Close:</text>
<text x="77.5" y="88.2" font-size="11" font-weight="bold" text-anchor="start" fill="#000" textLength="45" lengthAdjust="spacingAndGlyphs" stroke="#000" stroke-width="0.25">4478.35</text>
<text x="155.5" y="88.2" font-size="10.5" font-weight="normal" text-anchor="start" fill="#000" >Optionable:</text>
<text x="280.5" y="88.2" font-size="10.5" font-weight="normal" text-anchor="start" fill="#000" >SCTR:</text>
<text x="404" y="88.2" font-size="10.5" font-weight="normal" text-anchor="start" fill="#000" >Next Earnings:</text>
<text x="233.5" y="88.2" font-size="11" font-weight="bold" text-anchor="start" fill="#000" textLength="13.5" lengthAdjust="spacingAndGlyphs" stroke="#000" stroke-width="0.25">no</text>
<text x="352.5" y="59.4" font-size="11" font-weight="bold" text-anchor="start" fill="#000" textLength="18.8" lengthAdjust="spacingAndGlyphs" stroke="#000" stroke-width="0.25">N/A</text>
<text x="352.5" y="73.8" font-size="11" font-weight="bold" text-anchor="start" fill="#000" textLength="18.8" lengthAdjust="spacingAndGlyphs" stroke="#000" stroke-width="0.25">N/A</text>
<text x="941.5" y="30" font-size="10.6" font-weight="normal" text-anchor="end" fill="#000" textLength="90.6" lengthAdjust="spacingAndGlyphs" >Friday&#160;&#160;9-Jan-2026</text>
<path d="M872.8 46.6 L879.1 35.2 L885.4 46.6 Z" fill="#6a7d94"/>
<text x="941.5" y="46.2" font-size="14.6" font-weight="bold" text-anchor="end" fill="#6a7d94" >+0.72%</text>
<text x="870" y="59.4" font-size="10.5" font-weight="normal" text-anchor="start" fill="#000" >Chg:</text>
<text x="941.5" y="59.4" font-size="11" font-weight="bold" text-anchor="end" fill="#000" textLength="37.6" lengthAdjust="spacingAndGlyphs" stroke="#000" stroke-width="0.25">+32.26</text>
<text x="870" y="73.8" font-size="10.5" font-weight="normal" text-anchor="start" fill="#000" >Last:</text>
<text x="941.5" y="73.8" font-size="11" font-weight="bold" text-anchor="end" fill="#000" textLength="44.7" lengthAdjust="spacingAndGlyphs" stroke="#000" stroke-width="0.25">4510.61</text>
<text x="870" y="88.2" font-size="10.5" font-weight="normal" text-anchor="start" fill="#000" >Volume:</text>
<text x="941.5" y="88.2" font-size="11" font-weight="bold" text-anchor="end" fill="#000" textLength="6.9" lengthAdjust="spacingAndGlyphs" stroke="#000" stroke-width="0.25">0</text>
<rect x="17" y="92" width="395" height="12.2" fill="#f6f7fb"/>
<rect x="17" y="235" width="250" height="12.5" fill="#f6f7fb"/>
<rect x="17" y="247.5" width="88.5" height="11.0" fill="#f6f7fb"/>
<rect x="17" y="258.5" width="82.8" height="11.0" fill="#f6f7fb"/>
<rect x="17" y="269.5" width="87.8" height="11.0" fill="#f6f7fb"/>
<rect x="17" y="280.5" width="75.5" height="9.3" fill="#f6f7fb"/>
<rect x="17" y="658" width="229.5" height="12.2" fill="#f6f7fb"/>
<rect x="18.7" y="97.3" width="8.8" height="2" fill="#0c1c50"/>
<text x="31.8" y="101.7" font-size="9.8" font-weight="normal" text-anchor="start" fill="#000" textLength="379" lengthAdjust="spacingAndGlyphs" stroke="#000" stroke-width="0.05">Gold - Spot (EOD)/Vanguard Total Stock Market ETF 39.23% (9 Jan)</text>
<g fill="#000" shape-rendering="crispEdges"><rect x="20" y="237.5" width="1" height="5"/><rect x="19" y="238" width="1" height="1"/><rect x="21" y="241" width="1" height="1"/><rect x="23" y="237" width="1" height="9"/><rect x="22" y="243" width="3" height="1"/><rect x="26" y="237" width="1" height="6"/><rect x="25" y="242" width="1" height="1"/><rect x="27" y="240" width="1" height="1"/></g>
<text x="32.4" y="244.9" font-size="9.8" font-weight="normal" text-anchor="start" fill="#000" textLength="233" lengthAdjust="spacingAndGlyphs" stroke="#000" stroke-width="0.05">Gold - Spot (EOD) (Daily) 4510.61 (9 Jan)</text>
<rect x="18.7" y="251.0" width="8.8" height="2" fill="#0a5e0a"/>
<text x="29.8" y="255.7" font-size="9.5" font-weight="normal" text-anchor="start" fill="#0a640a" textLength="74" lengthAdjust="spacingAndGlyphs" stroke="#0a640a" stroke-width="0.25">EMA(20) 4386.01</text>
<rect x="18.7" y="262.0" width="8.8" height="2" fill="#00009a"/>
<text x="29.8" y="266.6" font-size="9.5" font-weight="normal" text-anchor="start" fill="#00009a" textLength="68.6" lengthAdjust="spacingAndGlyphs" stroke="#00009a" stroke-width="0.25">MA(50) 4221.12</text>
<rect x="18.7" y="272.9" width="8.8" height="2" fill="#e00000"/>
<text x="29.8" y="277.6" font-size="9.5" font-weight="normal" text-anchor="start" fill="#e00000" textLength="73.5" lengthAdjust="spacingAndGlyphs" stroke="#e00000" stroke-width="0.25">MA(200) 3649.95</text>
<g fill="#2f6b2f"><rect x="19" y="283.7" width="1.5" height="4"/><rect x="21" y="280.3" width="1.6" height="7.4"/><rect x="23.2" y="280.6" width="1.8" height="7.1"/><rect x="25.6" y="282.6" width="2" height="5.1"/><rect x="19" y="286" width="8.6" height="1.7" opacity="0.55"/></g>
<text x="29.8" y="287.7" font-size="9.5" font-weight="normal" text-anchor="start" fill="#2e5a2e" textLength="61.2" lengthAdjust="spacingAndGlyphs" stroke="#2e5a2e" stroke-width="0.25">Volume undef</text>
<rect x="18.7" y="663.0999999999999" width="8.8" height="2.4" fill="#000"/>
<text x="31.8" y="667.7" font-size="9.8" font-weight="normal" text-anchor="start" fill="#000" textLength="126" lengthAdjust="spacingAndGlyphs" stroke="#000" stroke-width="0.05">MACD(12,26,9) 71.924</text>
<text x="159.4" y="667.7" font-size="9.8" font-weight="normal" text-anchor="start" fill="#a81440" textLength="46.5" lengthAdjust="spacingAndGlyphs" stroke="#a81440" stroke-width="0.05">, 69.939</text>
<text x="206.6" y="667.7" font-size="9.8" font-weight="normal" text-anchor="start" fill="#4f8f80" textLength="38.5" lengthAdjust="spacingAndGlyphs" stroke="#4f8f80" stroke-width="0.05">, 1.984</text>
<path d="M944.2 113.9 L948 108.30000000000001 L986.8 108.30000000000001 L986.8 119.5 L948 119.5 Z" fill="#fff" stroke="#1f2c5c" stroke-width="1.1" stroke-linejoin="miter"/>
<text x="949" y="117.9" font-size="10" font-weight="bold" text-anchor="start" fill="#000" textLength="34.8" lengthAdjust="spacingAndGlyphs" >39.23%</text>
<path d="M944.2 403.7 L948 398.3 L991 398.3 L991 409.09999999999997 L948 409.09999999999997 Z" fill="#fff" stroke="#e01010" stroke-width="1.1" stroke-linejoin="miter"/>
<text x="949.2" y="407.7" font-size="10" font-weight="normal" text-anchor="start" fill="#000" textLength="37.6" lengthAdjust="spacingAndGlyphs" >3649.95</text>
<path d="M944.2 296.5 L948 291.1 L991 291.1 L991 301.9 L948 301.9 Z" fill="#fff" stroke="#1a1a9c" stroke-width="1.1" stroke-linejoin="miter"/>
<text x="949.2" y="300.5" font-size="10" font-weight="normal" text-anchor="start" fill="#000" textLength="37.6" lengthAdjust="spacingAndGlyphs" >4221.12</text>
<path d="M944.2 267.7 L948 262.3 L991 262.3 L991 273.09999999999997 L948 273.09999999999997 Z" fill="#fff" stroke="#1a7a1a" stroke-width="1.1" stroke-linejoin="miter"/>
<text x="949.2" y="271.7" font-size="10" font-weight="normal" text-anchor="start" fill="#000" textLength="37.6" lengthAdjust="spacingAndGlyphs" >4386.01</text>
<path d="M944.2 247.8 L948 242.4 L991 242.4 L991 253.20000000000002 L948 253.20000000000002 Z" fill="#fff" stroke="#000" stroke-width="1.1" stroke-linejoin="miter"/>
<text x="949.2" y="251.8" font-size="10" font-weight="bold" text-anchor="start" fill="#000" textLength="37.7" lengthAdjust="spacingAndGlyphs" >4510.61</text>
<path d="M944.2 724.4 L948 719.0 L983.7 719.0 L983.7 729.8 L948 729.8 Z" fill="#fff" stroke="#b01040" stroke-width="1.1" stroke-linejoin="miter"/>
<text x="949.2" y="728.4" font-size="10" font-weight="normal" text-anchor="start" fill="#000" ></text>
<path d="M944.2 723.3 L948 718.0999999999999 L983.7 718.0999999999999 L983.7 728.5 L948 728.5 Z" fill="#fff" stroke="#000" stroke-width="1.1" stroke-linejoin="miter"/>
<text x="949.2" y="726.8" font-size="9.3" font-weight="normal" text-anchor="start" fill="#000" textLength="32.8" lengthAdjust="spacingAndGlyphs" >71.924</text>
<path d="M944.2 764.4 L948 759.1999999999999 L977.6 759.1999999999999 L977.6 769.6 L948 769.6 Z" fill="#fff" stroke="#5c68a8" stroke-width="1.1" stroke-linejoin="miter"/>
<text x="949.7" y="767.9" font-size="9.3" font-weight="normal" text-anchor="start" fill="#000" textLength="26.2" lengthAdjust="spacingAndGlyphs" >1.984</text>
</svg>
</body></html>
